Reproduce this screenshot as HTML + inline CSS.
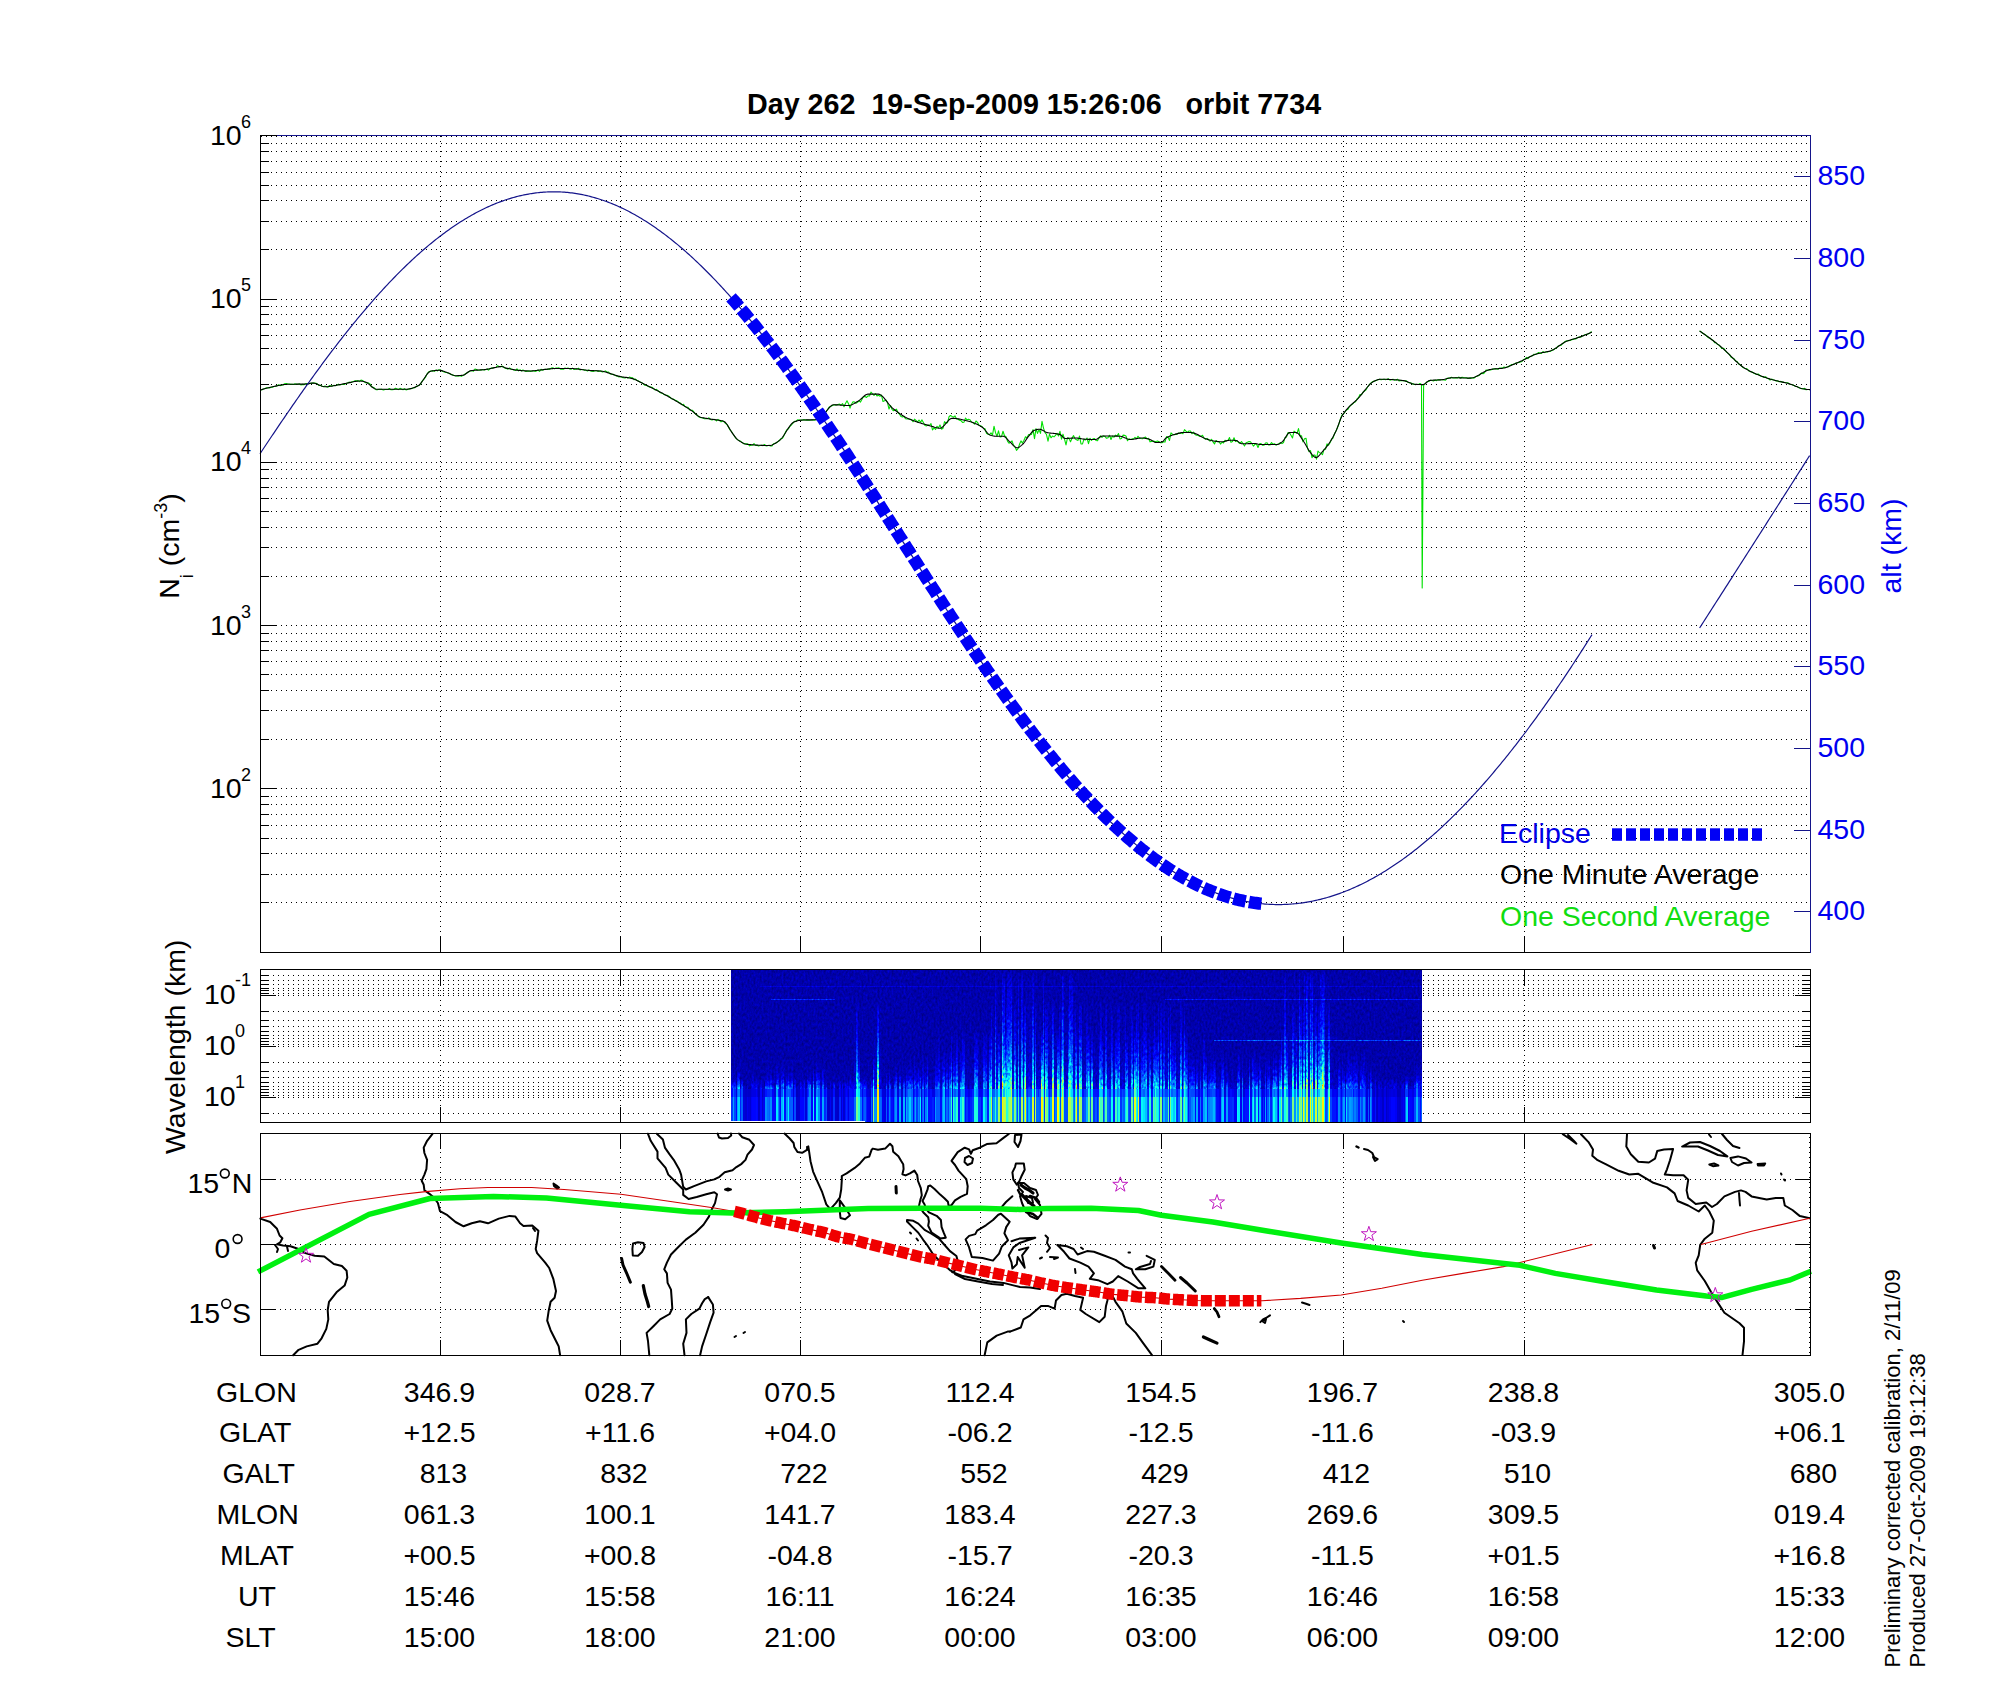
<!DOCTYPE html><html><head><meta charset="utf-8"><title>C/NOFS orbit 7734</title><style>html,body{margin:0;padding:0;background:#fff;}svg{display:block;}text{font-family:"Liberation Sans", sans-serif;white-space:pre;}</style></head><body>
<svg width="2000" height="1700" viewBox="0 0 2000 1700">
<rect width="2000" height="1700" fill="#fff"/>
<text x="747" y="114" font-size="28.7" text-anchor="start" fill="#000" font-weight="bold">Day 262  19-Sep-2009 15:26:06   orbit 7734</text>
<g shape-rendering="crispEdges"><line x1="261" y1="902.5" x2="1809" y2="902.5" stroke="#000" stroke-width="1" stroke-dasharray="1 4"/><line x1="261" y1="874.5" x2="1809" y2="874.5" stroke="#000" stroke-width="1" stroke-dasharray="1 4"/><line x1="261" y1="853.5" x2="1809" y2="853.5" stroke="#000" stroke-width="1" stroke-dasharray="1 4"/><line x1="261" y1="838.5" x2="1809" y2="838.5" stroke="#000" stroke-width="1" stroke-dasharray="1 4"/><line x1="261" y1="825.5" x2="1809" y2="825.5" stroke="#000" stroke-width="1" stroke-dasharray="1 4"/><line x1="261" y1="814.5" x2="1809" y2="814.5" stroke="#000" stroke-width="1" stroke-dasharray="1 4"/><line x1="261" y1="804.5" x2="1809" y2="804.5" stroke="#000" stroke-width="1" stroke-dasharray="1 4"/><line x1="261" y1="796.5" x2="1809" y2="796.5" stroke="#000" stroke-width="1" stroke-dasharray="1 4"/><line x1="261" y1="788.5" x2="1809" y2="788.5" stroke="#000" stroke-width="1" stroke-dasharray="1 4"/><line x1="261" y1="739.5" x2="1809" y2="739.5" stroke="#000" stroke-width="1" stroke-dasharray="1 4"/><line x1="261" y1="710.5" x2="1809" y2="710.5" stroke="#000" stroke-width="1" stroke-dasharray="1 4"/><line x1="261" y1="690.5" x2="1809" y2="690.5" stroke="#000" stroke-width="1" stroke-dasharray="1 4"/><line x1="261" y1="674.5" x2="1809" y2="674.5" stroke="#000" stroke-width="1" stroke-dasharray="1 4"/><line x1="261" y1="661.5" x2="1809" y2="661.5" stroke="#000" stroke-width="1" stroke-dasharray="1 4"/><line x1="261" y1="650.5" x2="1809" y2="650.5" stroke="#000" stroke-width="1" stroke-dasharray="1 4"/><line x1="261" y1="641.5" x2="1809" y2="641.5" stroke="#000" stroke-width="1" stroke-dasharray="1 4"/><line x1="261" y1="633.5" x2="1809" y2="633.5" stroke="#000" stroke-width="1" stroke-dasharray="1 4"/><line x1="261" y1="625.5" x2="1809" y2="625.5" stroke="#000" stroke-width="1" stroke-dasharray="1 4"/><line x1="261" y1="576.5" x2="1809" y2="576.5" stroke="#000" stroke-width="1" stroke-dasharray="1 4"/><line x1="261" y1="547.5" x2="1809" y2="547.5" stroke="#000" stroke-width="1" stroke-dasharray="1 4"/><line x1="261" y1="527.5" x2="1809" y2="527.5" stroke="#000" stroke-width="1" stroke-dasharray="1 4"/><line x1="261" y1="511.5" x2="1809" y2="511.5" stroke="#000" stroke-width="1" stroke-dasharray="1 4"/><line x1="261" y1="498.5" x2="1809" y2="498.5" stroke="#000" stroke-width="1" stroke-dasharray="1 4"/><line x1="261" y1="487.5" x2="1809" y2="487.5" stroke="#000" stroke-width="1" stroke-dasharray="1 4"/><line x1="261" y1="478.5" x2="1809" y2="478.5" stroke="#000" stroke-width="1" stroke-dasharray="1 4"/><line x1="261" y1="469.5" x2="1809" y2="469.5" stroke="#000" stroke-width="1" stroke-dasharray="1 4"/><line x1="261" y1="462.5" x2="1809" y2="462.5" stroke="#000" stroke-width="1" stroke-dasharray="1 4"/><line x1="261" y1="413.5" x2="1809" y2="413.5" stroke="#000" stroke-width="1" stroke-dasharray="1 4"/><line x1="261" y1="384.5" x2="1809" y2="384.5" stroke="#000" stroke-width="1" stroke-dasharray="1 4"/><line x1="261" y1="364.5" x2="1809" y2="364.5" stroke="#000" stroke-width="1" stroke-dasharray="1 4"/><line x1="261" y1="348.5" x2="1809" y2="348.5" stroke="#000" stroke-width="1" stroke-dasharray="1 4"/><line x1="261" y1="335.5" x2="1809" y2="335.5" stroke="#000" stroke-width="1" stroke-dasharray="1 4"/><line x1="261" y1="324.5" x2="1809" y2="324.5" stroke="#000" stroke-width="1" stroke-dasharray="1 4"/><line x1="261" y1="314.5" x2="1809" y2="314.5" stroke="#000" stroke-width="1" stroke-dasharray="1 4"/><line x1="261" y1="306.5" x2="1809" y2="306.5" stroke="#000" stroke-width="1" stroke-dasharray="1 4"/><line x1="261" y1="299.5" x2="1809" y2="299.5" stroke="#000" stroke-width="1" stroke-dasharray="1 4"/><line x1="261" y1="249.5" x2="1809" y2="249.5" stroke="#000" stroke-width="1" stroke-dasharray="1 4"/><line x1="261" y1="221.5" x2="1809" y2="221.5" stroke="#000" stroke-width="1" stroke-dasharray="1 4"/><line x1="261" y1="200.5" x2="1809" y2="200.5" stroke="#000" stroke-width="1" stroke-dasharray="1 4"/><line x1="261" y1="185.5" x2="1809" y2="185.5" stroke="#000" stroke-width="1" stroke-dasharray="1 4"/><line x1="261" y1="172.5" x2="1809" y2="172.5" stroke="#000" stroke-width="1" stroke-dasharray="1 4"/><line x1="261" y1="161.5" x2="1809" y2="161.5" stroke="#000" stroke-width="1" stroke-dasharray="1 4"/><line x1="261" y1="151.5" x2="1809" y2="151.5" stroke="#000" stroke-width="1" stroke-dasharray="1 4"/><line x1="261" y1="143.5" x2="1809" y2="143.5" stroke="#000" stroke-width="1" stroke-dasharray="1 4"/><line x1="261" y1="136.5" x2="1809" y2="136.5" stroke="#000" stroke-width="1" stroke-dasharray="1 4"/><line x1="440.5" y1="136" x2="440.5" y2="951" stroke="#000" stroke-width="1" stroke-dasharray="1 4"/><line x1="620.5" y1="136" x2="620.5" y2="951" stroke="#000" stroke-width="1" stroke-dasharray="1 4"/><line x1="800.5" y1="136" x2="800.5" y2="951" stroke="#000" stroke-width="1" stroke-dasharray="1 4"/><line x1="980.5" y1="136" x2="980.5" y2="951" stroke="#000" stroke-width="1" stroke-dasharray="1 4"/><line x1="1161.5" y1="136" x2="1161.5" y2="951" stroke="#000" stroke-width="1" stroke-dasharray="1 4"/><line x1="1343.5" y1="136" x2="1343.5" y2="951" stroke="#000" stroke-width="1" stroke-dasharray="1 4"/><line x1="1524.5" y1="136" x2="1524.5" y2="951" stroke="#000" stroke-width="1" stroke-dasharray="1 4"/></g>
<path d="M260.5 389.88 L262 389.77 L263.5 388.95 L265 388.47 L266.5 387.75 L268 387.69 L269.5 387.94 L271 387.25 L272.5 387.21 L274 386.52 L275.5 386.29 L277 385.9 L278.5 384.71 L280 385.64 L281.5 385.21 L283 384.97 L284.5 383.72 L286 383.56 L287.5 383.88 L289 384.04 L290.5 384.38 L292 384.19 L293.5 384.44 L295 383.87 L296.5 384.32 L298 384.35 L299.5 383.83 L301 384.96 L302.5 384.38 L304 384.66 L305.5 383.76 L307 383.66 L308.5 383.69 L310 383.4 L311.5 383.38 L313 383.14 L314.5 383.05 L316 383.24 L317.5 384.03 L319 385.51 L320.5 385.17 L322 386.25 L323.5 386.77 L325 386.07 L326.5 386.79 L328 387.25 L329.5 385.45 L331 386.02 L332.5 385.89 L334 385.31 L335.5 385.67 L337 385.12 L338.5 384.14 L340 384.94 L341.5 384.56 L343 384.39 L344.5 384.34 L346 383.54 L347.5 383.12 L349 382.11 L350.5 382.7 L352 381.77 L353.5 381.54 L355 380.87 L356.5 380.79 L358 380.84 L359.5 381.63 L361 380.06 L362.5 380.54 L364 381.68 L365.5 382.64 L367 382.99 L368.5 382.91 L370 383.92 L371.5 386.64 L373 387.34 L374.5 388.1 L376 389.62 L377.5 389.73 L379 389.28 L380.5 389.32 L382 389.41 L383.5 389.97 L385 389.5 L386.5 389.45 L388 389.46 L389.5 388.45 L391 389.82 L392.5 389.66 L394 389.45 L395.5 388.25 L397 388.9 L398.5 389.6 L400 388.33 L401.5 389.11 L403 389.69 L404.5 388.57 L406 389.97 L407.5 389.42 L409 388.9 L410.5 388.82 L412 388.56 L413.5 387.81 L415 387.73 L416.5 386.25 L418 385.71 L419.5 385.29 L421 383.1 L422.5 380.58 L424 379.17 L425.5 377.13 L427 374.12 L428.5 371.95 L430 371.39 L431.5 370.95 L433 370.64 L434.5 371.27 L436 369.95 L437.5 370.95 L439 369.69 L440.5 370.02 L442 371.04 L443.5 371.76 L445 372.2 L446.5 372.52 L448 372.94 L449.5 373.59 L451 374.52 L452.5 374.85 L454 375.59 L455.5 375.97 L457 375.68 L458.5 375.99 L460 375.79 L461.5 376.34 L463 375.37 L464.5 374.51 L466 373.51 L467.5 372.47 L469 371.84 L470.5 370.64 L472 370.76 L473.5 371.29 L475 369.04 L476.5 369.62 L478 370.18 L479.5 370.17 L481 370 L482.5 369.57 L484 369.96 L485.5 369.61 L487 369 L488.5 370.14 L490 368.83 L491.5 368.05 L493 367.93 L494.5 367.53 L496 367.29 L497.5 365.72 L499 366.51 L500.5 367 L502 366.06 L503.5 367.07 L505 368.15 L506.5 368.53 L508 369.18 L509.5 367.98 L511 368.95 L512.5 369.27 L514 370.01 L515.5 370.49 L517 368.89 L518.5 370.89 L520 369.81 L521.5 370.94 L523 370 L524.5 370.9 L526 371.47 L527.5 370.89 L529 371.08 L530.5 371.38 L532 370.99 L533.5 370.75 L535 371.36 L536.5 370.93 L538 370.09 L539.5 371.37 L541 369.35 L542.5 370.17 L544 369.42 L545.5 369.42 L547 369.51 L548.5 369.11 L550 369.14 L551.5 367.97 L553 367.87 L554.5 368.82 L556 368.04 L557.5 368.01 L559 367.79 L560.5 369.11 L562 368.86 L563.5 369.21 L565 368.05 L566.5 368.5 L568 367.95 L569.5 368.87 L571 369.27 L572.5 368.14 L574 369.42 L575.5 369.27 L577 368.88 L578.5 368.2 L580 370.01 L581.5 369.5 L583 369.46 L584.5 370.14 L586 370.32 L587.5 371.01 L589 369.94 L590.5 371.08 L592 371.32 L593.5 371.37 L595 370.65 L596.5 370.44 L598 371.36 L599.5 371.02 L601 371.16 L602.5 372.01 L604 371.52 L605.5 370.92 L607 372.27 L608.5 372.04 L610 373.83 L611.5 374.11 L613 374.18 L614.5 374.97 L616 375.86 L617.5 375.93 L619 376.92 L620.5 376.57 L622 377.36 L623.5 377.81 L625 378.07 L626.5 377.19 L628 378.15 L629.5 377.08 L631 377.75 L632.5 377.69 L634 379.63 L635.5 379.12 L637 380.4 L638.5 381.06 L640 381.93 L641.5 382.45 L643 383.62 L644.5 385.1 L646 384.98 L647.5 385.94 L649 386.89 L650.5 387.06 L652 387.29 L653.5 388.38 L655 389.92 L656.5 389.38 L658 390.66 L659.5 392.22 L661 392.91 L662.5 393.34 L664 394.54 L665.5 395.06 L667 395.25 L668.5 395.91 L670 397.2 L671.5 398.81 L673 398.97 L674.5 399.68 L676 400.63 L677.5 401.15 L679 402.72 L680.5 403.11 L682 404.76 L683.5 404.37 L685 406.58 L686.5 407.06 L688 407.4 L689.5 409.66 L691 410.18 L692.5 410.29 L694 412.17 L695.5 414.06 L697 414.99 L698.5 416.66 L700 417.36 L701.5 417.75 L703 417.94 L704.5 418.72 L706 418.65 L707.5 418.79 L709 417.82 L710.5 419.52 L712 419.96 L713.5 419.4 L715 419.51 L716.5 420.85 L718 419.29 L719.5 420.6 L721 421.84 L722.5 420.6 L724 421.83 L725.5 423.45 L727 424.38 L728.5 427.13 L730 429.9 L731.5 431.49 L733 433.95 L734.5 436.21 L736 438.43 L737.5 439.59 L739 440.59 L740.5 441.17 L742 442.35 L743.5 443.68 L745 443.87 L746.5 443.79 L748 443.98 L749.5 445.82 L751 445.22 L752.5 445.11 L754 443.68 L755.5 445.33 L757 445.36 L758.5 446.02 L760 445.49 L761.5 445.32 L763 445.65 L764.5 444.51 L766 445.97 L767.5 445.65 L769 445.16 L770.5 446.04 L772 445.88 L773.5 443.69 L775 443.2 L776.5 442.69 L778 441.6 L779.5 440.27 L781 438.6 L782.5 438.24 L784 435.56 L785.5 432.12 L787 429.63 L788.5 428.74 L790 426.25 L791.5 424.84 L793 423 L794.5 421.42 L796 421.42 L797.5 419.78 L799 420.09 L800.5 420.16 L802 420.32 L803.5 419.66 L805 419.9 L806.5 420.14 L808 420.08 L809.5 420.18 L811 419.96 L812.5 419.68 L814 420.19 L815.5 419.79 L817 419.31 L818.5 419.32 L820 419.01 L821.5 417.23 L823 415.27 L824.5 413.47 L826 411.77 L827.5 409.72 L829 407.34 L830.5 406.57 L832 405.76 L833.5 405.01 L835 404.73 L836.5 405.08 L838 404.48 L839.5 404.13 L841 405.25 L842.5 403.58 L844 406.68 L845.5 403.47 L847 400.75 L848.5 403.63 L850 408.16 L851.5 404.16 L853 401.68 L854.5 401.92 L856 403.31 L857.5 402.35 L859 400.88 L860.5 402.06 L862 399.3 L863.5 396.6 L865 396.48 L866.5 397.48 L868 395.85 L869.5 395.94 L871 392.15 L872.5 393.83 L874 395.41 L875.5 393.57 L877 396.02 L878.5 395.2 L880 396.22 L881.5 395.17 L883 401.52 L884.5 400.84 L886 400.09 L887.5 402.59 L889 409.03 L890.5 405.54 L892 409.29 L893.5 410.74 L895 410.15 L896.5 409.18 L898 412.73 L899.5 414.11 L901 416.52 L902.5 416.87 L904 416.41 L905.5 418.74 L907 418.94 L908.5 419.03 L910 419.41 L911.5 419.49 L913 421.74 L914.5 419.17 L916 420.47 L917.5 422.12 L919 419.97 L920.5 422.29 L922 419.91 L923.5 422.74 L925 425.43 L926.5 425.85 L928 425.15 L929.5 425.24 L931 423.54 L932.5 429.86 L934 427.98 L935.5 429.47 L937 426.28 L938.5 427.78 L940 424.92 L941.5 429.15 L943 428.31 L944.5 421.67 L946 423.22 L947.5 422.67 L949 416.79 L950.5 415.53 L952 416.39 L953.5 417.2 L955 415.91 L956.5 418.65 L958 419.27 L959.5 420.23 L961 420.65 L962.5 422.43 L964 422.17 L965.5 418.08 L967 419.89 L968.5 419.28 L970 419.68 L971.5 421.96 L973 422.65 L974.5 424.11 L976 421.02 L977.5 422.36 L979 425.31 L980.5 425.81 L982 426.5 L983.5 428.25 L985 428.74 L986.5 433.23 L988 434.28 L989.5 434.63 L991 432.89 L992.5 435.1 L994 426.23 L995.5 432.66 L997 436.33 L998.5 430.79 L1000 436.92 L1001.5 436.73 L1003 431.24 L1004.5 435.77 L1006 436.74 L1007.5 441.11 L1009 443.27 L1010.5 442.31 L1012 440.93 L1013.5 445.11 L1015 446.75 L1016.5 450.39 L1018 448.7 L1019.5 444.31 L1021 440.89 L1022.5 443.1 L1024 440.24 L1025.5 436.71 L1027 437.95 L1028.5 434.6 L1030 434.78 L1031.5 434.41 L1033 429.59 L1034.5 438.68 L1036 428.64 L1037.5 433.38 L1039 429.65 L1040.5 433.35 L1042 421.37 L1043.5 428.07 L1045 432.55 L1046.5 434.52 L1048 441.13 L1049.5 434.13 L1051 437.77 L1052.5 436.08 L1054 436.88 L1055.5 435.47 L1057 433.29 L1058.5 435.96 L1060 431.27 L1061.5 439.12 L1063 434.18 L1064.5 439.15 L1066 444.85 L1067.5 437.75 L1069 438.38 L1070.5 441.7 L1072 438.19 L1073.5 435.61 L1075 438.77 L1076.5 439.81 L1078 440.36 L1079.5 436.14 L1081 443.97 L1082.5 443.95 L1084 439.18 L1085.5 440.03 L1087 438.01 L1088.5 443.6 L1090 438.35 L1091.5 440.46 L1093 438.76 L1094.5 438.46 L1096 440.43 L1097.5 440.69 L1099 437.73 L1100.5 435.8 L1102 437.37 L1103.5 435.93 L1105 436.47 L1106.5 438.29 L1108 437.71 L1109.5 435.25 L1111 439.47 L1112.5 436.06 L1114 437.26 L1115.5 435.13 L1117 436.07 L1118.5 433.54 L1120 438.88 L1121.5 438.48 L1123 435.13 L1124.5 435.38 L1126 435.93 L1127.5 440.76 L1129 438.72 L1130.5 439.4 L1132 438.92 L1133.5 439.01 L1135 437.3 L1136.5 438.69 L1138 436.23 L1139.5 438.06 L1141 438.49 L1142.5 438.71 L1144 437.78 L1145.5 437.01 L1147 438.94 L1148.5 438.36 L1150 441.85 L1151.5 441.36 L1153 441.04 L1154.5 441.4 L1156 441.45 L1157.5 441.06 L1159 441.84 L1160.5 442.66 L1162 442.77 L1163.5 441.7 L1165 442.07 L1166.5 436.65 L1168 436.94 L1169.5 440.41 L1171 432.81 L1172.5 434.29 L1174 434.84 L1175.5 434.39 L1177 434.37 L1178.5 433.01 L1180 433.52 L1181.5 432.72 L1183 433.66 L1184.5 429.66 L1186 431.17 L1187.5 432.5 L1189 430.95 L1190.5 430.95 L1192 433.66 L1193.5 432.11 L1195 434.45 L1196.5 435.15 L1198 435.22 L1199.5 436.37 L1201 436.34 L1202.5 435.24 L1204 438.06 L1205.5 439.36 L1207 438.4 L1208.5 439.53 L1210 441.25 L1211.5 439.21 L1213 441.83 L1214.5 443.93 L1216 440.49 L1217.5 441.73 L1219 441.43 L1220.5 444.07 L1222 442.27 L1223.5 443 L1225 440.26 L1226.5 440.83 L1228 440.44 L1229.5 437.55 L1231 442.37 L1232.5 441.61 L1234 437.72 L1235.5 441.57 L1237 440.61 L1238.5 442.49 L1240 443.53 L1241.5 441.49 L1243 443.48 L1244.5 446.01 L1246 442.87 L1247.5 442.15 L1249 441.59 L1250.5 441.75 L1252 444.04 L1253.5 446.05 L1255 444.14 L1256.5 444.08 L1258 447.5 L1259.5 443.69 L1261 443.49 L1262.5 445.29 L1264 445.32 L1265.5 442.98 L1267 442.75 L1268.5 444.94 L1270 444.87 L1271.5 442.54 L1273 444.2 L1274.5 443.69 L1276 445.19 L1277.5 444.29 L1279 443.82 L1280.5 442.51 L1282 443.58 L1283.5 442.53 L1285 437.64 L1286.5 437.05 L1288 432.59 L1289.5 432.69 L1291 435.2 L1292.5 437.95 L1294 431.12 L1295.5 432.23 L1297 433.46 L1298.5 428.56 L1300 435.91 L1301.5 435.71 L1303 441.86 L1304.5 438.67 L1306 438.19 L1307.5 448.22 L1309 451.57 L1310.5 450.63 L1312 457.68 L1313.5 455.17 L1315 455.08 L1316.5 459.16 L1318 451.01 L1319.5 452.75 L1321 453.31 L1322.5 454.62 L1324 449.31 L1325.5 449.24 L1327 443.88 L1328.5 445.28 L1330 442.8 L1331.5 439.27 L1333 438.08 L1334.5 433.77 L1336 431.01 L1337.5 427.44 L1339 423.71 L1340.5 418.62 L1342 414.99 L1343.5 413.89 L1345 411.92 L1346.5 410.01 L1348 409.26 L1349.5 406.51 L1351 405.09 L1352.5 404.07 L1354 402.49 L1355.5 401.77 L1357 398.94 L1358.5 397.77 L1360 394.53 L1361.5 394.7 L1363 392.23 L1364.5 391.02 L1366 389.86 L1367.5 387.02 L1369 385.15 L1370.5 383.48 L1372 382.1 L1373.5 381.27 L1375 381.1 L1376.5 380.19 L1378 379.7 L1379.5 379.19 L1381 379.64 L1382.5 379.45 L1384 379.17 L1385.5 379.6 L1387 379.26 L1388.5 378.84 L1390 380.16 L1391.5 379.77 L1393 379.18 L1394.5 380.26 L1396 380.02 L1397.5 379.23 L1399 380.88 L1400.5 380.4 L1402 380.81 L1403.5 380.69 L1405 380.91 L1406.5 380.73 L1408 382.51 L1409.5 382.66 L1411 383.08 L1412.5 383.9 L1414 384.16 L1415.5 384.69 L1417 384.27 L1418.5 384.49 L1420 383.53 L1421.5 384.39 L1422.2 588 L1423.6 386 L1423 384.92 L1424.5 384.7 L1426 382.72 L1427.5 381.54 L1429 381.38 L1430.5 380.18 L1432 380.57 L1433.5 380.95 L1435 380.11 L1436.5 380.63 L1438 379.65 L1439.5 380.02 L1441 379.79 L1442.5 379.71 L1444 379.92 L1445.5 380.17 L1447 378.33 L1448.5 378 L1450 378.21 L1451.5 377.26 L1453 377.94 L1454.5 377.99 L1456 377.6 L1457.5 378.03 L1459 377.07 L1460.5 378.23 L1462 377.18 L1463.5 377.64 L1465 377.75 L1466.5 377.86 L1468 378.5 L1469.5 378.14 L1471 377.86 L1472.5 378.05 L1474 378.11 L1475.5 376.76 L1477 376.21 L1478.5 375.82 L1480 374.49 L1481.5 372.86 L1483 373.79 L1484.5 372.81 L1486 370.03 L1487.5 370.3 L1489 369.99 L1490.5 369.9 L1492 369.54 L1493.5 368.92 L1495 368.41 L1496.5 368.85 L1498 369.19 L1499.5 368.05 L1501 367.93 L1502.5 368.22 L1504 367.06 L1505.5 367.49 L1507 366.9 L1508.5 366.74 L1510 365.55 L1511.5 364.81 L1513 364.4 L1514.5 363.95 L1516 363.02 L1517.5 362.69 L1519 362.38 L1520.5 361.91 L1522 361.47 L1523.5 359.6 L1525 359.08 L1526.5 357.36 L1528 358.7 L1529.5 356.68 L1531 356.25 L1532.5 355.8 L1534 354.23 L1535.5 354.52 L1537 353.8 L1538.5 352.53 L1540 353.21 L1541.5 353.34 L1543 351.59 L1544.5 352.61 L1546 352.03 L1547.5 351.84 L1549 351.45 L1550.5 351.43 L1552 350.12 L1553.5 349.9 L1555 348.41 L1556.5 347.99 L1558 346.23 L1559.5 345.51 L1561 345.35 L1562.5 343.74 L1564 342.53 L1565.5 341.25 L1567 340.76 L1568.5 340.67 L1570 340.51 L1571.5 339.8 L1573 339.4 L1574.5 338.7 L1576 338.92 L1577.5 337.62 L1579 337.04 L1580.5 337.19 L1582 336.23 L1583.5 335.49 L1585 334.75 L1586.5 334.29 L1588 334.09 L1589.5 333.32 L1591 331.92 L1591.9 332.3" fill="none" stroke="#00e000" stroke-width="1.1" stroke-linejoin="round"/>
<path d="M1699.6 331.06 L1701.1 331.65 L1702.6 333.32 L1704.1 333.98 L1705.6 335.01 L1707.1 336.49 L1708.6 337.76 L1710.1 338.14 L1711.6 339.66 L1713.1 340.31 L1714.6 342.6 L1716.1 342.75 L1717.6 344.53 L1719.1 345.05 L1720.6 346.78 L1722.1 348.56 L1723.6 348.18 L1725.1 350.33 L1726.6 352.11 L1728.1 353.36 L1729.6 354.65 L1731.1 357.16 L1732.6 357.9 L1734.1 358.75 L1735.6 361.1 L1737.1 361.57 L1738.6 363.96 L1740.1 364.62 L1741.6 366.08 L1743.1 367.6 L1744.6 368.2 L1746.1 368.56 L1747.6 369.27 L1749.1 371.1 L1750.6 371.7 L1752.1 371.87 L1753.6 373.17 L1755.1 373.71 L1756.6 374.41 L1758.1 373.99 L1759.6 375.29 L1761.1 376.3 L1762.6 376.79 L1764.1 377.38 L1765.6 376.69 L1767.1 378.14 L1768.6 378.74 L1770.1 379.95 L1771.6 379.13 L1773.1 379.77 L1774.6 380.29 L1776.1 380.96 L1777.6 380.83 L1779.1 381.74 L1780.6 381.38 L1782.1 382.1 L1783.6 382.15 L1785.1 382.75 L1786.6 382.82 L1788.1 382.89 L1789.6 384.28 L1791.1 384.46 L1792.6 384.71 L1794.1 385.59 L1795.6 386.52 L1797.1 386.46 L1798.6 387.39 L1800.1 388.18 L1801.6 388.66 L1803.1 388.72 L1804.6 388.33 L1806.1 389.73 L1807.6 389.57 L1809.1 389.57 L1810 389.6" fill="none" stroke="#00e000" stroke-width="1.1" stroke-linejoin="round"/>
<path d="M260.5 390 L261.5 389.68 L262.5 389.37 L263.5 389.06 L264.5 388.77 L265.5 388.48 L266.5 388.19 L267.5 387.92 L268.5 387.66 L269.5 387.41 L270.5 387.16 L271.5 386.93 L272.5 386.71 L273.5 386.5 L274.5 386.3 L275.5 386.11 L276.5 385.91 L277.5 385.71 L278.5 385.51 L279.5 385.32 L280.5 385.14 L281.5 384.96 L282.5 384.8 L283.5 384.66 L284.5 384.54 L285.5 384.43 L286.5 384.36 L287.5 384.31 L288.5 384.28 L289.5 384.25 L290.5 384.23 L291.5 384.22 L292.5 384.21 L293.5 384.19 L294.5 384.18 L295.5 384.18 L296.5 384.17 L297.5 384.16 L298.5 384.16 L299.5 384.15 L300.5 384.14 L301.5 384.13 L302.5 384.11 L303.5 384.1 L304.5 384.08 L305.5 384.06 L306.5 384.03 L307.5 384 L308.5 383.85 L309.5 383.59 L310.5 383.31 L311.5 383.08 L312.5 383 L313.5 383.08 L314.5 383.26 L315.5 383.54 L316.5 383.88 L317.5 384.28 L318.5 384.7 L319.5 385.14 L320.5 385.56 L321.5 385.95 L322.5 386.29 L323.5 386.56 L324.5 386.74 L325.5 386.8 L326.5 386.77 L327.5 386.69 L328.5 386.56 L329.5 386.41 L330.5 386.25 L331.5 386.09 L332.5 385.94 L333.5 385.78 L334.5 385.61 L335.5 385.43 L336.5 385.24 L337.5 385.05 L338.5 384.85 L339.5 384.64 L340.5 384.44 L341.5 384.23 L342.5 384.03 L343.5 383.84 L344.5 383.65 L345.5 383.46 L346.5 383.27 L347.5 383.07 L348.5 382.85 L349.5 382.63 L350.5 382.4 L351.5 382.18 L352.5 381.96 L353.5 381.76 L354.5 381.57 L355.5 381.4 L356.5 381.25 L357.5 381.14 L358.5 381.05 L359.5 381.01 L360.5 381.01 L361.5 381.09 L362.5 381.24 L363.5 381.45 L364.5 381.68 L365.5 381.95 L366.5 382.41 L367.5 383.05 L368.5 383.83 L369.5 384.68 L370.5 385.58 L371.5 386.47 L372.5 387.31 L373.5 388.04 L374.5 388.64 L375.5 389.04 L376.5 389.2 L377.5 389.2 L378.5 389.2 L379.5 389.2 L380.5 389.2 L381.5 389.2 L382.5 389.2 L383.5 389.2 L384.5 389.2 L385.5 389.2 L386.5 389.2 L387.5 389.2 L388.5 389.2 L389.5 389.2 L390.5 389.2 L391.5 389.2 L392.5 389.2 L393.5 389.2 L394.5 389.2 L395.5 389.2 L396.5 389.2 L397.5 389.2 L398.5 389.2 L399.5 389.2 L400.5 389.2 L401.5 389.2 L402.5 389.2 L403.5 389.2 L404.5 389.2 L405.5 389.2 L406.5 389.2 L407.5 389.15 L408.5 389.04 L409.5 388.88 L410.5 388.66 L411.5 388.4 L412.5 388.09 L413.5 387.75 L414.5 387.38 L415.5 386.98 L416.5 386.56 L417.5 386.13 L418.5 385.61 L419.5 384.79 L420.5 383.71 L421.5 382.43 L422.5 381 L423.5 379.49 L424.5 377.95 L425.5 376.43 L426.5 375 L427.5 373.71 L428.5 372.61 L429.5 371.77 L430.5 371.23 L431.5 371.02 L432.5 370.86 L433.5 370.72 L434.5 370.59 L435.5 370.49 L436.5 370.4 L437.5 370.34 L438.5 370.31 L439.5 370.31 L440.5 370.4 L441.5 370.6 L442.5 370.88 L443.5 371.22 L444.5 371.59 L445.5 371.98 L446.5 372.35 L447.5 372.7 L448.5 373.07 L449.5 373.52 L450.5 374 L451.5 374.48 L452.5 374.93 L453.5 375.31 L454.5 375.57 L455.5 375.7 L456.5 375.69 L457.5 375.67 L458.5 375.62 L459.5 375.56 L460.5 375.47 L461.5 375.38 L462.5 375.27 L463.5 375.12 L464.5 374.71 L465.5 374.07 L466.5 373.29 L467.5 372.47 L468.5 371.72 L469.5 371.13 L470.5 370.8 L471.5 370.65 L472.5 370.51 L473.5 370.4 L474.5 370.31 L475.5 370.23 L476.5 370.16 L477.5 370.09 L478.5 370.04 L479.5 369.98 L480.5 369.92 L481.5 369.85 L482.5 369.78 L483.5 369.69 L484.5 369.59 L485.5 369.47 L486.5 369.33 L487.5 369.16 L488.5 368.97 L489.5 368.76 L490.5 368.55 L491.5 368.32 L492.5 368.09 L493.5 367.86 L494.5 367.63 L495.5 367.42 L496.5 367.22 L497.5 367.03 L498.5 366.85 L499.5 366.65 L500.5 366.52 L501.5 366.53 L502.5 366.75 L503.5 367.1 L504.5 367.5 L505.5 367.86 L506.5 368.12 L507.5 368.35 L508.5 368.58 L509.5 368.8 L510.5 369.02 L511.5 369.23 L512.5 369.43 L513.5 369.62 L514.5 369.8 L515.5 369.96 L516.5 370.11 L517.5 370.25 L518.5 370.36 L519.5 370.46 L520.5 370.54 L521.5 370.61 L522.5 370.68 L523.5 370.75 L524.5 370.82 L525.5 370.87 L526.5 370.92 L527.5 370.96 L528.5 370.98 L529.5 371 L530.5 371 L531.5 370.96 L532.5 370.89 L533.5 370.8 L534.5 370.68 L535.5 370.56 L536.5 370.43 L537.5 370.29 L538.5 370.17 L539.5 370.05 L540.5 369.95 L541.5 369.84 L542.5 369.73 L543.5 369.61 L544.5 369.49 L545.5 369.36 L546.5 369.24 L547.5 369.11 L548.5 369 L549.5 368.89 L550.5 368.79 L551.5 368.7 L552.5 368.63 L553.5 368.57 L554.5 368.52 L555.5 368.5 L556.5 368.5 L557.5 368.5 L558.5 368.5 L559.5 368.5 L560.5 368.5 L561.5 368.5 L562.5 368.5 L563.5 368.5 L564.5 368.5 L565.5 368.5 L566.5 368.5 L567.5 368.5 L568.5 368.5 L569.5 368.5 L570.5 368.5 L571.5 368.53 L572.5 368.57 L573.5 368.63 L574.5 368.71 L575.5 368.8 L576.5 368.9 L577.5 369.02 L578.5 369.14 L579.5 369.27 L580.5 369.41 L581.5 369.54 L582.5 369.68 L583.5 369.81 L584.5 369.94 L585.5 370.07 L586.5 370.18 L587.5 370.29 L588.5 370.39 L589.5 370.47 L590.5 370.53 L591.5 370.59 L592.5 370.63 L593.5 370.67 L594.5 370.71 L595.5 370.75 L596.5 370.79 L597.5 370.84 L598.5 370.9 L599.5 370.96 L600.5 371.05 L601.5 371.17 L602.5 371.33 L603.5 371.53 L604.5 371.76 L605.5 372.02 L606.5 372.31 L607.5 372.61 L608.5 372.93 L609.5 373.27 L610.5 373.61 L611.5 373.96 L612.5 374.3 L613.5 374.64 L614.5 374.98 L615.5 375.3 L616.5 375.61 L617.5 375.9 L618.5 376.16 L619.5 376.39 L620.5 376.6 L621.5 376.78 L622.5 376.94 L623.5 377.09 L624.5 377.23 L625.5 377.37 L626.5 377.51 L627.5 377.65 L628.5 377.81 L629.5 377.98 L630.5 378.17 L631.5 378.38 L632.5 378.63 L633.5 378.94 L634.5 379.3 L635.5 379.71 L636.5 380.17 L637.5 380.65 L638.5 381.16 L639.5 381.68 L640.5 382.21 L641.5 382.74 L642.5 383.26 L643.5 383.76 L644.5 384.24 L645.5 384.72 L646.5 385.2 L647.5 385.68 L648.5 386.17 L649.5 386.66 L650.5 387.15 L651.5 387.65 L652.5 388.15 L653.5 388.65 L654.5 389.15 L655.5 389.66 L656.5 390.17 L657.5 390.69 L658.5 391.21 L659.5 391.74 L660.5 392.27 L661.5 392.8 L662.5 393.34 L663.5 393.88 L664.5 394.43 L665.5 394.98 L666.5 395.53 L667.5 396.09 L668.5 396.66 L669.5 397.22 L670.5 397.8 L671.5 398.37 L672.5 398.95 L673.5 399.53 L674.5 400.12 L675.5 400.7 L676.5 401.3 L677.5 401.89 L678.5 402.48 L679.5 403.08 L680.5 403.68 L681.5 404.28 L682.5 404.89 L683.5 405.5 L684.5 406.12 L685.5 406.74 L686.5 407.37 L687.5 408.01 L688.5 408.66 L689.5 409.31 L690.5 409.98 L691.5 410.66 L692.5 411.36 L693.5 412.16 L694.5 413.03 L695.5 413.93 L696.5 414.8 L697.5 415.6 L698.5 416.28 L699.5 416.81 L700.5 417.16 L701.5 417.44 L702.5 417.68 L703.5 417.89 L704.5 418.08 L705.5 418.25 L706.5 418.41 L707.5 418.57 L708.5 418.74 L709.5 418.91 L710.5 419.09 L711.5 419.26 L712.5 419.41 L713.5 419.54 L714.5 419.67 L715.5 419.79 L716.5 419.92 L717.5 420.06 L718.5 420.21 L719.5 420.38 L720.5 420.57 L721.5 420.79 L722.5 421.04 L723.5 421.34 L724.5 421.73 L725.5 422.54 L726.5 423.73 L727.5 425.21 L728.5 426.86 L729.5 428.6 L730.5 430.32 L731.5 431.93 L732.5 433.33 L733.5 434.68 L734.5 436.07 L735.5 437.41 L736.5 438.61 L737.5 439.61 L738.5 440.35 L739.5 441.02 L740.5 441.65 L741.5 442.24 L742.5 442.78 L743.5 443.25 L744.5 443.65 L745.5 443.97 L746.5 444.2 L747.5 444.33 L748.5 444.44 L749.5 444.54 L750.5 444.63 L751.5 444.72 L752.5 444.81 L753.5 444.89 L754.5 444.96 L755.5 445.03 L756.5 445.1 L757.5 445.16 L758.5 445.21 L759.5 445.26 L760.5 445.31 L761.5 445.35 L762.5 445.39 L763.5 445.42 L764.5 445.44 L765.5 445.46 L766.5 445.48 L767.5 445.49 L768.5 445.5 L769.5 445.5 L770.5 445.41 L771.5 445.17 L772.5 444.82 L773.5 444.36 L774.5 443.82 L775.5 443.21 L776.5 442.55 L777.5 441.86 L778.5 441.16 L779.5 440.46 L780.5 439.59 L781.5 438.5 L782.5 437.23 L783.5 435.81 L784.5 434.29 L785.5 432.7 L786.5 431.08 L787.5 429.48 L788.5 427.92 L789.5 426.46 L790.5 425.13 L791.5 423.96 L792.5 423 L793.5 422.29 L794.5 421.84 L795.5 421.47 L796.5 421.13 L797.5 420.82 L798.5 420.56 L799.5 420.35 L800.5 420.19 L801.5 420.1 L802.5 420.05 L803.5 420 L804.5 419.97 L805.5 419.94 L806.5 419.92 L807.5 419.9 L808.5 419.89 L809.5 419.88 L810.5 419.87 L811.5 419.85 L812.5 419.84 L813.5 419.82 L814.5 419.8 L815.5 419.76 L816.5 419.73 L817.5 419.68 L818.5 419.62 L819.5 419.37 L820.5 418.53 L821.5 417.28 L822.5 415.88 L823.5 414.56 L824.5 413.47 L825.5 412.31 L826.5 411.06 L827.5 409.78 L828.5 408.54 L829.5 407.38 L830.5 406.37 L831.5 405.56 L832.5 405.02 L833.5 404.8 L834.5 404.81 L835.5 404.83 L836.5 404.87 L837.5 404.92 L838.5 404.98 L839.5 405.04 L840.5 405.11 L841.5 405.18 L842.5 405.25 L843.5 405.32 L844.5 405.38 L845.5 405.43 L846.5 405.47 L847.5 405.49 L848.5 405.5 L849.5 405.42 L850.5 405.19 L851.5 404.85 L852.5 404.4 L853.5 403.87 L854.5 403.29 L855.5 402.68 L856.5 402.06 L857.5 401.46 L858.5 400.89 L859.5 400.21 L860.5 399.39 L861.5 398.49 L862.5 397.56 L863.5 396.64 L864.5 395.79 L865.5 395.06 L866.5 394.51 L867.5 394.17 L868.5 394.1 L869.5 394.1 L870.5 394.1 L871.5 394.1 L872.5 394.1 L873.5 394.1 L874.5 394.1 L875.5 394.1 L876.5 394.1 L877.5 394.1 L878.5 394.12 L879.5 394.37 L880.5 394.86 L881.5 395.56 L882.5 396.44 L883.5 397.47 L884.5 398.61 L885.5 399.84 L886.5 401.13 L887.5 402.43 L888.5 403.73 L889.5 404.98 L890.5 406.16 L891.5 407.23 L892.5 408.17 L893.5 408.97 L894.5 409.75 L895.5 410.52 L896.5 411.28 L897.5 412.02 L898.5 412.75 L899.5 413.46 L900.5 414.15 L901.5 414.82 L902.5 415.46 L903.5 416.07 L904.5 416.65 L905.5 417.21 L906.5 417.73 L907.5 418.21 L908.5 418.66 L909.5 419.1 L910.5 419.52 L911.5 419.92 L912.5 420.32 L913.5 420.7 L914.5 421.07 L915.5 421.43 L916.5 421.77 L917.5 422.11 L918.5 422.44 L919.5 422.76 L920.5 423.07 L921.5 423.38 L922.5 423.68 L923.5 423.97 L924.5 424.26 L925.5 424.55 L926.5 424.83 L927.5 425.11 L928.5 425.39 L929.5 425.66 L930.5 425.94 L931.5 426.25 L932.5 426.57 L933.5 426.89 L934.5 427.21 L935.5 427.5 L936.5 427.76 L937.5 427.97 L938.5 428.12 L939.5 428.19 L940.5 428.13 L941.5 427.74 L942.5 427.06 L943.5 426.15 L944.5 425.08 L945.5 423.91 L946.5 422.71 L947.5 421.53 L948.5 420.45 L949.5 419.52 L950.5 418.82 L951.5 418.39 L952.5 418.3 L953.5 418.33 L954.5 418.39 L955.5 418.48 L956.5 418.6 L957.5 418.74 L958.5 418.9 L959.5 419.09 L960.5 419.29 L961.5 419.5 L962.5 419.72 L963.5 419.96 L964.5 420.2 L965.5 420.44 L966.5 420.68 L967.5 420.92 L968.5 421.18 L969.5 421.47 L970.5 421.77 L971.5 422.1 L972.5 422.46 L973.5 422.83 L974.5 423.23 L975.5 423.66 L976.5 424.11 L977.5 424.58 L978.5 425.09 L979.5 425.62 L980.5 426.17 L981.5 426.76 L982.5 427.43 L983.5 428.36 L984.5 429.49 L985.5 430.73 L986.5 431.97 L987.5 433.12 L988.5 434.1 L989.5 434.79 L990.5 435.16 L991.5 435.46 L992.5 435.73 L993.5 435.94 L994.5 436.1 L995.5 436.19 L996.5 436.2 L997.5 436.2 L998.5 436.2 L999.5 436.2 L1000.5 436.2 L1001.5 436.2 L1002.5 436.2 L1003.5 436.26 L1004.5 436.68 L1005.5 437.42 L1006.5 438.38 L1007.5 439.45 L1008.5 440.55 L1009.5 441.56 L1010.5 442.44 L1011.5 443.45 L1012.5 444.55 L1013.5 445.62 L1014.5 446.58 L1015.5 447.32 L1016.5 447.74 L1017.5 447.76 L1018.5 447.45 L1019.5 446.91 L1020.5 446.18 L1021.5 445.34 L1022.5 444.45 L1023.5 443.5 L1024.5 442.23 L1025.5 440.72 L1026.5 439.14 L1027.5 437.65 L1028.5 436.37 L1029.5 435.06 L1030.5 433.75 L1031.5 432.53 L1032.5 431.5 L1033.5 430.74 L1034.5 430.31 L1035.5 429.96 L1036.5 429.65 L1037.5 429.41 L1038.5 429.26 L1039.5 429.2 L1040.5 429.33 L1041.5 429.69 L1042.5 430.19 L1043.5 430.78 L1044.5 431.38 L1045.5 431.93 L1046.5 432.35 L1047.5 432.61 L1048.5 432.81 L1049.5 432.97 L1050.5 433.1 L1051.5 433.22 L1052.5 433.32 L1053.5 433.42 L1054.5 433.52 L1055.5 433.64 L1056.5 433.77 L1057.5 433.93 L1058.5 434.13 L1059.5 434.36 L1060.5 434.73 L1061.5 435.57 L1062.5 436.68 L1063.5 437.73 L1064.5 438.4 L1065.5 438.5 L1066.5 438.47 L1067.5 438.42 L1068.5 438.36 L1069.5 438.29 L1070.5 438.21 L1071.5 438.14 L1072.5 438.08 L1073.5 438.03 L1074.5 438 L1075.5 438.01 L1076.5 438.06 L1077.5 438.17 L1078.5 438.3 L1079.5 438.46 L1080.5 438.62 L1081.5 438.79 L1082.5 438.94 L1083.5 439.08 L1084.5 439.17 L1085.5 439.22 L1086.5 439.27 L1087.5 439.31 L1088.5 439.36 L1089.5 439.39 L1090.5 439.43 L1091.5 439.45 L1092.5 439.48 L1093.5 439.49 L1094.5 439.5 L1095.5 439.46 L1096.5 439.18 L1097.5 438.69 L1098.5 438.08 L1099.5 437.42 L1100.5 436.81 L1101.5 436.32 L1102.5 436.04 L1103.5 436 L1104.5 436 L1105.5 436 L1106.5 436.01 L1107.5 436.01 L1108.5 436.02 L1109.5 436.03 L1110.5 436.04 L1111.5 436.05 L1112.5 436.06 L1113.5 436.07 L1114.5 436.09 L1115.5 436.11 L1116.5 436.12 L1117.5 436.14 L1118.5 436.16 L1119.5 436.19 L1120.5 436.24 L1121.5 436.43 L1122.5 436.75 L1123.5 437.17 L1124.5 437.64 L1125.5 438.12 L1126.5 438.59 L1127.5 439 L1128.5 439.3 L1129.5 439.48 L1130.5 439.49 L1131.5 439.44 L1132.5 439.33 L1133.5 439.19 L1134.5 439.03 L1135.5 438.84 L1136.5 438.66 L1137.5 438.47 L1138.5 438.31 L1139.5 438.17 L1140.5 438.06 L1141.5 438.01 L1142.5 438.01 L1143.5 438.07 L1144.5 438.2 L1145.5 438.37 L1146.5 438.58 L1147.5 438.82 L1148.5 439.09 L1149.5 439.36 L1150.5 439.68 L1151.5 440.2 L1152.5 440.87 L1153.5 441.54 L1154.5 442.11 L1155.5 442.45 L1156.5 442.5 L1157.5 442.47 L1158.5 442.41 L1159.5 442.33 L1160.5 442.22 L1161.5 442.08 L1162.5 441.8 L1163.5 440.85 L1164.5 439.55 L1165.5 438.39 L1166.5 437.71 L1167.5 437.17 L1168.5 436.67 L1169.5 436.22 L1170.5 435.8 L1171.5 435.42 L1172.5 435.07 L1173.5 434.74 L1174.5 434.44 L1175.5 434.15 L1176.5 433.88 L1177.5 433.63 L1178.5 433.37 L1179.5 433.1 L1180.5 432.84 L1181.5 432.64 L1182.5 432.52 L1183.5 432.5 L1184.5 432.5 L1185.5 432.5 L1186.5 432.5 L1187.5 432.5 L1188.5 432.5 L1189.5 432.5 L1190.5 432.52 L1191.5 432.63 L1192.5 432.83 L1193.5 433.08 L1194.5 433.36 L1195.5 433.65 L1196.5 434.03 L1197.5 434.5 L1198.5 435.03 L1199.5 435.61 L1200.5 436.2 L1201.5 436.79 L1202.5 437.35 L1203.5 437.87 L1204.5 438.31 L1205.5 438.67 L1206.5 439.02 L1207.5 439.36 L1208.5 439.68 L1209.5 439.98 L1210.5 440.27 L1211.5 440.53 L1212.5 440.76 L1213.5 440.97 L1214.5 441.13 L1215.5 441.26 L1216.5 441.39 L1217.5 441.51 L1218.5 441.61 L1219.5 441.7 L1220.5 441.76 L1221.5 441.8 L1222.5 441.78 L1223.5 441.65 L1224.5 441.43 L1225.5 441.15 L1226.5 440.85 L1227.5 440.57 L1228.5 440.35 L1229.5 440.22 L1230.5 440.2 L1231.5 440.22 L1232.5 440.26 L1233.5 440.31 L1234.5 440.38 L1235.5 440.46 L1236.5 440.6 L1237.5 441.09 L1238.5 441.82 L1239.5 442.61 L1240.5 443.31 L1241.5 443.74 L1242.5 443.8 L1243.5 443.79 L1244.5 443.77 L1245.5 443.75 L1246.5 443.72 L1247.5 443.68 L1248.5 443.65 L1249.5 443.62 L1250.5 443.58 L1251.5 443.55 L1252.5 443.53 L1253.5 443.51 L1254.5 443.5 L1255.5 443.53 L1256.5 443.72 L1257.5 444 L1258.5 444.28 L1259.5 444.47 L1260.5 444.5 L1261.5 444.5 L1262.5 444.5 L1263.5 444.5 L1264.5 444.5 L1265.5 444.5 L1266.5 444.5 L1267.5 444.5 L1268.5 444.5 L1269.5 444.5 L1270.5 444.5 L1271.5 444.5 L1272.5 444.5 L1273.5 444.5 L1274.5 444.5 L1275.5 444.5 L1276.5 444.5 L1277.5 444.46 L1278.5 444.17 L1279.5 443.68 L1280.5 443.04 L1281.5 442.35 L1282.5 441.59 L1283.5 440.45 L1284.5 438.99 L1285.5 437.38 L1286.5 435.78 L1287.5 434.34 L1288.5 433.22 L1289.5 432.59 L1290.5 432.5 L1291.5 432.5 L1292.5 432.5 L1293.5 432.5 L1294.5 432.5 L1295.5 432.5 L1296.5 432.57 L1297.5 433.06 L1298.5 433.95 L1299.5 435.16 L1300.5 436.59 L1301.5 438.14 L1302.5 439.74 L1303.5 441.28 L1304.5 442.74 L1305.5 444.41 L1306.5 446.23 L1307.5 448.08 L1308.5 449.83 L1309.5 451.36 L1310.5 452.61 L1311.5 453.86 L1312.5 455.08 L1313.5 456.15 L1314.5 456.97 L1315.5 457.44 L1316.5 457.44 L1317.5 457 L1318.5 456.22 L1319.5 455.19 L1320.5 454.01 L1321.5 452.77 L1322.5 451.56 L1323.5 450.45 L1324.5 449.32 L1325.5 448.13 L1326.5 446.88 L1327.5 445.57 L1328.5 444.2 L1329.5 442.75 L1330.5 441.23 L1331.5 439.6 L1332.5 437.86 L1333.5 436.01 L1334.5 434.08 L1335.5 432.05 L1336.5 429.88 L1337.5 427.36 L1338.5 424.61 L1339.5 421.84 L1340.5 419.22 L1341.5 416.95 L1342.5 415.15 L1343.5 413.6 L1344.5 412.2 L1345.5 410.91 L1346.5 409.71 L1347.5 408.56 L1348.5 407.45 L1349.5 406.41 L1350.5 405.44 L1351.5 404.51 L1352.5 403.62 L1353.5 402.75 L1354.5 401.87 L1355.5 400.97 L1356.5 400.03 L1357.5 399.03 L1358.5 397.95 L1359.5 396.79 L1360.5 395.57 L1361.5 394.31 L1362.5 393.04 L1363.5 391.79 L1364.5 390.58 L1365.5 389.42 L1366.5 388.23 L1367.5 387.02 L1368.5 385.84 L1369.5 384.72 L1370.5 383.72 L1371.5 382.86 L1372.5 382.17 L1373.5 381.57 L1374.5 381.03 L1375.5 380.56 L1376.5 380.17 L1377.5 379.84 L1378.5 379.51 L1379.5 379.27 L1380.5 379.2 L1381.5 379.2 L1382.5 379.21 L1383.5 379.23 L1384.5 379.25 L1385.5 379.28 L1386.5 379.31 L1387.5 379.35 L1388.5 379.39 L1389.5 379.44 L1390.5 379.49 L1391.5 379.55 L1392.5 379.61 L1393.5 379.68 L1394.5 379.74 L1395.5 379.82 L1396.5 379.9 L1397.5 379.98 L1398.5 380.06 L1399.5 380.15 L1400.5 380.24 L1401.5 380.33 L1402.5 380.43 L1403.5 380.6 L1404.5 380.84 L1405.5 381.13 L1406.5 381.48 L1407.5 381.85 L1408.5 382.25 L1409.5 382.64 L1410.5 383.03 L1411.5 383.4 L1412.5 383.73 L1413.5 384.01 L1414.5 384.23 L1415.5 384.36 L1416.5 384.42 L1417.5 384.47 L1418.5 384.51 L1419.5 384.54 L1420.5 384.57 L1421.5 384.59 L1422.5 384.6 L1423.5 384.52 L1424.5 384.06 L1425.5 383.32 L1426.5 382.46 L1427.5 381.59 L1428.5 380.88 L1429.5 380.45 L1430.5 380.33 L1431.5 380.25 L1432.5 380.19 L1433.5 380.14 L1434.5 380.1 L1435.5 380.07 L1436.5 380.04 L1437.5 380 L1438.5 379.97 L1439.5 379.92 L1440.5 379.86 L1441.5 379.78 L1442.5 379.66 L1443.5 379.48 L1444.5 379.27 L1445.5 379.03 L1446.5 378.77 L1447.5 378.52 L1448.5 378.28 L1449.5 378.06 L1450.5 377.89 L1451.5 377.76 L1452.5 377.7 L1453.5 377.7 L1454.5 377.71 L1455.5 377.73 L1456.5 377.75 L1457.5 377.77 L1458.5 377.8 L1459.5 377.83 L1460.5 377.87 L1461.5 377.9 L1462.5 377.94 L1463.5 377.97 L1464.5 378 L1465.5 378.03 L1466.5 378.06 L1467.5 378.08 L1468.5 378.09 L1469.5 378.1 L1470.5 378.09 L1471.5 377.99 L1472.5 377.79 L1473.5 377.52 L1474.5 377.17 L1475.5 376.75 L1476.5 376.29 L1477.5 375.77 L1478.5 375.23 L1479.5 374.66 L1480.5 374.07 L1481.5 373.47 L1482.5 372.88 L1483.5 372.31 L1484.5 371.75 L1485.5 371.23 L1486.5 370.75 L1487.5 370.32 L1488.5 369.95 L1489.5 369.65 L1490.5 369.43 L1491.5 369.28 L1492.5 369.16 L1493.5 369.05 L1494.5 368.96 L1495.5 368.88 L1496.5 368.8 L1497.5 368.73 L1498.5 368.65 L1499.5 368.57 L1500.5 368.47 L1501.5 368.37 L1502.5 368.24 L1503.5 368.08 L1504.5 367.88 L1505.5 367.61 L1506.5 367.29 L1507.5 366.93 L1508.5 366.53 L1509.5 366.11 L1510.5 365.67 L1511.5 365.23 L1512.5 364.8 L1513.5 364.38 L1514.5 363.97 L1515.5 363.56 L1516.5 363.13 L1517.5 362.69 L1518.5 362.24 L1519.5 361.79 L1520.5 361.34 L1521.5 360.88 L1522.5 360.43 L1523.5 359.97 L1524.5 359.52 L1525.5 359.04 L1526.5 358.55 L1527.5 358.05 L1528.5 357.54 L1529.5 357.02 L1530.5 356.52 L1531.5 356.02 L1532.5 355.55 L1533.5 355.1 L1534.5 354.68 L1535.5 354.3 L1536.5 353.96 L1537.5 353.67 L1538.5 353.41 L1539.5 353.17 L1540.5 352.96 L1541.5 352.77 L1542.5 352.58 L1543.5 352.4 L1544.5 352.22 L1545.5 352.03 L1546.5 351.83 L1547.5 351.61 L1548.5 351.37 L1549.5 351.1 L1550.5 350.8 L1551.5 350.44 L1552.5 349.99 L1553.5 349.48 L1554.5 348.91 L1555.5 348.3 L1556.5 347.64 L1557.5 346.96 L1558.5 346.27 L1559.5 345.57 L1560.5 344.87 L1561.5 344.18 L1562.5 343.52 L1563.5 342.9 L1564.5 342.32 L1565.5 341.8 L1566.5 341.34 L1567.5 340.94 L1568.5 340.57 L1569.5 340.23 L1570.5 339.9 L1571.5 339.59 L1572.5 339.3 L1573.5 339.01 L1574.5 338.72 L1575.5 338.42 L1576.5 338.12 L1577.5 337.81 L1578.5 337.48 L1579.5 337.13 L1580.5 336.76 L1581.5 336.39 L1582.5 336.01 L1583.5 335.62 L1584.5 335.23 L1585.5 334.83 L1586.5 334.42 L1587.5 334 L1588.5 333.58 L1589.5 333.15 L1590.5 332.72 L1591.5 332.28 L1591.9 332.1" fill="none" stroke="#000" stroke-width="1.1" stroke-linejoin="round"/>
<path d="M1699.6 331 L1700.6 331.67 L1701.6 332.35 L1702.6 333.04 L1703.6 333.73 L1704.6 334.43 L1705.6 335.13 L1706.6 335.85 L1707.6 336.56 L1708.6 337.29 L1709.6 338.02 L1710.6 338.76 L1711.6 339.5 L1712.6 340.25 L1713.6 341.01 L1714.6 341.77 L1715.6 342.54 L1716.6 343.32 L1717.6 344.1 L1718.6 344.89 L1719.6 345.68 L1720.6 346.49 L1721.6 347.33 L1722.6 348.2 L1723.6 349.1 L1724.6 350.02 L1725.6 350.97 L1726.6 351.93 L1727.6 352.91 L1728.6 353.89 L1729.6 354.89 L1730.6 355.88 L1731.6 356.88 L1732.6 357.87 L1733.6 358.86 L1734.6 359.83 L1735.6 360.79 L1736.6 361.73 L1737.6 362.65 L1738.6 363.54 L1739.6 364.4 L1740.6 365.24 L1741.6 366.03 L1742.6 366.78 L1743.6 367.49 L1744.6 368.16 L1745.6 368.77 L1746.6 369.34 L1747.6 369.88 L1748.6 370.41 L1749.6 370.93 L1750.6 371.43 L1751.6 371.92 L1752.6 372.4 L1753.6 372.86 L1754.6 373.31 L1755.6 373.75 L1756.6 374.18 L1757.6 374.6 L1758.6 375 L1759.6 375.4 L1760.6 375.78 L1761.6 376.16 L1762.6 376.53 L1763.6 376.88 L1764.6 377.23 L1765.6 377.58 L1766.6 377.91 L1767.6 378.24 L1768.6 378.56 L1769.6 378.88 L1770.6 379.18 L1771.6 379.48 L1772.6 379.75 L1773.6 380.02 L1774.6 380.28 L1775.6 380.52 L1776.6 380.76 L1777.6 380.99 L1778.6 381.22 L1779.6 381.44 L1780.6 381.67 L1781.6 381.89 L1782.6 382.12 L1783.6 382.34 L1784.6 382.58 L1785.6 382.82 L1786.6 383.07 L1787.6 383.33 L1788.6 383.6 L1789.6 383.88 L1790.6 384.19 L1791.6 384.53 L1792.6 384.91 L1793.6 385.31 L1794.6 385.73 L1795.6 386.16 L1796.6 386.59 L1797.6 387.02 L1798.6 387.43 L1799.6 387.81 L1800.6 388.16 L1801.6 388.47 L1802.6 388.73 L1803.6 388.94 L1804.6 389.09 L1805.6 389.22 L1806.6 389.35 L1807.6 389.45 L1808.6 389.53 L1809.6 389.59 L1810 389.6" fill="none" stroke="#000" stroke-width="1.1" stroke-linejoin="round"/>
<path d="M260 453.81 L261.5 451.54 L263 449.28 L264.5 447.02 L266 444.77 L267.5 442.52 L269 440.27 L270.5 438.03 L272 435.79 L273.5 433.55 L275 431.32 L276.5 429.1 L278 426.88 L279.5 424.66 L281 422.45 L282.5 420.24 L284 418.04 L285.5 415.85 L287 413.66 L288.5 411.47 L290 409.29 L291.5 407.12 L293 404.95 L294.5 402.79 L296 400.63 L297.5 398.48 L299 396.34 L300.5 394.2 L302 392.07 L303.5 389.95 L305 387.83 L306.5 385.72 L308 383.62 L309.5 381.52 L311 379.43 L312.5 377.35 L314 375.27 L315.5 373.21 L317 371.15 L318.5 369.09 L320 367.05 L321.5 365.01 L323 362.98 L324.5 360.96 L326 358.95 L327.5 356.94 L329 354.95 L330.5 352.96 L332 350.98 L333.5 349.01 L335 347.05 L336.5 345.09 L338 343.15 L339.5 341.21 L341 339.29 L342.5 337.37 L344 335.46 L345.5 333.56 L347 331.68 L348.5 329.8 L350 327.93 L351.5 326.07 L353 324.21 L354.5 322.37 L356 320.54 L357.5 318.72 L359 316.91 L360.5 315.11 L362 313.32 L363.5 311.54 L365 309.77 L366.5 308.01 L368 306.27 L369.5 304.53 L371 302.8 L372.5 301.09 L374 299.38 L375.5 297.69 L377 296.01 L378.5 294.33 L380 292.67 L381.5 291.03 L383 289.39 L384.5 287.76 L386 286.15 L387.5 284.55 L389 282.95 L390.5 281.38 L392 279.81 L393.5 278.25 L395 276.71 L396.5 275.18 L398 273.66 L399.5 272.15 L401 270.66 L402.5 269.17 L404 267.7 L405.5 266.24 L407 264.8 L408.5 263.37 L410 261.95 L411.5 260.54 L413 259.15 L414.5 257.76 L416 256.39 L417.5 255.04 L419 253.7 L420.5 252.37 L422 251.05 L423.5 249.75 L425 248.46 L426.5 247.18 L428 245.91 L429.5 244.66 L431 243.43 L432.5 242.2 L434 240.99 L435.5 239.8 L437 238.62 L438.5 237.45 L440 236.29 L441.5 235.15 L443 234.03 L444.5 232.91 L446 231.81 L447.5 230.73 L449 229.66 L450.5 228.6 L452 227.56 L453.5 226.53 L455 225.51 L456.5 224.51 L458 223.53 L459.5 222.56 L461 221.6 L462.5 220.66 L464 219.73 L465.5 218.82 L467 217.92 L468.5 217.03 L470 216.16 L471.5 215.31 L473 214.47 L474.5 213.64 L476 212.83 L477.5 212.04 L479 211.26 L480.5 210.49 L482 209.74 L483.5 209.01 L485 208.29 L486.5 207.58 L488 206.89 L489.5 206.21 L491 205.55 L492.5 204.91 L494 204.28 L495.5 203.66 L497 203.06 L498.5 202.48 L500 201.91 L501.5 201.36 L503 200.82 L504.5 200.3 L506 199.79 L507.5 199.3 L509 198.82 L510.5 198.36 L512 197.91 L513.5 197.48 L515 197.07 L516.5 196.67 L518 196.29 L519.5 195.92 L521 195.57 L522.5 195.23 L524 194.91 L525.5 194.61 L527 194.32 L528.5 194.04 L530 193.78 L531.5 193.54 L533 193.32 L534.5 193.1 L536 192.91 L537.5 192.73 L539 192.57 L540.5 192.42 L542 192.29 L543.5 192.17 L545 192.07 L546.5 191.98 L548 191.92 L549.5 191.86 L551 191.83 L552.5 191.8 L554 191.8 L555.5 191.81 L557 191.84 L558.5 191.88 L560 191.94 L561.5 192.01 L563 192.1 L564.5 192.2 L566 192.32 L567.5 192.46 L569 192.61 L570.5 192.78 L572 192.97 L573.5 193.17 L575 193.38 L576.5 193.62 L578 193.86 L579.5 194.13 L581 194.41 L582.5 194.7 L584 195.01 L585.5 195.34 L587 195.68 L588.5 196.04 L590 196.41 L591.5 196.8 L593 197.21 L594.5 197.63 L596 198.07 L597.5 198.52 L599 198.99 L600.5 199.47 L602 199.97 L603.5 200.48 L605 201.01 L606.5 201.56 L608 202.12 L609.5 202.7 L611 203.29 L612.5 203.9 L614 204.52 L615.5 205.16 L617 205.81 L618.5 206.48 L620 207.16 L621.5 207.86 L623 208.58 L624.5 209.31 L626 210.05 L627.5 210.81 L629 211.59 L630.5 212.38 L632 213.19 L633.5 214.01 L635 214.84 L636.5 215.69 L638 216.56 L639.5 217.44 L641 218.33 L642.5 219.24 L644 220.17 L645.5 221.11 L647 222.06 L648.5 223.03 L650 224.02 L651.5 225.01 L653 226.03 L654.5 227.05 L656 228.09 L657.5 229.15 L659 230.22 L660.5 231.3 L662 232.4 L663.5 233.52 L665 234.64 L666.5 235.78 L668 236.94 L669.5 238.11 L671 239.29 L672.5 240.49 L674 241.7 L675.5 242.92 L677 244.16 L678.5 245.41 L680 246.68 L681.5 247.96 L683 249.25 L684.5 250.56 L686 251.87 L687.5 253.21 L689 254.55 L690.5 255.91 L692 257.28 L693.5 258.67 L695 260.07 L696.5 261.48 L698 262.9 L699.5 264.34 L701 265.79 L702.5 267.25 L704 268.72 L705.5 270.21 L707 271.71 L708.5 273.22 L710 274.75 L711.5 276.28 L713 277.83 L714.5 279.39 L716 280.96 L717.5 282.55 L719 284.15 L720.5 285.75 L722 287.37 L723.5 289 L725 290.65 L726.5 292.3 L728 293.97 L729.5 295.64 L731 297.33 L732.5 299.03 L734 300.74 L735.5 302.46 L737 304.2 L738.5 305.94 L740 307.69 L741.5 309.46 L743 311.23 L744.5 313.02 L746 314.81 L747.5 316.62 L749 318.44 L750.5 320.26 L752 322.1 L753.5 323.95 L755 325.8 L756.5 327.67 L758 329.54 L759.5 331.43 L761 333.32 L762.5 335.23 L764 337.14 L765.5 339.06 L767 341 L768.5 342.94 L770 344.89 L771.5 346.85 L773 348.81 L774.5 350.79 L776 352.77 L777.5 354.77 L779 356.77 L780.5 358.78 L782 360.8 L783.5 362.82 L785 364.86 L786.5 366.9 L788 368.95 L789.5 371.01 L791 373.07 L792.5 375.15 L794 377.23 L795.5 379.32 L797 381.41 L798.5 383.51 L800 385.62 L801.5 387.74 L803 389.86 L804.5 391.99 L806 394.13 L807.5 396.28 L809 398.43 L810.5 400.58 L812 402.74 L813.5 404.91 L815 407.09 L816.5 409.27 L818 411.46 L819.5 413.65 L821 415.85 L822.5 418.05 L824 420.26 L825.5 422.48 L827 424.7 L828.5 426.93 L830 429.16 L831.5 431.39 L833 433.63 L834.5 435.88 L836 438.13 L837.5 440.38 L839 442.64 L840.5 444.91 L842 447.18 L843.5 449.45 L845 451.73 L846.5 454.01 L848 456.29 L849.5 458.58 L851 460.87 L852.5 463.17 L854 465.46 L855.5 467.77 L857 470.07 L858.5 472.38 L860 474.69 L861.5 477.01 L863 479.33 L864.5 481.65 L866 483.97 L867.5 486.29 L869 488.62 L870.5 490.95 L872 493.28 L873.5 495.62 L875 497.95 L876.5 500.29 L878 502.63 L879.5 504.97 L881 507.32 L882.5 509.66 L884 512.01 L885.5 514.35 L887 516.7 L888.5 519.05 L890 521.4 L891.5 523.75 L893 526.1 L894.5 528.45 L896 530.81 L897.5 533.16 L899 535.51 L900.5 537.86 L902 540.22 L903.5 542.57 L905 544.92 L906.5 547.27 L908 549.62 L909.5 551.97 L911 554.32 L912.5 556.67 L914 559.02 L915.5 561.37 L917 563.71 L918.5 566.06 L920 568.4 L921.5 570.74 L923 573.08 L924.5 575.42 L926 577.76 L927.5 580.09 L929 582.42 L930.5 584.75 L932 587.08 L933.5 589.41 L935 591.73 L936.5 594.05 L938 596.37 L939.5 598.68 L941 601 L942.5 603.31 L944 605.61 L945.5 607.91 L947 610.21 L948.5 612.51 L950 614.8 L951.5 617.09 L953 619.38 L954.5 621.66 L956 623.94 L957.5 626.21 L959 628.48 L960.5 630.74 L962 633.01 L963.5 635.26 L965 637.52 L966.5 639.76 L968 642.01 L969.5 644.24 L971 646.48 L972.5 648.71 L974 650.93 L975.5 653.15 L977 655.36 L978.5 657.57 L980 659.77 L981.5 661.97 L983 664.16 L984.5 666.35 L986 668.53 L987.5 670.7 L989 672.87 L990.5 675.03 L992 677.19 L993.5 679.34 L995 681.48 L996.5 683.62 L998 685.75 L999.5 687.88 L1001 689.99 L1002.5 692.1 L1004 694.21 L1005.5 696.31 L1007 698.4 L1008.5 700.48 L1010 702.56 L1011.5 704.63 L1013 706.69 L1014.5 708.74 L1016 710.79 L1017.5 712.83 L1019 714.87 L1020.5 716.89 L1022 718.91 L1023.5 720.92 L1025 722.92 L1026.5 724.91 L1028 726.9 L1029.5 728.88 L1031 730.84 L1032.5 732.81 L1034 734.76 L1035.5 736.7 L1037 738.64 L1038.5 740.57 L1040 742.49 L1041.5 744.4 L1043 746.3 L1044.5 748.19 L1046 750.08 L1047.5 751.95 L1049 753.82 L1050.5 755.67 L1052 757.52 L1053.5 759.36 L1055 761.19 L1056.5 763.01 L1058 764.82 L1059.5 766.62 L1061 768.41 L1062.5 770.2 L1064 771.97 L1065.5 773.73 L1067 775.49 L1068.5 777.23 L1070 778.96 L1071.5 780.69 L1073 782.4 L1074.5 784.1 L1076 785.8 L1077.5 787.48 L1079 789.15 L1080.5 790.82 L1082 792.47 L1083.5 794.11 L1085 795.74 L1086.5 797.36 L1088 798.98 L1089.5 800.58 L1091 802.16 L1092.5 803.74 L1094 805.31 L1095.5 806.87 L1097 808.41 L1098.5 809.95 L1100 811.47 L1101.5 812.99 L1103 814.49 L1104.5 815.98 L1106 817.46 L1107.5 818.93 L1109 820.39 L1110.5 821.83 L1112 823.27 L1113.5 824.69 L1115 826.1 L1116.5 827.51 L1118 828.89 L1119.5 830.27 L1121 831.64 L1122.5 832.99 L1124 834.34 L1125.5 835.67 L1127 836.98 L1128.5 838.29 L1130 839.59 L1131.5 840.87 L1133 842.14 L1134.5 843.4 L1136 844.65 L1137.5 845.89 L1139 847.11 L1140.5 848.32 L1142 849.52 L1143.5 850.71 L1145 851.88 L1146.5 853.04 L1148 854.19 L1149.5 855.33 L1151 856.46 L1152.5 857.57 L1154 858.67 L1155.5 859.76 L1157 860.83 L1158.5 861.9 L1160 862.95 L1161.5 863.99 L1163 865.01 L1164.5 866.02 L1166 867.02 L1167.5 868.01 L1169 868.99 L1170.5 869.95 L1172 870.9 L1173.5 871.83 L1175 872.76 L1176.5 873.67 L1178 874.56 L1179.5 875.45 L1181 876.32 L1182.5 877.18 L1184 878.03 L1185.5 878.86 L1187 879.68 L1188.5 880.49 L1190 881.28 L1191.5 882.06 L1193 882.83 L1194.5 883.58 L1196 884.32 L1197.5 885.05 L1199 885.77 L1200.5 886.47 L1202 887.16 L1203.5 887.83 L1205 888.5 L1206.5 889.15 L1208 889.78 L1209.5 890.4 L1211 891.01 L1212.5 891.61 L1214 892.19 L1215.5 892.76 L1217 893.32 L1218.5 893.86 L1220 894.39 L1221.5 894.91 L1223 895.41 L1224.5 895.9 L1226 896.37 L1227.5 896.84 L1229 897.29 L1230.5 897.72 L1232 898.14 L1233.5 898.55 L1235 898.95 L1236.5 899.33 L1238 899.7 L1239.5 900.05 L1241 900.39 L1242.5 900.72 L1244 901.04 L1245.5 901.34 L1247 901.63 L1248.5 901.9 L1250 902.16 L1251.5 902.41 L1253 902.64 L1254.5 902.87 L1256 903.07 L1257.5 903.27 L1259 903.45 L1260.5 903.61 L1262 903.77 L1263.5 903.91 L1265 904.03 L1266.5 904.15 L1268 904.25 L1269.5 904.33 L1271 904.41 L1272.5 904.47 L1274 904.51 L1275.5 904.54 L1277 904.56 L1278.5 904.57 L1280 904.56 L1281.5 904.54 L1283 904.51 L1284.5 904.46 L1286 904.4 L1287.5 904.32 L1289 904.23 L1290.5 904.13 L1292 904.02 L1293.5 903.89 L1295 903.75 L1296.5 903.59 L1298 903.43 L1299.5 903.24 L1301 903.05 L1302.5 902.84 L1304 902.62 L1305.5 902.38 L1307 902.14 L1308.5 901.88 L1310 901.6 L1311.5 901.31 L1313 901.01 L1314.5 900.7 L1316 900.37 L1317.5 900.03 L1319 899.67 L1320.5 899.31 L1322 898.93 L1323.5 898.53 L1325 898.13 L1326.5 897.71 L1328 897.27 L1329.5 896.83 L1331 896.37 L1332.5 895.89 L1334 895.41 L1335.5 894.91 L1337 894.4 L1338.5 893.87 L1340 893.33 L1341.5 892.78 L1343 892.22 L1344.5 891.64 L1346 891.05 L1347.5 890.45 L1349 889.83 L1350.5 889.2 L1352 888.56 L1353.5 887.9 L1355 887.24 L1356.5 886.55 L1358 885.86 L1359.5 885.15 L1361 884.43 L1362.5 883.7 L1364 882.95 L1365.5 882.2 L1367 881.43 L1368.5 880.64 L1370 879.84 L1371.5 879.03 L1373 878.21 L1374.5 877.38 L1376 876.53 L1377.5 875.67 L1379 874.8 L1380.5 873.91 L1382 873.01 L1383.5 872.1 L1385 871.18 L1386.5 870.24 L1388 869.29 L1389.5 868.33 L1391 867.36 L1392.5 866.37 L1394 865.37 L1395.5 864.36 L1397 863.34 L1398.5 862.3 L1400 861.25 L1401.5 860.19 L1403 859.12 L1404.5 858.03 L1406 856.94 L1407.5 855.83 L1409 854.7 L1410.5 853.57 L1412 852.42 L1413.5 851.26 L1415 850.09 L1416.5 848.91 L1418 847.71 L1419.5 846.5 L1421 845.28 L1422.5 844.05 L1424 842.81 L1425.5 841.55 L1427 840.28 L1428.5 839 L1430 837.71 L1431.5 836.41 L1433 835.09 L1434.5 833.77 L1436 832.43 L1437.5 831.07 L1439 829.71 L1440.5 828.34 L1442 826.95 L1443.5 825.55 L1445 824.14 L1446.5 822.72 L1448 821.29 L1449.5 819.84 L1451 818.39 L1452.5 816.92 L1454 815.44 L1455.5 813.95 L1457 812.45 L1458.5 810.93 L1460 809.41 L1461.5 807.87 L1463 806.32 L1464.5 804.77 L1466 803.2 L1467.5 801.61 L1469 800.02 L1470.5 798.42 L1472 796.8 L1473.5 795.18 L1475 793.54 L1476.5 791.89 L1478 790.23 L1479.5 788.56 L1481 786.88 L1482.5 785.19 L1484 783.48 L1485.5 781.77 L1487 780.05 L1488.5 778.31 L1490 776.56 L1491.5 774.81 L1493 773.04 L1494.5 771.26 L1496 769.47 L1497.5 767.67 L1499 765.86 L1500.5 764.04 L1502 762.21 L1503.5 760.37 L1505 758.52 L1506.5 756.65 L1508 754.78 L1509.5 752.9 L1511 751 L1512.5 749.1 L1514 747.19 L1515.5 745.26 L1517 743.33 L1518.5 741.39 L1520 739.43 L1521.5 737.47 L1523 735.49 L1524.5 733.51 L1526 731.52 L1527.5 729.51 L1529 727.5 L1530.5 725.47 L1532 723.44 L1533.5 721.4 L1535 719.35 L1536.5 717.28 L1538 715.21 L1539.5 713.13 L1541 711.04 L1542.5 708.94 L1544 706.83 L1545.5 704.71 L1547 702.58 L1548.5 700.45 L1550 698.3 L1551.5 696.14 L1553 693.98 L1554.5 691.8 L1556 689.62 L1557.5 687.43 L1559 685.23 L1560.5 683.02 L1562 680.8 L1563.5 678.57 L1565 676.33 L1566.5 674.09 L1568 671.83 L1569.5 669.57 L1571 667.3 L1572.5 665.02 L1574 662.73 L1575.5 660.43 L1577 658.13 L1578.5 655.81 L1580 653.49 L1581.5 651.16 L1583 648.82 L1584.5 646.47 L1586 644.12 L1587.5 641.76 L1589 639.38 L1590.5 637 L1592 634.62" fill="none" stroke="#14148a" stroke-width="1.2" stroke-linejoin="round"/>
<path d="M1699.6 628 L1701.6 624.88 L1703.6 621.77 L1705.6 618.65 L1707.6 615.53 L1709.6 612.41 L1711.6 609.29 L1713.6 606.17 L1715.6 603.05 L1717.6 599.93 L1719.6 596.81 L1721.6 593.68 L1723.6 590.56 L1725.6 587.43 L1727.6 584.31 L1729.6 581.18 L1731.6 578.06 L1733.6 574.93 L1735.6 571.8 L1737.6 568.68 L1739.6 565.55 L1741.6 562.42 L1743.6 559.29 L1745.6 556.16 L1747.6 553.02 L1749.6 549.89 L1751.6 546.76 L1753.6 543.63 L1755.6 540.49 L1757.6 537.36 L1759.6 534.22 L1761.6 531.09 L1763.6 527.95 L1765.6 524.81 L1767.6 521.68 L1769.6 518.54 L1771.6 515.4 L1773.6 512.26 L1775.6 509.12 L1777.6 505.98 L1779.6 502.83 L1781.6 499.69 L1783.6 496.55 L1785.6 493.41 L1787.6 490.26 L1789.6 487.12 L1791.6 483.97 L1793.6 480.82 L1795.6 477.68 L1797.6 474.53 L1799.6 471.38 L1801.6 468.23 L1803.6 465.08 L1805.6 461.93 L1807.6 458.78 L1809.6 455.63" fill="none" stroke="#14148a" stroke-width="1.2" stroke-linejoin="round"/>
<path d="M731 297.33 L732.5 299.03 L734 300.74 L735.5 302.46 L737 304.2 L738.5 305.94 L740 307.69 L741.5 309.46 L743 311.23 L744.5 313.02 L746 314.81 L747.5 316.62 L749 318.44 L750.5 320.26 L752 322.1 L753.5 323.95 L755 325.8 L756.5 327.67 L758 329.54 L759.5 331.43 L761 333.32 L762.5 335.23 L764 337.14 L765.5 339.06 L767 341 L768.5 342.94 L770 344.89 L771.5 346.85 L773 348.81 L774.5 350.79 L776 352.77 L777.5 354.77 L779 356.77 L780.5 358.78 L782 360.8 L783.5 362.82 L785 364.86 L786.5 366.9 L788 368.95 L789.5 371.01 L791 373.07 L792.5 375.15 L794 377.23 L795.5 379.32 L797 381.41 L798.5 383.51 L800 385.62 L801.5 387.74 L803 389.86 L804.5 391.99 L806 394.13 L807.5 396.28 L809 398.43 L810.5 400.58 L812 402.74 L813.5 404.91 L815 407.09 L816.5 409.27 L818 411.46 L819.5 413.65 L821 415.85 L822.5 418.05 L824 420.26 L825.5 422.48 L827 424.7 L828.5 426.93 L830 429.16 L831.5 431.39 L833 433.63 L834.5 435.88 L836 438.13 L837.5 440.38 L839 442.64 L840.5 444.91 L842 447.18 L843.5 449.45 L845 451.73 L846.5 454.01 L848 456.29 L849.5 458.58 L851 460.87 L852.5 463.17 L854 465.46 L855.5 467.77 L857 470.07 L858.5 472.38 L860 474.69 L861.5 477.01 L863 479.33 L864.5 481.65 L866 483.97 L867.5 486.29 L869 488.62 L870.5 490.95 L872 493.28 L873.5 495.62 L875 497.95 L876.5 500.29 L878 502.63 L879.5 504.97 L881 507.32 L882.5 509.66 L884 512.01 L885.5 514.35 L887 516.7 L888.5 519.05 L890 521.4 L891.5 523.75 L893 526.1 L894.5 528.45 L896 530.81 L897.5 533.16 L899 535.51 L900.5 537.86 L902 540.22 L903.5 542.57 L905 544.92 L906.5 547.27 L908 549.62 L909.5 551.97 L911 554.32 L912.5 556.67 L914 559.02 L915.5 561.37 L917 563.71 L918.5 566.06 L920 568.4 L921.5 570.74 L923 573.08 L924.5 575.42 L926 577.76 L927.5 580.09 L929 582.42 L930.5 584.75 L932 587.08 L933.5 589.41 L935 591.73 L936.5 594.05 L938 596.37 L939.5 598.68 L941 601 L942.5 603.31 L944 605.61 L945.5 607.91 L947 610.21 L948.5 612.51 L950 614.8 L951.5 617.09 L953 619.38 L954.5 621.66 L956 623.94 L957.5 626.21 L959 628.48 L960.5 630.74 L962 633.01 L963.5 635.26 L965 637.52 L966.5 639.76 L968 642.01 L969.5 644.24 L971 646.48 L972.5 648.71 L974 650.93 L975.5 653.15 L977 655.36 L978.5 657.57 L980 659.77 L981.5 661.97 L983 664.16 L984.5 666.35 L986 668.53 L987.5 670.7 L989 672.87 L990.5 675.03 L992 677.19 L993.5 679.34 L995 681.48 L996.5 683.62 L998 685.75 L999.5 687.88 L1001 689.99 L1002.5 692.1 L1004 694.21 L1005.5 696.31 L1007 698.4 L1008.5 700.48 L1010 702.56 L1011.5 704.63 L1013 706.69 L1014.5 708.74 L1016 710.79 L1017.5 712.83 L1019 714.87 L1020.5 716.89 L1022 718.91 L1023.5 720.92 L1025 722.92 L1026.5 724.91 L1028 726.9 L1029.5 728.88 L1031 730.84 L1032.5 732.81 L1034 734.76 L1035.5 736.7 L1037 738.64 L1038.5 740.57 L1040 742.49 L1041.5 744.4 L1043 746.3 L1044.5 748.19 L1046 750.08 L1047.5 751.95 L1049 753.82 L1050.5 755.67 L1052 757.52 L1053.5 759.36 L1055 761.19 L1056.5 763.01 L1058 764.82 L1059.5 766.62 L1061 768.41 L1062.5 770.2 L1064 771.97 L1065.5 773.73 L1067 775.49 L1068.5 777.23 L1070 778.96 L1071.5 780.69 L1073 782.4 L1074.5 784.1 L1076 785.8 L1077.5 787.48 L1079 789.15 L1080.5 790.82 L1082 792.47 L1083.5 794.11 L1085 795.74 L1086.5 797.36 L1088 798.98 L1089.5 800.58 L1091 802.16 L1092.5 803.74 L1094 805.31 L1095.5 806.87 L1097 808.41 L1098.5 809.95 L1100 811.47 L1101.5 812.99 L1103 814.49 L1104.5 815.98 L1106 817.46 L1107.5 818.93 L1109 820.39 L1110.5 821.83 L1112 823.27 L1113.5 824.69 L1115 826.1 L1116.5 827.51 L1118 828.89 L1119.5 830.27 L1121 831.64 L1122.5 832.99 L1124 834.34 L1125.5 835.67 L1127 836.98 L1128.5 838.29 L1130 839.59 L1131.5 840.87 L1133 842.14 L1134.5 843.4 L1136 844.65 L1137.5 845.89 L1139 847.11 L1140.5 848.32 L1142 849.52 L1143.5 850.71 L1145 851.88 L1146.5 853.04 L1148 854.19 L1149.5 855.33 L1151 856.46 L1152.5 857.57 L1154 858.67 L1155.5 859.76 L1157 860.83 L1158.5 861.9 L1160 862.95 L1161.5 863.99 L1163 865.01 L1164.5 866.02 L1166 867.02 L1167.5 868.01 L1169 868.99 L1170.5 869.95 L1172 870.9 L1173.5 871.83 L1175 872.76 L1176.5 873.67 L1178 874.56 L1179.5 875.45 L1181 876.32 L1182.5 877.18 L1184 878.03 L1185.5 878.86 L1187 879.68 L1188.5 880.49 L1190 881.28 L1191.5 882.06 L1193 882.83 L1194.5 883.58 L1196 884.32 L1197.5 885.05 L1199 885.77 L1200.5 886.47 L1202 887.16 L1203.5 887.83 L1205 888.5 L1206.5 889.15 L1208 889.78 L1209.5 890.4 L1211 891.01 L1212.5 891.61 L1214 892.19 L1215.5 892.76 L1217 893.32 L1218.5 893.86 L1220 894.39 L1221.5 894.91 L1223 895.41 L1224.5 895.9 L1226 896.37 L1227.5 896.84 L1229 897.29 L1230.5 897.72 L1232 898.14 L1233.5 898.55 L1235 898.95 L1236.5 899.33 L1238 899.7 L1239.5 900.05 L1241 900.39 L1242.5 900.72 L1244 901.04 L1245.5 901.34 L1247 901.63 L1248.5 901.9 L1250 902.16 L1251.5 902.41 L1253 902.64 L1254.5 902.87 L1256 903.07 L1257.5 903.27 L1259 903.45 L1260.5 903.61 L1262 903.77" fill="none" stroke="#0000f5" stroke-width="12.5"  stroke-dasharray="12.5 3.4" stroke-linejoin="miter"/>
<g shape-rendering="crispEdges"><rect x="260" y="135" width="1" height="818" fill="#000"/><rect x="260" y="952" width="1551" height="1" fill="#000"/><rect x="260" y="902" width="9" height="1" fill="#000"/><rect x="260" y="874" width="9" height="1" fill="#000"/><rect x="260" y="853" width="9" height="1" fill="#000"/><rect x="260" y="838" width="9" height="1" fill="#000"/><rect x="260" y="825" width="9" height="1" fill="#000"/><rect x="260" y="814" width="9" height="1" fill="#000"/><rect x="260" y="804" width="9" height="1" fill="#000"/><rect x="260" y="796" width="9" height="1" fill="#000"/><rect x="260" y="788" width="17" height="1" fill="#000"/><rect x="260" y="739" width="9" height="1" fill="#000"/><rect x="260" y="710" width="9" height="1" fill="#000"/><rect x="260" y="690" width="9" height="1" fill="#000"/><rect x="260" y="674" width="9" height="1" fill="#000"/><rect x="260" y="661" width="9" height="1" fill="#000"/><rect x="260" y="650" width="9" height="1" fill="#000"/><rect x="260" y="641" width="9" height="1" fill="#000"/><rect x="260" y="633" width="9" height="1" fill="#000"/><rect x="260" y="625" width="17" height="1" fill="#000"/><rect x="260" y="576" width="9" height="1" fill="#000"/><rect x="260" y="547" width="9" height="1" fill="#000"/><rect x="260" y="527" width="9" height="1" fill="#000"/><rect x="260" y="511" width="9" height="1" fill="#000"/><rect x="260" y="498" width="9" height="1" fill="#000"/><rect x="260" y="487" width="9" height="1" fill="#000"/><rect x="260" y="478" width="9" height="1" fill="#000"/><rect x="260" y="469" width="9" height="1" fill="#000"/><rect x="260" y="462" width="17" height="1" fill="#000"/><rect x="260" y="413" width="9" height="1" fill="#000"/><rect x="260" y="384" width="9" height="1" fill="#000"/><rect x="260" y="364" width="9" height="1" fill="#000"/><rect x="260" y="348" width="9" height="1" fill="#000"/><rect x="260" y="335" width="9" height="1" fill="#000"/><rect x="260" y="324" width="9" height="1" fill="#000"/><rect x="260" y="314" width="9" height="1" fill="#000"/><rect x="260" y="306" width="9" height="1" fill="#000"/><rect x="260" y="299" width="17" height="1" fill="#000"/><rect x="260" y="249" width="9" height="1" fill="#000"/><rect x="260" y="221" width="9" height="1" fill="#000"/><rect x="260" y="200" width="9" height="1" fill="#000"/><rect x="260" y="185" width="9" height="1" fill="#000"/><rect x="260" y="172" width="9" height="1" fill="#000"/><rect x="260" y="161" width="9" height="1" fill="#000"/><rect x="260" y="151" width="9" height="1" fill="#000"/><rect x="260" y="143" width="9" height="1" fill="#000"/><rect x="260" y="952" width="17" height="1" fill="#000"/><rect x="440" y="936" width="1" height="17" fill="#000"/><rect x="620" y="936" width="1" height="17" fill="#000"/><rect x="800" y="936" width="1" height="17" fill="#000"/><rect x="980" y="936" width="1" height="17" fill="#000"/><rect x="1161" y="936" width="1" height="17" fill="#000"/><rect x="1343" y="936" width="1" height="17" fill="#000"/><rect x="1524" y="936" width="1" height="17" fill="#000"/><rect x="260" y="135" width="1551" height="1" fill="#14148a"/><rect x="1810" y="135" width="1" height="818" fill="#14148a"/><rect x="260" y="135" width="17" height="1" fill="#000"/><rect x="1794" y="911" width="17" height="1" fill="#14148a"/><rect x="1794" y="830" width="17" height="1" fill="#14148a"/><rect x="1794" y="748" width="17" height="1" fill="#14148a"/><rect x="1794" y="666" width="17" height="1" fill="#14148a"/><rect x="1794" y="585" width="17" height="1" fill="#14148a"/><rect x="1794" y="503" width="17" height="1" fill="#14148a"/><rect x="1794" y="421" width="17" height="1" fill="#14148a"/><rect x="1794" y="340" width="17" height="1" fill="#14148a"/><rect x="1794" y="258" width="17" height="1" fill="#14148a"/><rect x="1794" y="176" width="17" height="1" fill="#14148a"/></g>
<text x="210" y="797.9" font-size="28.5" text-anchor="start" fill="#000" font-weight="normal">10</text>
<text x="241" y="780.9" font-size="18" text-anchor="start" fill="#000" font-weight="normal">2</text>
<text x="210" y="634.65" font-size="28.5" text-anchor="start" fill="#000" font-weight="normal">10</text>
<text x="241" y="617.65" font-size="18" text-anchor="start" fill="#000" font-weight="normal">3</text>
<text x="210" y="471.4" font-size="28.5" text-anchor="start" fill="#000" font-weight="normal">10</text>
<text x="241" y="454.4" font-size="18" text-anchor="start" fill="#000" font-weight="normal">4</text>
<text x="210" y="308.15" font-size="28.5" text-anchor="start" fill="#000" font-weight="normal">10</text>
<text x="241" y="291.15" font-size="18" text-anchor="start" fill="#000" font-weight="normal">5</text>
<text x="210" y="144.9" font-size="28.5" text-anchor="start" fill="#000" font-weight="normal">10</text>
<text x="241" y="127.9" font-size="18" text-anchor="start" fill="#000" font-weight="normal">6</text>
<text x="1817.5" y="920.4" font-size="28.5" text-anchor="start" fill="#0000f0" font-weight="normal">400</text>
<text x="1817.5" y="838.73" font-size="28.5" text-anchor="start" fill="#0000f0" font-weight="normal">450</text>
<text x="1817.5" y="757.07" font-size="28.5" text-anchor="start" fill="#0000f0" font-weight="normal">500</text>
<text x="1817.5" y="675.4" font-size="28.5" text-anchor="start" fill="#0000f0" font-weight="normal">550</text>
<text x="1817.5" y="593.73" font-size="28.5" text-anchor="start" fill="#0000f0" font-weight="normal">600</text>
<text x="1817.5" y="512.07" font-size="28.5" text-anchor="start" fill="#0000f0" font-weight="normal">650</text>
<text x="1817.5" y="430.4" font-size="28.5" text-anchor="start" fill="#0000f0" font-weight="normal">700</text>
<text x="1817.5" y="348.73" font-size="28.5" text-anchor="start" fill="#0000f0" font-weight="normal">750</text>
<text x="1817.5" y="267.07" font-size="28.5" text-anchor="start" fill="#0000f0" font-weight="normal">800</text>
<text x="1817.5" y="185.4" font-size="28.5" text-anchor="start" fill="#0000f0" font-weight="normal">850</text>
<text transform="translate(178.8 546) rotate(-90)" font-size="28.5" text-anchor="middle" fill="#000">N<tspan font-size="18" dy="14">i</tspan><tspan dy="-14"> (cm</tspan><tspan font-size="18" dy="-12.3">-3</tspan><tspan dy="12.3">)</tspan></text>
<text transform="translate(1900.6 546) rotate(-90)" font-size="28.5" text-anchor="middle" fill="#0000f0">alt (km)</text>
<text x="1499" y="843" font-size="28.5" text-anchor="start" fill="#0000e6" font-weight="normal">Eclipse</text>
<rect x="1612" y="828.3" width="10" height="12.5" fill="#0000f5"/>
<rect x="1626" y="828.3" width="10" height="12.5" fill="#0000f5"/>
<rect x="1640" y="828.3" width="10" height="12.5" fill="#0000f5"/>
<rect x="1654" y="828.3" width="10" height="12.5" fill="#0000f5"/>
<rect x="1668" y="828.3" width="10" height="12.5" fill="#0000f5"/>
<rect x="1682" y="828.3" width="10" height="12.5" fill="#0000f5"/>
<rect x="1696" y="828.3" width="10" height="12.5" fill="#0000f5"/>
<rect x="1710" y="828.3" width="10" height="12.5" fill="#0000f5"/>
<rect x="1724" y="828.3" width="10" height="12.5" fill="#0000f5"/>
<rect x="1738" y="828.3" width="10" height="12.5" fill="#0000f5"/>
<rect x="1752" y="828.3" width="10" height="12.5" fill="#0000f5"/>
<text x="1500" y="884.4" font-size="28.5" text-anchor="start" fill="#000" font-weight="normal">One Minute Average</text>
<text x="1500" y="926" font-size="28.5" text-anchor="start" fill="#10dd10" font-weight="normal">One Second Average</text>
<g shape-rendering="crispEdges"><line x1="263" y1="975.5" x2="1809" y2="975.5" stroke="#000" stroke-width="1" stroke-dasharray="1 4"/><line x1="263" y1="980.5" x2="1809" y2="980.5" stroke="#000" stroke-width="1" stroke-dasharray="1 4"/><line x1="263" y1="984.5" x2="1809" y2="984.5" stroke="#000" stroke-width="1" stroke-dasharray="1 4"/><line x1="263" y1="988.5" x2="1809" y2="988.5" stroke="#000" stroke-width="1" stroke-dasharray="1 4"/><line x1="263" y1="990.5" x2="1809" y2="990.5" stroke="#000" stroke-width="1" stroke-dasharray="1 4"/><line x1="263" y1="993.5" x2="1809" y2="993.5" stroke="#000" stroke-width="1" stroke-dasharray="1 4"/><line x1="263" y1="995.5" x2="1809" y2="995.5" stroke="#000" stroke-width="1" stroke-dasharray="1 4"/><line x1="263" y1="1011.5" x2="1809" y2="1011.5" stroke="#000" stroke-width="1" stroke-dasharray="1 4"/><line x1="263" y1="1020.5" x2="1809" y2="1020.5" stroke="#000" stroke-width="1" stroke-dasharray="1 4"/><line x1="263" y1="1026.5" x2="1809" y2="1026.5" stroke="#000" stroke-width="1" stroke-dasharray="1 4"/><line x1="263" y1="1031.5" x2="1809" y2="1031.5" stroke="#000" stroke-width="1" stroke-dasharray="1 4"/><line x1="263" y1="1035.5" x2="1809" y2="1035.5" stroke="#000" stroke-width="1" stroke-dasharray="1 4"/><line x1="263" y1="1038.5" x2="1809" y2="1038.5" stroke="#000" stroke-width="1" stroke-dasharray="1 4"/><line x1="263" y1="1041.5" x2="1809" y2="1041.5" stroke="#000" stroke-width="1" stroke-dasharray="1 4"/><line x1="263" y1="1044.5" x2="1809" y2="1044.5" stroke="#000" stroke-width="1" stroke-dasharray="1 4"/><line x1="263" y1="1046.5" x2="1809" y2="1046.5" stroke="#000" stroke-width="1" stroke-dasharray="1 4"/><line x1="263" y1="1062.5" x2="1809" y2="1062.5" stroke="#000" stroke-width="1" stroke-dasharray="1 4"/><line x1="263" y1="1071.5" x2="1809" y2="1071.5" stroke="#000" stroke-width="1" stroke-dasharray="1 4"/><line x1="263" y1="1077.5" x2="1809" y2="1077.5" stroke="#000" stroke-width="1" stroke-dasharray="1 4"/><line x1="263" y1="1082.5" x2="1809" y2="1082.5" stroke="#000" stroke-width="1" stroke-dasharray="1 4"/><line x1="263" y1="1086.5" x2="1809" y2="1086.5" stroke="#000" stroke-width="1" stroke-dasharray="1 4"/><line x1="263" y1="1089.5" x2="1809" y2="1089.5" stroke="#000" stroke-width="1" stroke-dasharray="1 4"/><line x1="263" y1="1092.5" x2="1809" y2="1092.5" stroke="#000" stroke-width="1" stroke-dasharray="1 4"/><line x1="263" y1="1095.5" x2="1809" y2="1095.5" stroke="#000" stroke-width="1" stroke-dasharray="1 4"/><line x1="263" y1="1097.5" x2="1809" y2="1097.5" stroke="#000" stroke-width="1" stroke-dasharray="1 4"/><line x1="263" y1="1113.5" x2="1809" y2="1113.5" stroke="#000" stroke-width="1" stroke-dasharray="1 4"/><line x1="440.5" y1="970" x2="440.5" y2="1121" stroke="#000" stroke-width="1" stroke-dasharray="1 4"/><line x1="620.5" y1="970" x2="620.5" y2="1121" stroke="#000" stroke-width="1" stroke-dasharray="1 4"/><line x1="800.5" y1="970" x2="800.5" y2="1121" stroke="#000" stroke-width="1" stroke-dasharray="1 4"/><line x1="980.5" y1="970" x2="980.5" y2="1121" stroke="#000" stroke-width="1" stroke-dasharray="1 4"/><line x1="1161.5" y1="970" x2="1161.5" y2="1121" stroke="#000" stroke-width="1" stroke-dasharray="1 4"/><line x1="1343.5" y1="970" x2="1343.5" y2="1121" stroke="#000" stroke-width="1" stroke-dasharray="1 4"/><line x1="1524.5" y1="970" x2="1524.5" y2="1121" stroke="#000" stroke-width="1" stroke-dasharray="1 4"/></g>
<g shape-rendering="crispEdges"><rect x="260" y="975" width="9" height="1" fill="#000"/><rect x="1802" y="975" width="9" height="1" fill="#000"/><rect x="260" y="980" width="9" height="1" fill="#000"/><rect x="1802" y="980" width="9" height="1" fill="#000"/><rect x="260" y="984" width="9" height="1" fill="#000"/><rect x="1802" y="984" width="9" height="1" fill="#000"/><rect x="260" y="988" width="9" height="1" fill="#000"/><rect x="1802" y="988" width="9" height="1" fill="#000"/><rect x="260" y="990" width="9" height="1" fill="#000"/><rect x="1802" y="990" width="9" height="1" fill="#000"/><rect x="260" y="993" width="9" height="1" fill="#000"/><rect x="1802" y="993" width="9" height="1" fill="#000"/><rect x="260" y="995" width="16" height="1" fill="#000"/><rect x="1795" y="995" width="16" height="1" fill="#000"/><rect x="260" y="1011" width="9" height="1" fill="#000"/><rect x="1802" y="1011" width="9" height="1" fill="#000"/><rect x="260" y="1020" width="9" height="1" fill="#000"/><rect x="1802" y="1020" width="9" height="1" fill="#000"/><rect x="260" y="1026" width="9" height="1" fill="#000"/><rect x="1802" y="1026" width="9" height="1" fill="#000"/><rect x="260" y="1031" width="9" height="1" fill="#000"/><rect x="1802" y="1031" width="9" height="1" fill="#000"/><rect x="260" y="1035" width="9" height="1" fill="#000"/><rect x="1802" y="1035" width="9" height="1" fill="#000"/><rect x="260" y="1038" width="9" height="1" fill="#000"/><rect x="1802" y="1038" width="9" height="1" fill="#000"/><rect x="260" y="1041" width="9" height="1" fill="#000"/><rect x="1802" y="1041" width="9" height="1" fill="#000"/><rect x="260" y="1044" width="9" height="1" fill="#000"/><rect x="1802" y="1044" width="9" height="1" fill="#000"/><rect x="260" y="1046" width="16" height="1" fill="#000"/><rect x="1795" y="1046" width="16" height="1" fill="#000"/><rect x="260" y="1062" width="9" height="1" fill="#000"/><rect x="1802" y="1062" width="9" height="1" fill="#000"/><rect x="260" y="1071" width="9" height="1" fill="#000"/><rect x="1802" y="1071" width="9" height="1" fill="#000"/><rect x="260" y="1077" width="9" height="1" fill="#000"/><rect x="1802" y="1077" width="9" height="1" fill="#000"/><rect x="260" y="1082" width="9" height="1" fill="#000"/><rect x="1802" y="1082" width="9" height="1" fill="#000"/><rect x="260" y="1086" width="9" height="1" fill="#000"/><rect x="1802" y="1086" width="9" height="1" fill="#000"/><rect x="260" y="1089" width="9" height="1" fill="#000"/><rect x="1802" y="1089" width="9" height="1" fill="#000"/><rect x="260" y="1092" width="9" height="1" fill="#000"/><rect x="1802" y="1092" width="9" height="1" fill="#000"/><rect x="260" y="1095" width="9" height="1" fill="#000"/><rect x="1802" y="1095" width="9" height="1" fill="#000"/><rect x="260" y="1097" width="16" height="1" fill="#000"/><rect x="1795" y="1097" width="16" height="1" fill="#000"/><rect x="260" y="1113" width="9" height="1" fill="#000"/><rect x="1802" y="1113" width="9" height="1" fill="#000"/><rect x="440" y="969" width="1" height="16" fill="#000"/><rect x="440" y="1107" width="1" height="16" fill="#000"/><rect x="620" y="969" width="1" height="16" fill="#000"/><rect x="620" y="1107" width="1" height="16" fill="#000"/><rect x="800" y="969" width="1" height="16" fill="#000"/><rect x="800" y="1107" width="1" height="16" fill="#000"/><rect x="980" y="969" width="1" height="16" fill="#000"/><rect x="980" y="1107" width="1" height="16" fill="#000"/><rect x="1161" y="969" width="1" height="16" fill="#000"/><rect x="1161" y="1107" width="1" height="16" fill="#000"/><rect x="1343" y="969" width="1" height="16" fill="#000"/><rect x="1343" y="1107" width="1" height="16" fill="#000"/><rect x="1524" y="969" width="1" height="16" fill="#000"/><rect x="1524" y="1107" width="1" height="16" fill="#000"/></g>
<defs>
<filter id="jetn" x="731" y="970" width="691" height="119" filterUnits="userSpaceOnUse" color-interpolation-filters="sRGB">
<feTurbulence type="fractalNoise" baseFrequency="0.5 0.3" numOctaves="2" seed="4" result="n"/>
<feColorMatrix in="n" type="matrix" values="1 0 0 0 0 1 0 0 0 0 1 0 0 0 0 0 0 0 0 1" result="ng"/>
<feComposite in="SourceGraphic" in2="ng" operator="arithmetic" k1="1.1" k2="0.45" k3="0.07" k4="-0.035" result="I"/>
<feComponentTransfer in="I"><feFuncR type="table" tableValues="0.000 0.000 0.000 0.000 0.000 0.000 0.000 0.000 0.000 0.000 0.000 0.000 0.000 0.000 0.000 0.000 0.000 0.000 0.032 0.117 0.202 0.287 0.372 0.457 0.543 0.628 0.713 0.798 0.883 0.968 1.000 1.000 1.000 1.000 1.000 1.000 1.000 1.000 1.000 1.000 1.000 1.000 0.926 0.840 0.755 0.670 0.585 0.500"/><feFuncG type="table" tableValues="0.000 0.000 0.000 0.000 0.000 0.000 0.011 0.096 0.181 0.266 0.351 0.436 0.521 0.606 0.691 0.777 0.862 0.947 1.000 1.000 1.000 1.000 1.000 1.000 1.000 1.000 1.000 1.000 1.000 1.000 0.947 0.862 0.777 0.691 0.606 0.521 0.436 0.351 0.266 0.181 0.096 0.011 0.000 0.000 0.000 0.000 0.000 0.000"/><feFuncB type="table" tableValues="0.500 0.585 0.670 0.755 0.840 0.926 1.000 1.000 1.000 1.000 1.000 1.000 1.000 1.000 1.000 1.000 1.000 1.000 0.968 0.883 0.798 0.713 0.628 0.543 0.457 0.372 0.287 0.202 0.117 0.032 0.000 0.000 0.000 0.000 0.000 0.000 0.000 0.000 0.000 0.000 0.000 0.000 0.000 0.000 0.000 0.000 0.000 0.000"/><feFuncA type="identity"/></feComponentTransfer></filter>
<filter id="jet0" x="731" y="1089" width="691" height="33" filterUnits="userSpaceOnUse" color-interpolation-filters="sRGB">
<feComponentTransfer in="SourceGraphic" result="I"><feFuncR type="identity"/></feComponentTransfer>
<feComponentTransfer in="I"><feFuncR type="table" tableValues="0.000 0.000 0.000 0.000 0.000 0.000 0.000 0.000 0.000 0.000 0.000 0.000 0.000 0.000 0.000 0.000 0.000 0.000 0.032 0.117 0.202 0.287 0.372 0.457 0.543 0.628 0.713 0.798 0.883 0.968 1.000 1.000 1.000 1.000 1.000 1.000 1.000 1.000 1.000 1.000 1.000 1.000 0.926 0.840 0.755 0.670 0.585 0.500"/><feFuncG type="table" tableValues="0.000 0.000 0.000 0.000 0.000 0.000 0.011 0.096 0.181 0.266 0.351 0.436 0.521 0.606 0.691 0.777 0.862 0.947 1.000 1.000 1.000 1.000 1.000 1.000 1.000 1.000 1.000 1.000 1.000 1.000 0.947 0.862 0.777 0.691 0.606 0.521 0.436 0.351 0.266 0.181 0.096 0.011 0.000 0.000 0.000 0.000 0.000 0.000"/><feFuncB type="table" tableValues="0.500 0.585 0.670 0.755 0.840 0.926 1.000 1.000 1.000 1.000 1.000 1.000 1.000 1.000 1.000 1.000 1.000 1.000 0.968 0.883 0.798 0.713 0.628 0.543 0.457 0.372 0.287 0.202 0.117 0.032 0.000 0.000 0.000 0.000 0.000 0.000 0.000 0.000 0.000 0.000 0.000 0.000 0.000 0.000 0.000 0.000 0.000 0.000"/><feFuncA type="identity"/></feComponentTransfer></filter>
<linearGradient id="vg0" gradientUnits="userSpaceOnUse" x1="0" y1="970" x2="0" y2="1089"><stop offset="0.000" stop-color="#fff" stop-opacity="0.000"/><stop offset="0.083" stop-color="#fff" stop-opacity="0.000"/><stop offset="0.167" stop-color="#fff" stop-opacity="0.000"/><stop offset="0.250" stop-color="#fff" stop-opacity="0.000"/><stop offset="0.333" stop-color="#fff" stop-opacity="0.000"/><stop offset="0.417" stop-color="#fff" stop-opacity="0.000"/><stop offset="0.500" stop-color="#fff" stop-opacity="0.000"/><stop offset="0.583" stop-color="#fff" stop-opacity="0.000"/><stop offset="0.667" stop-color="#fff" stop-opacity="0.000"/><stop offset="0.750" stop-color="#fff" stop-opacity="0.000"/><stop offset="0.833" stop-color="#fff" stop-opacity="0.000"/><stop offset="0.917" stop-color="#fff" stop-opacity="0.084"/><stop offset="1.000" stop-color="#fff" stop-opacity="1.000"/></linearGradient>
<linearGradient id="vg1" gradientUnits="userSpaceOnUse" x1="0" y1="970" x2="0" y2="1089"><stop offset="0.000" stop-color="#fff" stop-opacity="0.000"/><stop offset="0.083" stop-color="#fff" stop-opacity="0.000"/><stop offset="0.167" stop-color="#fff" stop-opacity="0.000"/><stop offset="0.250" stop-color="#fff" stop-opacity="0.000"/><stop offset="0.333" stop-color="#fff" stop-opacity="0.000"/><stop offset="0.417" stop-color="#fff" stop-opacity="0.000"/><stop offset="0.500" stop-color="#fff" stop-opacity="0.000"/><stop offset="0.583" stop-color="#fff" stop-opacity="0.000"/><stop offset="0.667" stop-color="#fff" stop-opacity="0.000"/><stop offset="0.750" stop-color="#fff" stop-opacity="0.000"/><stop offset="0.833" stop-color="#fff" stop-opacity="0.084"/><stop offset="0.917" stop-color="#fff" stop-opacity="0.290"/><stop offset="1.000" stop-color="#fff" stop-opacity="1.000"/></linearGradient>
<linearGradient id="vg2" gradientUnits="userSpaceOnUse" x1="0" y1="970" x2="0" y2="1089"><stop offset="0.000" stop-color="#fff" stop-opacity="0.000"/><stop offset="0.083" stop-color="#fff" stop-opacity="0.000"/><stop offset="0.167" stop-color="#fff" stop-opacity="0.000"/><stop offset="0.250" stop-color="#fff" stop-opacity="0.000"/><stop offset="0.333" stop-color="#fff" stop-opacity="0.000"/><stop offset="0.417" stop-color="#fff" stop-opacity="0.000"/><stop offset="0.500" stop-color="#fff" stop-opacity="0.000"/><stop offset="0.583" stop-color="#fff" stop-opacity="0.000"/><stop offset="0.667" stop-color="#fff" stop-opacity="0.000"/><stop offset="0.750" stop-color="#fff" stop-opacity="0.119"/><stop offset="0.833" stop-color="#fff" stop-opacity="0.243"/><stop offset="0.917" stop-color="#fff" stop-opacity="0.492"/><stop offset="1.000" stop-color="#fff" stop-opacity="1.000"/></linearGradient>
<linearGradient id="vg3" gradientUnits="userSpaceOnUse" x1="0" y1="970" x2="0" y2="1089"><stop offset="0.000" stop-color="#fff" stop-opacity="0.000"/><stop offset="0.083" stop-color="#fff" stop-opacity="0.000"/><stop offset="0.167" stop-color="#fff" stop-opacity="0.000"/><stop offset="0.250" stop-color="#fff" stop-opacity="0.000"/><stop offset="0.333" stop-color="#fff" stop-opacity="0.000"/><stop offset="0.417" stop-color="#fff" stop-opacity="0.000"/><stop offset="0.500" stop-color="#fff" stop-opacity="0.000"/><stop offset="0.583" stop-color="#fff" stop-opacity="0.105"/><stop offset="0.667" stop-color="#fff" stop-opacity="0.165"/><stop offset="0.750" stop-color="#fff" stop-opacity="0.259"/><stop offset="0.833" stop-color="#fff" stop-opacity="0.406"/><stop offset="0.917" stop-color="#fff" stop-opacity="0.637"/><stop offset="1.000" stop-color="#fff" stop-opacity="1.000"/></linearGradient>
<linearGradient id="vg4" gradientUnits="userSpaceOnUse" x1="0" y1="970" x2="0" y2="1089"><stop offset="0.000" stop-color="#fff" stop-opacity="0.000"/><stop offset="0.083" stop-color="#fff" stop-opacity="0.000"/><stop offset="0.167" stop-color="#fff" stop-opacity="0.000"/><stop offset="0.250" stop-color="#fff" stop-opacity="0.000"/><stop offset="0.333" stop-color="#fff" stop-opacity="0.084"/><stop offset="0.417" stop-color="#fff" stop-opacity="0.114"/><stop offset="0.500" stop-color="#fff" stop-opacity="0.156"/><stop offset="0.583" stop-color="#fff" stop-opacity="0.212"/><stop offset="0.667" stop-color="#fff" stop-opacity="0.290"/><stop offset="0.750" stop-color="#fff" stop-opacity="0.395"/><stop offset="0.833" stop-color="#fff" stop-opacity="0.538"/><stop offset="0.917" stop-color="#fff" stop-opacity="0.734"/><stop offset="1.000" stop-color="#fff" stop-opacity="1.000"/></linearGradient>
<linearGradient id="vg5" gradientUnits="userSpaceOnUse" x1="0" y1="970" x2="0" y2="1089"><stop offset="0.000" stop-color="#fff" stop-opacity="0.000"/><stop offset="0.083" stop-color="#fff" stop-opacity="0.089"/><stop offset="0.167" stop-color="#fff" stop-opacity="0.110"/><stop offset="0.250" stop-color="#fff" stop-opacity="0.138"/><stop offset="0.333" stop-color="#fff" stop-opacity="0.172"/><stop offset="0.417" stop-color="#fff" stop-opacity="0.214"/><stop offset="0.500" stop-color="#fff" stop-opacity="0.267"/><stop offset="0.583" stop-color="#fff" stop-opacity="0.332"/><stop offset="0.667" stop-color="#fff" stop-opacity="0.414"/><stop offset="0.750" stop-color="#fff" stop-opacity="0.516"/><stop offset="0.833" stop-color="#fff" stop-opacity="0.644"/><stop offset="0.917" stop-color="#fff" stop-opacity="0.802"/><stop offset="1.000" stop-color="#fff" stop-opacity="1.000"/></linearGradient>
<linearGradient id="vg6" gradientUnits="userSpaceOnUse" x1="0" y1="970" x2="0" y2="1089"><stop offset="0.000" stop-color="#fff" stop-opacity="0.138"/><stop offset="0.083" stop-color="#fff" stop-opacity="0.162"/><stop offset="0.167" stop-color="#fff" stop-opacity="0.192"/><stop offset="0.250" stop-color="#fff" stop-opacity="0.226"/><stop offset="0.333" stop-color="#fff" stop-opacity="0.267"/><stop offset="0.417" stop-color="#fff" stop-opacity="0.314"/><stop offset="0.500" stop-color="#fff" stop-opacity="0.371"/><stop offset="0.583" stop-color="#fff" stop-opacity="0.438"/><stop offset="0.667" stop-color="#fff" stop-opacity="0.516"/><stop offset="0.750" stop-color="#fff" stop-opacity="0.609"/><stop offset="0.833" stop-color="#fff" stop-opacity="0.719"/><stop offset="0.917" stop-color="#fff" stop-opacity="0.848"/><stop offset="1.000" stop-color="#fff" stop-opacity="1.000"/></linearGradient>
</defs>
<g filter="url(#jetn)" shape-rendering="crispEdges">
<rect x="731" y="970" width="691" height="119" fill="#000"/>
<rect x="731" y="970" width="691" height="119" fill="#fff" opacity="0.045"/>
<rect x="731" y="970" width="1" height="119" fill="url(#vg0)" opacity="0.11"/>
<rect x="732" y="970" width="1" height="119" fill="url(#vg1)" opacity="0.14"/>
<rect x="733" y="970" width="1" height="119" fill="url(#vg0)" opacity="0.18"/>
<rect x="734" y="970" width="2" height="119" fill="url(#vg0)" opacity="0.16"/>
<rect x="736" y="970" width="1" height="119" fill="url(#vg0)" opacity="0.02"/>
<rect x="737" y="970" width="1" height="119" fill="url(#vg1)" opacity="0.24"/>
<rect x="738" y="970" width="2" height="119" fill="url(#vg1)" opacity="0.29"/>
<rect x="740" y="970" width="1" height="119" fill="url(#vg0)" opacity="0.04"/>
<rect x="741" y="970" width="2" height="119" fill="url(#vg0)" opacity="0.17"/>
<rect x="743" y="970" width="2" height="119" fill="url(#vg0)" opacity="0.02"/>
<rect x="745" y="970" width="1" height="119" fill="url(#vg0)" opacity="0.01"/>
<rect x="746" y="970" width="1" height="119" fill="url(#vg0)" opacity="0.01"/>
<rect x="747" y="970" width="1" height="119" fill="url(#vg0)" opacity="0.06"/>
<rect x="748" y="970" width="1" height="119" fill="url(#vg0)" opacity="0.01"/>
<rect x="749" y="970" width="1" height="119" fill="url(#vg0)" opacity="0.01"/>
<rect x="750" y="970" width="1" height="119" fill="url(#vg0)" opacity="0.01"/>
<rect x="751" y="970" width="1" height="119" fill="url(#vg0)" opacity="0.07"/>
<rect x="752" y="970" width="2" height="119" fill="url(#vg1)" opacity="0.09"/>
<rect x="754" y="970" width="2" height="119" fill="url(#vg0)" opacity="0.07"/>
<rect x="756" y="970" width="1" height="119" fill="url(#vg0)" opacity="0.10"/>
<rect x="757" y="970" width="1" height="119" fill="url(#vg0)" opacity="0.07"/>
<rect x="758" y="970" width="2" height="119" fill="url(#vg0)" opacity="0.01"/>
<rect x="760" y="970" width="2" height="119" fill="url(#vg0)" opacity="0.09"/>
<rect x="762" y="970" width="1" height="119" fill="url(#vg0)" opacity="0.01"/>
<rect x="763" y="970" width="2" height="119" fill="url(#vg1)" opacity="0.02"/>
<rect x="765" y="970" width="2" height="119" fill="url(#vg0)" opacity="0.17"/>
<rect x="767" y="970" width="2" height="119" fill="url(#vg1)" opacity="0.16"/>
<rect x="769" y="970" width="1" height="119" fill="url(#vg0)" opacity="0.14"/>
<rect x="770" y="970" width="2" height="119" fill="url(#vg1)" opacity="0.18"/>
<rect x="772" y="970" width="2" height="119" fill="url(#vg0)" opacity="0.09"/>
<rect x="774" y="970" width="2" height="119" fill="url(#vg1)" opacity="0.03"/>
<rect x="776" y="970" width="2" height="119" fill="url(#vg1)" opacity="0.27"/>
<rect x="778" y="970" width="1" height="119" fill="url(#vg1)" opacity="0.18"/>
<rect x="779" y="970" width="1" height="119" fill="url(#vg1)" opacity="0.04"/>
<rect x="780" y="970" width="1" height="119" fill="url(#vg1)" opacity="0.03"/>
<rect x="781" y="970" width="2" height="119" fill="url(#vg1)" opacity="0.23"/>
<rect x="783" y="970" width="1" height="119" fill="url(#vg1)" opacity="0.28"/>
<rect x="784" y="970" width="2" height="119" fill="url(#vg1)" opacity="0.03"/>
<rect x="786" y="970" width="2" height="119" fill="url(#vg0)" opacity="0.21"/>
<rect x="788" y="970" width="1" height="119" fill="url(#vg1)" opacity="0.26"/>
<rect x="789" y="970" width="2" height="119" fill="url(#vg0)" opacity="0.18"/>
<rect x="791" y="970" width="2" height="119" fill="url(#vg1)" opacity="0.18"/>
<rect x="793" y="970" width="1" height="119" fill="url(#vg0)" opacity="0.02"/>
<rect x="794" y="970" width="2" height="119" fill="url(#vg0)" opacity="0.13"/>
<rect x="796" y="970" width="2" height="119" fill="url(#vg0)" opacity="0.01"/>
<rect x="798" y="970" width="2" height="119" fill="url(#vg0)" opacity="0.01"/>
<rect x="800" y="970" width="2" height="119" fill="url(#vg0)" opacity="0.09"/>
<rect x="802" y="970" width="2" height="119" fill="url(#vg0)" opacity="0.07"/>
<rect x="804" y="970" width="1" height="119" fill="url(#vg0)" opacity="0.11"/>
<rect x="805" y="970" width="2" height="119" fill="url(#vg0)" opacity="0.01"/>
<rect x="807" y="970" width="1" height="119" fill="url(#vg1)" opacity="0.12"/>
<rect x="808" y="970" width="1" height="119" fill="url(#vg0)" opacity="0.20"/>
<rect x="809" y="970" width="2" height="119" fill="url(#vg0)" opacity="0.24"/>
<rect x="811" y="970" width="2" height="119" fill="url(#vg1)" opacity="0.03"/>
<rect x="813" y="970" width="1" height="119" fill="url(#vg1)" opacity="0.29"/>
<rect x="814" y="970" width="2" height="119" fill="url(#vg1)" opacity="0.03"/>
<rect x="816" y="970" width="2" height="119" fill="url(#vg1)" opacity="0.29"/>
<rect x="818" y="970" width="2" height="119" fill="url(#vg1)" opacity="0.20"/>
<rect x="820" y="970" width="2" height="119" fill="url(#vg1)" opacity="0.03"/>
<rect x="822" y="970" width="2" height="119" fill="url(#vg1)" opacity="0.22"/>
<rect x="824" y="970" width="2" height="119" fill="url(#vg1)" opacity="0.03"/>
<rect x="826" y="970" width="1" height="119" fill="url(#vg0)" opacity="0.13"/>
<rect x="827" y="970" width="1" height="119" fill="url(#vg0)" opacity="0.01"/>
<rect x="828" y="970" width="2" height="119" fill="url(#vg0)" opacity="0.01"/>
<rect x="830" y="970" width="1" height="119" fill="url(#vg0)" opacity="0.07"/>
<rect x="831" y="970" width="1" height="119" fill="url(#vg0)" opacity="0.01"/>
<rect x="832" y="970" width="1" height="119" fill="url(#vg0)" opacity="0.01"/>
<rect x="833" y="970" width="2" height="119" fill="url(#vg0)" opacity="0.11"/>
<rect x="835" y="970" width="2" height="119" fill="url(#vg1)" opacity="0.01"/>
<rect x="837" y="970" width="2" height="119" fill="url(#vg0)" opacity="0.01"/>
<rect x="839" y="970" width="2" height="119" fill="url(#vg0)" opacity="0.11"/>
<rect x="841" y="970" width="1" height="119" fill="url(#vg1)" opacity="0.01"/>
<rect x="842" y="970" width="1" height="119" fill="url(#vg0)" opacity="0.09"/>
<rect x="843" y="970" width="1" height="119" fill="url(#vg0)" opacity="0.01"/>
<rect x="844" y="970" width="1" height="119" fill="url(#vg1)" opacity="0.02"/>
<rect x="845" y="970" width="1" height="119" fill="url(#vg0)" opacity="0.09"/>
<rect x="846" y="970" width="1" height="119" fill="url(#vg0)" opacity="0.10"/>
<rect x="847" y="970" width="1" height="119" fill="url(#vg0)" opacity="0.10"/>
<rect x="848" y="970" width="1" height="119" fill="url(#vg0)" opacity="0.02"/>
<rect x="849" y="970" width="2" height="119" fill="url(#vg0)" opacity="0.10"/>
<rect x="851" y="970" width="1" height="119" fill="url(#vg0)" opacity="0.10"/>
<rect x="852" y="970" width="2" height="119" fill="url(#vg0)" opacity="0.10"/>
<rect x="854" y="970" width="2" height="119" fill="url(#vg3)" opacity="0.06"/>
<rect x="856" y="970" width="2" height="119" fill="url(#vg4)" opacity="0.42"/>
<rect x="858" y="970" width="2" height="119" fill="url(#vg2)" opacity="0.32"/>
<rect x="860" y="970" width="2" height="119" fill="url(#vg0)" opacity="0.17"/>
<rect x="862" y="970" width="1" height="119" fill="url(#vg0)" opacity="0.09"/>
<rect x="863" y="970" width="1" height="119" fill="url(#vg0)" opacity="0.13"/>
<rect x="864" y="970" width="2" height="119" fill="url(#vg0)" opacity="0.15"/>
<rect x="866" y="970" width="1" height="119" fill="url(#vg0)" opacity="0.10"/>
<rect x="867" y="970" width="2" height="119" fill="url(#vg0)" opacity="0.02"/>
<rect x="869" y="970" width="1" height="119" fill="url(#vg0)" opacity="0.02"/>
<rect x="870" y="970" width="1" height="119" fill="url(#vg0)" opacity="0.02"/>
<rect x="871" y="970" width="1" height="119" fill="url(#vg0)" opacity="0.15"/>
<rect x="872" y="970" width="1" height="119" fill="url(#vg0)" opacity="0.12"/>
<rect x="873" y="970" width="1" height="119" fill="url(#vg2)" opacity="0.38"/>
<rect x="874" y="970" width="2" height="119" fill="url(#vg3)" opacity="0.08"/>
<rect x="876" y="970" width="1" height="119" fill="url(#vg4)" opacity="0.07"/>
<rect x="877" y="970" width="2" height="119" fill="url(#vg4)" opacity="0.64"/>
<rect x="879" y="970" width="2" height="119" fill="url(#vg4)" opacity="0.06"/>
<rect x="881" y="970" width="1" height="119" fill="url(#vg2)" opacity="0.06"/>
<rect x="882" y="970" width="2" height="119" fill="url(#vg1)" opacity="0.02"/>
<rect x="884" y="970" width="1" height="119" fill="url(#vg1)" opacity="0.02"/>
<rect x="885" y="970" width="1" height="119" fill="url(#vg1)" opacity="0.02"/>
<rect x="886" y="970" width="1" height="119" fill="url(#vg1)" opacity="0.14"/>
<rect x="887" y="970" width="1" height="119" fill="url(#vg1)" opacity="0.03"/>
<rect x="888" y="970" width="1" height="119" fill="url(#vg1)" opacity="0.03"/>
<rect x="889" y="970" width="1" height="119" fill="url(#vg1)" opacity="0.20"/>
<rect x="890" y="970" width="1" height="119" fill="url(#vg0)" opacity="0.13"/>
<rect x="891" y="970" width="2" height="119" fill="url(#vg0)" opacity="0.03"/>
<rect x="893" y="970" width="1" height="119" fill="url(#vg1)" opacity="0.03"/>
<rect x="894" y="970" width="1" height="119" fill="url(#vg0)" opacity="0.16"/>
<rect x="895" y="970" width="2" height="119" fill="url(#vg1)" opacity="0.22"/>
<rect x="897" y="970" width="1" height="119" fill="url(#vg1)" opacity="0.03"/>
<rect x="898" y="970" width="1" height="119" fill="url(#vg1)" opacity="0.02"/>
<rect x="899" y="970" width="2" height="119" fill="url(#vg1)" opacity="0.22"/>
<rect x="901" y="970" width="2" height="119" fill="url(#vg1)" opacity="0.02"/>
<rect x="903" y="970" width="2" height="119" fill="url(#vg0)" opacity="0.22"/>
<rect x="905" y="970" width="1" height="119" fill="url(#vg2)" opacity="0.03"/>
<rect x="906" y="970" width="1" height="119" fill="url(#vg1)" opacity="0.20"/>
<rect x="907" y="970" width="1" height="119" fill="url(#vg1)" opacity="0.17"/>
<rect x="908" y="970" width="1" height="119" fill="url(#vg1)" opacity="0.21"/>
<rect x="909" y="970" width="2" height="119" fill="url(#vg1)" opacity="0.23"/>
<rect x="911" y="970" width="2" height="119" fill="url(#vg1)" opacity="0.19"/>
<rect x="913" y="970" width="1" height="119" fill="url(#vg2)" opacity="0.03"/>
<rect x="914" y="970" width="1" height="119" fill="url(#vg2)" opacity="0.17"/>
<rect x="915" y="970" width="1" height="119" fill="url(#vg1)" opacity="0.22"/>
<rect x="916" y="970" width="2" height="119" fill="url(#vg1)" opacity="0.14"/>
<rect x="918" y="970" width="1" height="119" fill="url(#vg1)" opacity="0.21"/>
<rect x="919" y="970" width="1" height="119" fill="url(#vg1)" opacity="0.17"/>
<rect x="920" y="970" width="1" height="119" fill="url(#vg1)" opacity="0.25"/>
<rect x="921" y="970" width="1" height="119" fill="url(#vg2)" opacity="0.02"/>
<rect x="922" y="970" width="1" height="119" fill="url(#vg2)" opacity="0.17"/>
<rect x="923" y="970" width="1" height="119" fill="url(#vg2)" opacity="0.18"/>
<rect x="924" y="970" width="1" height="119" fill="url(#vg1)" opacity="0.03"/>
<rect x="925" y="970" width="2" height="119" fill="url(#vg1)" opacity="0.17"/>
<rect x="927" y="970" width="1" height="119" fill="url(#vg2)" opacity="0.25"/>
<rect x="928" y="970" width="2" height="119" fill="url(#vg1)" opacity="0.03"/>
<rect x="930" y="970" width="2" height="119" fill="url(#vg1)" opacity="0.04"/>
<rect x="932" y="970" width="2" height="119" fill="url(#vg2)" opacity="0.03"/>
<rect x="934" y="970" width="1" height="119" fill="url(#vg2)" opacity="0.02"/>
<rect x="935" y="970" width="1" height="119" fill="url(#vg2)" opacity="0.18"/>
<rect x="936" y="970" width="2" height="119" fill="url(#vg2)" opacity="0.17"/>
<rect x="938" y="970" width="2" height="119" fill="url(#vg3)" opacity="0.17"/>
<rect x="940" y="970" width="2" height="119" fill="url(#vg2)" opacity="0.03"/>
<rect x="942" y="970" width="1" height="119" fill="url(#vg2)" opacity="0.21"/>
<rect x="943" y="970" width="2" height="119" fill="url(#vg2)" opacity="0.28"/>
<rect x="945" y="970" width="1" height="119" fill="url(#vg3)" opacity="0.04"/>
<rect x="946" y="970" width="2" height="119" fill="url(#vg2)" opacity="0.19"/>
<rect x="948" y="970" width="1" height="119" fill="url(#vg2)" opacity="0.04"/>
<rect x="949" y="970" width="2" height="119" fill="url(#vg2)" opacity="0.24"/>
<rect x="951" y="970" width="1" height="119" fill="url(#vg3)" opacity="0.33"/>
<rect x="952" y="970" width="1" height="119" fill="url(#vg3)" opacity="0.03"/>
<rect x="953" y="970" width="1" height="119" fill="url(#vg2)" opacity="0.31"/>
<rect x="954" y="970" width="2" height="119" fill="url(#vg2)" opacity="0.24"/>
<rect x="956" y="970" width="2" height="119" fill="url(#vg3)" opacity="0.30"/>
<rect x="958" y="970" width="2" height="119" fill="url(#vg2)" opacity="0.03"/>
<rect x="960" y="970" width="1" height="119" fill="url(#vg2)" opacity="0.24"/>
<rect x="961" y="970" width="1" height="119" fill="url(#vg2)" opacity="0.28"/>
<rect x="962" y="970" width="2" height="119" fill="url(#vg3)" opacity="0.32"/>
<rect x="964" y="970" width="1" height="119" fill="url(#vg3)" opacity="0.23"/>
<rect x="965" y="970" width="1" height="119" fill="url(#vg2)" opacity="0.03"/>
<rect x="966" y="970" width="2" height="119" fill="url(#vg3)" opacity="0.04"/>
<rect x="968" y="970" width="2" height="119" fill="url(#vg2)" opacity="0.03"/>
<rect x="970" y="970" width="2" height="119" fill="url(#vg2)" opacity="0.04"/>
<rect x="972" y="970" width="2" height="119" fill="url(#vg2)" opacity="0.04"/>
<rect x="974" y="970" width="1" height="119" fill="url(#vg3)" opacity="0.30"/>
<rect x="975" y="970" width="1" height="119" fill="url(#vg3)" opacity="0.34"/>
<rect x="976" y="970" width="2" height="119" fill="url(#vg3)" opacity="0.29"/>
<rect x="978" y="970" width="1" height="119" fill="url(#vg3)" opacity="0.05"/>
<rect x="979" y="970" width="2" height="119" fill="url(#vg2)" opacity="0.04"/>
<rect x="981" y="970" width="1" height="119" fill="url(#vg3)" opacity="0.03"/>
<rect x="982" y="970" width="1" height="119" fill="url(#vg2)" opacity="0.03"/>
<rect x="983" y="970" width="2" height="119" fill="url(#vg3)" opacity="0.28"/>
<rect x="985" y="970" width="2" height="119" fill="url(#vg3)" opacity="0.22"/>
<rect x="987" y="970" width="2" height="119" fill="url(#vg3)" opacity="0.04"/>
<rect x="989" y="970" width="2" height="119" fill="url(#vg3)" opacity="0.37"/>
<rect x="991" y="970" width="1" height="119" fill="url(#vg4)" opacity="0.40"/>
<rect x="992" y="970" width="1" height="119" fill="url(#vg5)" opacity="0.06"/>
<rect x="993" y="970" width="2" height="119" fill="url(#vg4)" opacity="0.07"/>
<rect x="995" y="970" width="1" height="119" fill="url(#vg5)" opacity="0.39"/>
<rect x="996" y="970" width="2" height="119" fill="url(#vg5)" opacity="0.08"/>
<rect x="998" y="970" width="2" height="119" fill="url(#vg3)" opacity="0.46"/>
<rect x="1000" y="970" width="2" height="119" fill="url(#vg4)" opacity="0.05"/>
<rect x="1002" y="970" width="1" height="119" fill="url(#vg5)" opacity="0.59"/>
<rect x="1003" y="970" width="2" height="119" fill="url(#vg5)" opacity="0.41"/>
<rect x="1005" y="970" width="1" height="119" fill="url(#vg3)" opacity="0.48"/>
<rect x="1006" y="970" width="1" height="119" fill="url(#vg4)" opacity="0.36"/>
<rect x="1007" y="970" width="1" height="119" fill="url(#vg5)" opacity="0.39"/>
<rect x="1008" y="970" width="1" height="119" fill="url(#vg5)" opacity="0.44"/>
<rect x="1009" y="970" width="2" height="119" fill="url(#vg5)" opacity="0.43"/>
<rect x="1011" y="970" width="1" height="119" fill="url(#vg5)" opacity="0.53"/>
<rect x="1012" y="970" width="2" height="119" fill="url(#vg4)" opacity="0.07"/>
<rect x="1014" y="970" width="2" height="119" fill="url(#vg4)" opacity="0.40"/>
<rect x="1016" y="970" width="1" height="119" fill="url(#vg5)" opacity="0.07"/>
<rect x="1017" y="970" width="1" height="119" fill="url(#vg4)" opacity="0.05"/>
<rect x="1018" y="970" width="1" height="119" fill="url(#vg5)" opacity="0.35"/>
<rect x="1019" y="970" width="2" height="119" fill="url(#vg4)" opacity="0.05"/>
<rect x="1021" y="970" width="2" height="119" fill="url(#vg5)" opacity="0.41"/>
<rect x="1023" y="970" width="1" height="119" fill="url(#vg5)" opacity="0.05"/>
<rect x="1024" y="970" width="1" height="119" fill="url(#vg4)" opacity="0.44"/>
<rect x="1025" y="970" width="1" height="119" fill="url(#vg4)" opacity="0.61"/>
<rect x="1026" y="970" width="1" height="119" fill="url(#vg4)" opacity="0.08"/>
<rect x="1027" y="970" width="1" height="119" fill="url(#vg5)" opacity="0.05"/>
<rect x="1028" y="970" width="1" height="119" fill="url(#vg4)" opacity="0.07"/>
<rect x="1029" y="970" width="1" height="119" fill="url(#vg5)" opacity="0.09"/>
<rect x="1030" y="970" width="2" height="119" fill="url(#vg5)" opacity="0.06"/>
<rect x="1032" y="970" width="2" height="119" fill="url(#vg5)" opacity="0.44"/>
<rect x="1034" y="970" width="1" height="119" fill="url(#vg5)" opacity="0.05"/>
<rect x="1035" y="970" width="1" height="119" fill="url(#vg4)" opacity="0.42"/>
<rect x="1036" y="970" width="2" height="119" fill="url(#vg3)" opacity="0.06"/>
<rect x="1038" y="970" width="1" height="119" fill="url(#vg4)" opacity="0.05"/>
<rect x="1039" y="970" width="2" height="119" fill="url(#vg4)" opacity="0.06"/>
<rect x="1041" y="970" width="2" height="119" fill="url(#vg3)" opacity="0.59"/>
<rect x="1043" y="970" width="1" height="119" fill="url(#vg5)" opacity="0.42"/>
<rect x="1044" y="970" width="1" height="119" fill="url(#vg4)" opacity="0.05"/>
<rect x="1045" y="970" width="1" height="119" fill="url(#vg4)" opacity="0.49"/>
<rect x="1046" y="970" width="2" height="119" fill="url(#vg4)" opacity="0.37"/>
<rect x="1048" y="970" width="1" height="119" fill="url(#vg4)" opacity="0.08"/>
<rect x="1049" y="970" width="1" height="119" fill="url(#vg5)" opacity="0.05"/>
<rect x="1050" y="970" width="2" height="119" fill="url(#vg5)" opacity="0.07"/>
<rect x="1052" y="970" width="2" height="119" fill="url(#vg4)" opacity="0.58"/>
<rect x="1054" y="970" width="1" height="119" fill="url(#vg4)" opacity="0.05"/>
<rect x="1055" y="970" width="1" height="119" fill="url(#vg4)" opacity="0.06"/>
<rect x="1056" y="970" width="1" height="119" fill="url(#vg4)" opacity="0.06"/>
<rect x="1057" y="970" width="2" height="119" fill="url(#vg3)" opacity="0.53"/>
<rect x="1059" y="970" width="1" height="119" fill="url(#vg4)" opacity="0.35"/>
<rect x="1060" y="970" width="1" height="119" fill="url(#vg4)" opacity="0.05"/>
<rect x="1061" y="970" width="1" height="119" fill="url(#vg4)" opacity="0.38"/>
<rect x="1062" y="970" width="1" height="119" fill="url(#vg5)" opacity="0.60"/>
<rect x="1063" y="970" width="1" height="119" fill="url(#vg5)" opacity="0.41"/>
<rect x="1064" y="970" width="2" height="119" fill="url(#vg4)" opacity="0.05"/>
<rect x="1066" y="970" width="2" height="119" fill="url(#vg4)" opacity="0.05"/>
<rect x="1068" y="970" width="1" height="119" fill="url(#vg4)" opacity="0.44"/>
<rect x="1069" y="970" width="1" height="119" fill="url(#vg5)" opacity="0.49"/>
<rect x="1070" y="970" width="1" height="119" fill="url(#vg5)" opacity="0.42"/>
<rect x="1071" y="970" width="2" height="119" fill="url(#vg5)" opacity="0.38"/>
<rect x="1073" y="970" width="1" height="119" fill="url(#vg5)" opacity="0.08"/>
<rect x="1074" y="970" width="1" height="119" fill="url(#vg4)" opacity="0.07"/>
<rect x="1075" y="970" width="1" height="119" fill="url(#vg4)" opacity="0.36"/>
<rect x="1076" y="970" width="1" height="119" fill="url(#vg3)" opacity="0.55"/>
<rect x="1077" y="970" width="2" height="119" fill="url(#vg4)" opacity="0.07"/>
<rect x="1079" y="970" width="1" height="119" fill="url(#vg4)" opacity="0.47"/>
<rect x="1080" y="970" width="2" height="119" fill="url(#vg4)" opacity="0.44"/>
<rect x="1082" y="970" width="2" height="119" fill="url(#vg3)" opacity="0.04"/>
<rect x="1084" y="970" width="2" height="119" fill="url(#vg3)" opacity="0.06"/>
<rect x="1086" y="970" width="2" height="119" fill="url(#vg4)" opacity="0.27"/>
<rect x="1088" y="970" width="1" height="119" fill="url(#vg3)" opacity="0.47"/>
<rect x="1089" y="970" width="1" height="119" fill="url(#vg3)" opacity="0.34"/>
<rect x="1090" y="970" width="1" height="119" fill="url(#vg4)" opacity="0.05"/>
<rect x="1091" y="970" width="2" height="119" fill="url(#vg3)" opacity="0.43"/>
<rect x="1093" y="970" width="2" height="119" fill="url(#vg3)" opacity="0.05"/>
<rect x="1095" y="970" width="2" height="119" fill="url(#vg3)" opacity="0.05"/>
<rect x="1097" y="970" width="1" height="119" fill="url(#vg3)" opacity="0.04"/>
<rect x="1098" y="970" width="1" height="119" fill="url(#vg4)" opacity="0.05"/>
<rect x="1099" y="970" width="1" height="119" fill="url(#vg3)" opacity="0.43"/>
<rect x="1100" y="970" width="2" height="119" fill="url(#vg4)" opacity="0.31"/>
<rect x="1102" y="970" width="1" height="119" fill="url(#vg3)" opacity="0.41"/>
<rect x="1103" y="970" width="1" height="119" fill="url(#vg4)" opacity="0.05"/>
<rect x="1104" y="970" width="1" height="119" fill="url(#vg2)" opacity="0.06"/>
<rect x="1105" y="970" width="2" height="119" fill="url(#vg4)" opacity="0.34"/>
<rect x="1107" y="970" width="2" height="119" fill="url(#vg3)" opacity="0.06"/>
<rect x="1109" y="970" width="2" height="119" fill="url(#vg3)" opacity="0.05"/>
<rect x="1111" y="970" width="2" height="119" fill="url(#vg4)" opacity="0.33"/>
<rect x="1113" y="970" width="2" height="119" fill="url(#vg3)" opacity="0.04"/>
<rect x="1115" y="970" width="2" height="119" fill="url(#vg3)" opacity="0.40"/>
<rect x="1117" y="970" width="1" height="119" fill="url(#vg4)" opacity="0.25"/>
<rect x="1118" y="970" width="1" height="119" fill="url(#vg4)" opacity="0.29"/>
<rect x="1119" y="970" width="1" height="119" fill="url(#vg4)" opacity="0.34"/>
<rect x="1120" y="970" width="2" height="119" fill="url(#vg4)" opacity="0.04"/>
<rect x="1122" y="970" width="1" height="119" fill="url(#vg3)" opacity="0.06"/>
<rect x="1123" y="970" width="2" height="119" fill="url(#vg4)" opacity="0.05"/>
<rect x="1125" y="970" width="1" height="119" fill="url(#vg4)" opacity="0.27"/>
<rect x="1126" y="970" width="2" height="119" fill="url(#vg3)" opacity="0.33"/>
<rect x="1128" y="970" width="1" height="119" fill="url(#vg3)" opacity="0.05"/>
<rect x="1129" y="970" width="2" height="119" fill="url(#vg4)" opacity="0.05"/>
<rect x="1131" y="970" width="2" height="119" fill="url(#vg4)" opacity="0.34"/>
<rect x="1133" y="970" width="1" height="119" fill="url(#vg4)" opacity="0.06"/>
<rect x="1134" y="970" width="2" height="119" fill="url(#vg3)" opacity="0.46"/>
<rect x="1136" y="970" width="1" height="119" fill="url(#vg4)" opacity="0.35"/>
<rect x="1137" y="970" width="1" height="119" fill="url(#vg4)" opacity="0.26"/>
<rect x="1138" y="970" width="1" height="119" fill="url(#vg4)" opacity="0.43"/>
<rect x="1139" y="970" width="2" height="119" fill="url(#vg3)" opacity="0.05"/>
<rect x="1141" y="970" width="2" height="119" fill="url(#vg3)" opacity="0.27"/>
<rect x="1143" y="970" width="2" height="119" fill="url(#vg4)" opacity="0.26"/>
<rect x="1145" y="970" width="2" height="119" fill="url(#vg4)" opacity="0.29"/>
<rect x="1147" y="970" width="1" height="119" fill="url(#vg3)" opacity="0.05"/>
<rect x="1148" y="970" width="1" height="119" fill="url(#vg3)" opacity="0.05"/>
<rect x="1149" y="970" width="2" height="119" fill="url(#vg3)" opacity="0.32"/>
<rect x="1151" y="970" width="2" height="119" fill="url(#vg3)" opacity="0.04"/>
<rect x="1153" y="970" width="1" height="119" fill="url(#vg3)" opacity="0.33"/>
<rect x="1154" y="970" width="1" height="119" fill="url(#vg4)" opacity="0.30"/>
<rect x="1155" y="970" width="1" height="119" fill="url(#vg3)" opacity="0.39"/>
<rect x="1156" y="970" width="2" height="119" fill="url(#vg3)" opacity="0.34"/>
<rect x="1158" y="970" width="1" height="119" fill="url(#vg4)" opacity="0.31"/>
<rect x="1159" y="970" width="1" height="119" fill="url(#vg3)" opacity="0.06"/>
<rect x="1160" y="970" width="2" height="119" fill="url(#vg4)" opacity="0.37"/>
<rect x="1162" y="970" width="1" height="119" fill="url(#vg4)" opacity="0.05"/>
<rect x="1163" y="970" width="2" height="119" fill="url(#vg4)" opacity="0.25"/>
<rect x="1165" y="970" width="1" height="119" fill="url(#vg4)" opacity="0.05"/>
<rect x="1166" y="970" width="2" height="119" fill="url(#vg4)" opacity="0.06"/>
<rect x="1168" y="970" width="1" height="119" fill="url(#vg4)" opacity="0.33"/>
<rect x="1169" y="970" width="1" height="119" fill="url(#vg3)" opacity="0.04"/>
<rect x="1170" y="970" width="1" height="119" fill="url(#vg4)" opacity="0.38"/>
<rect x="1171" y="970" width="2" height="119" fill="url(#vg3)" opacity="0.27"/>
<rect x="1173" y="970" width="2" height="119" fill="url(#vg3)" opacity="0.25"/>
<rect x="1175" y="970" width="1" height="119" fill="url(#vg3)" opacity="0.31"/>
<rect x="1176" y="970" width="1" height="119" fill="url(#vg3)" opacity="0.05"/>
<rect x="1177" y="970" width="1" height="119" fill="url(#vg3)" opacity="0.04"/>
<rect x="1178" y="970" width="2" height="119" fill="url(#vg3)" opacity="0.06"/>
<rect x="1180" y="970" width="1" height="119" fill="url(#vg4)" opacity="0.42"/>
<rect x="1181" y="970" width="1" height="119" fill="url(#vg4)" opacity="0.40"/>
<rect x="1182" y="970" width="1" height="119" fill="url(#vg4)" opacity="0.04"/>
<rect x="1183" y="970" width="1" height="119" fill="url(#vg3)" opacity="0.26"/>
<rect x="1184" y="970" width="1" height="119" fill="url(#vg4)" opacity="0.38"/>
<rect x="1185" y="970" width="1" height="119" fill="url(#vg3)" opacity="0.33"/>
<rect x="1186" y="970" width="1" height="119" fill="url(#vg3)" opacity="0.32"/>
<rect x="1187" y="970" width="1" height="119" fill="url(#vg3)" opacity="0.22"/>
<rect x="1188" y="970" width="1" height="119" fill="url(#vg2)" opacity="0.03"/>
<rect x="1189" y="970" width="2" height="119" fill="url(#vg2)" opacity="0.17"/>
<rect x="1191" y="970" width="2" height="119" fill="url(#vg2)" opacity="0.20"/>
<rect x="1193" y="970" width="2" height="119" fill="url(#vg2)" opacity="0.19"/>
<rect x="1195" y="970" width="1" height="119" fill="url(#vg2)" opacity="0.03"/>
<rect x="1196" y="970" width="2" height="119" fill="url(#vg2)" opacity="0.19"/>
<rect x="1198" y="970" width="2" height="119" fill="url(#vg2)" opacity="0.03"/>
<rect x="1200" y="970" width="1" height="119" fill="url(#vg2)" opacity="0.16"/>
<rect x="1201" y="970" width="2" height="119" fill="url(#vg2)" opacity="0.04"/>
<rect x="1203" y="970" width="2" height="119" fill="url(#vg3)" opacity="0.24"/>
<rect x="1205" y="970" width="2" height="119" fill="url(#vg2)" opacity="0.25"/>
<rect x="1207" y="970" width="1" height="119" fill="url(#vg1)" opacity="0.03"/>
<rect x="1208" y="970" width="2" height="119" fill="url(#vg1)" opacity="0.17"/>
<rect x="1210" y="970" width="2" height="119" fill="url(#vg2)" opacity="0.18"/>
<rect x="1212" y="970" width="1" height="119" fill="url(#vg1)" opacity="0.22"/>
<rect x="1213" y="970" width="2" height="119" fill="url(#vg2)" opacity="0.22"/>
<rect x="1215" y="970" width="1" height="119" fill="url(#vg2)" opacity="0.18"/>
<rect x="1216" y="970" width="1" height="119" fill="url(#vg2)" opacity="0.03"/>
<rect x="1217" y="970" width="2" height="119" fill="url(#vg2)" opacity="0.03"/>
<rect x="1219" y="970" width="2" height="119" fill="url(#vg2)" opacity="0.03"/>
<rect x="1221" y="970" width="1" height="119" fill="url(#vg2)" opacity="0.20"/>
<rect x="1222" y="970" width="2" height="119" fill="url(#vg2)" opacity="0.27"/>
<rect x="1224" y="970" width="2" height="119" fill="url(#vg2)" opacity="0.03"/>
<rect x="1226" y="970" width="2" height="119" fill="url(#vg1)" opacity="0.20"/>
<rect x="1228" y="970" width="2" height="119" fill="url(#vg1)" opacity="0.04"/>
<rect x="1230" y="970" width="2" height="119" fill="url(#vg2)" opacity="0.04"/>
<rect x="1232" y="970" width="2" height="119" fill="url(#vg2)" opacity="0.04"/>
<rect x="1234" y="970" width="2" height="119" fill="url(#vg1)" opacity="0.03"/>
<rect x="1236" y="970" width="1" height="119" fill="url(#vg2)" opacity="0.02"/>
<rect x="1237" y="970" width="1" height="119" fill="url(#vg1)" opacity="0.27"/>
<rect x="1238" y="970" width="2" height="119" fill="url(#vg2)" opacity="0.25"/>
<rect x="1240" y="970" width="2" height="119" fill="url(#vg2)" opacity="0.02"/>
<rect x="1242" y="970" width="1" height="119" fill="url(#vg2)" opacity="0.20"/>
<rect x="1243" y="970" width="2" height="119" fill="url(#vg2)" opacity="0.03"/>
<rect x="1245" y="970" width="2" height="119" fill="url(#vg1)" opacity="0.04"/>
<rect x="1247" y="970" width="2" height="119" fill="url(#vg1)" opacity="0.04"/>
<rect x="1249" y="970" width="1" height="119" fill="url(#vg2)" opacity="0.28"/>
<rect x="1250" y="970" width="1" height="119" fill="url(#vg1)" opacity="0.03"/>
<rect x="1251" y="970" width="1" height="119" fill="url(#vg2)" opacity="0.03"/>
<rect x="1252" y="970" width="1" height="119" fill="url(#vg2)" opacity="0.28"/>
<rect x="1253" y="970" width="1" height="119" fill="url(#vg2)" opacity="0.28"/>
<rect x="1254" y="970" width="2" height="119" fill="url(#vg2)" opacity="0.16"/>
<rect x="1256" y="970" width="2" height="119" fill="url(#vg1)" opacity="0.28"/>
<rect x="1258" y="970" width="1" height="119" fill="url(#vg2)" opacity="0.04"/>
<rect x="1259" y="970" width="2" height="119" fill="url(#vg2)" opacity="0.22"/>
<rect x="1261" y="970" width="1" height="119" fill="url(#vg2)" opacity="0.04"/>
<rect x="1262" y="970" width="1" height="119" fill="url(#vg2)" opacity="0.02"/>
<rect x="1263" y="970" width="1" height="119" fill="url(#vg2)" opacity="0.03"/>
<rect x="1264" y="970" width="1" height="119" fill="url(#vg2)" opacity="0.03"/>
<rect x="1265" y="970" width="1" height="119" fill="url(#vg2)" opacity="0.19"/>
<rect x="1266" y="970" width="1" height="119" fill="url(#vg2)" opacity="0.03"/>
<rect x="1267" y="970" width="2" height="119" fill="url(#vg2)" opacity="0.16"/>
<rect x="1269" y="970" width="1" height="119" fill="url(#vg2)" opacity="0.20"/>
<rect x="1270" y="970" width="1" height="119" fill="url(#vg2)" opacity="0.04"/>
<rect x="1271" y="970" width="1" height="119" fill="url(#vg2)" opacity="0.03"/>
<rect x="1272" y="970" width="1" height="119" fill="url(#vg1)" opacity="0.20"/>
<rect x="1273" y="970" width="1" height="119" fill="url(#vg2)" opacity="0.28"/>
<rect x="1274" y="970" width="1" height="119" fill="url(#vg1)" opacity="0.28"/>
<rect x="1275" y="970" width="2" height="119" fill="url(#vg2)" opacity="0.28"/>
<rect x="1277" y="970" width="1" height="119" fill="url(#vg1)" opacity="0.16"/>
<rect x="1278" y="970" width="1" height="119" fill="url(#vg2)" opacity="0.02"/>
<rect x="1279" y="970" width="2" height="119" fill="url(#vg2)" opacity="0.33"/>
<rect x="1281" y="970" width="1" height="119" fill="url(#vg3)" opacity="0.42"/>
<rect x="1282" y="970" width="2" height="119" fill="url(#vg4)" opacity="0.06"/>
<rect x="1284" y="970" width="2" height="119" fill="url(#vg5)" opacity="0.37"/>
<rect x="1286" y="970" width="2" height="119" fill="url(#vg3)" opacity="0.33"/>
<rect x="1288" y="970" width="1" height="119" fill="url(#vg5)" opacity="0.05"/>
<rect x="1289" y="970" width="1" height="119" fill="url(#vg4)" opacity="0.05"/>
<rect x="1290" y="970" width="2" height="119" fill="url(#vg4)" opacity="0.06"/>
<rect x="1292" y="970" width="2" height="119" fill="url(#vg4)" opacity="0.43"/>
<rect x="1294" y="970" width="2" height="119" fill="url(#vg5)" opacity="0.08"/>
<rect x="1296" y="970" width="1" height="119" fill="url(#vg3)" opacity="0.40"/>
<rect x="1297" y="970" width="2" height="119" fill="url(#vg4)" opacity="0.08"/>
<rect x="1299" y="970" width="1" height="119" fill="url(#vg5)" opacity="0.46"/>
<rect x="1300" y="970" width="1" height="119" fill="url(#vg4)" opacity="0.39"/>
<rect x="1301" y="970" width="1" height="119" fill="url(#vg4)" opacity="0.45"/>
<rect x="1302" y="970" width="1" height="119" fill="url(#vg4)" opacity="0.07"/>
<rect x="1303" y="970" width="1" height="119" fill="url(#vg4)" opacity="0.46"/>
<rect x="1304" y="970" width="1" height="119" fill="url(#vg5)" opacity="0.40"/>
<rect x="1305" y="970" width="1" height="119" fill="url(#vg5)" opacity="0.08"/>
<rect x="1306" y="970" width="2" height="119" fill="url(#vg5)" opacity="0.52"/>
<rect x="1308" y="970" width="2" height="119" fill="url(#vg5)" opacity="0.05"/>
<rect x="1310" y="970" width="1" height="119" fill="url(#vg5)" opacity="0.49"/>
<rect x="1311" y="970" width="1" height="119" fill="url(#vg5)" opacity="0.35"/>
<rect x="1312" y="970" width="1" height="119" fill="url(#vg5)" opacity="0.53"/>
<rect x="1313" y="970" width="2" height="119" fill="url(#vg5)" opacity="0.08"/>
<rect x="1315" y="970" width="2" height="119" fill="url(#vg4)" opacity="0.50"/>
<rect x="1317" y="970" width="1" height="119" fill="url(#vg4)" opacity="0.07"/>
<rect x="1318" y="970" width="2" height="119" fill="url(#vg4)" opacity="0.41"/>
<rect x="1320" y="970" width="2" height="119" fill="url(#vg5)" opacity="0.41"/>
<rect x="1322" y="970" width="2" height="119" fill="url(#vg5)" opacity="0.58"/>
<rect x="1324" y="970" width="1" height="119" fill="url(#vg5)" opacity="0.33"/>
<rect x="1325" y="970" width="2" height="119" fill="url(#vg4)" opacity="0.05"/>
<rect x="1327" y="970" width="1" height="119" fill="url(#vg4)" opacity="0.06"/>
<rect x="1328" y="970" width="1" height="119" fill="url(#vg4)" opacity="0.38"/>
<rect x="1329" y="970" width="1" height="119" fill="url(#vg4)" opacity="0.48"/>
<rect x="1330" y="970" width="2" height="119" fill="url(#vg4)" opacity="0.05"/>
<rect x="1332" y="970" width="2" height="119" fill="url(#vg3)" opacity="0.03"/>
<rect x="1334" y="970" width="2" height="119" fill="url(#vg2)" opacity="0.03"/>
<rect x="1336" y="970" width="1" height="119" fill="url(#vg2)" opacity="0.03"/>
<rect x="1337" y="970" width="1" height="119" fill="url(#vg1)" opacity="0.03"/>
<rect x="1338" y="970" width="2" height="119" fill="url(#vg2)" opacity="0.19"/>
<rect x="1340" y="970" width="1" height="119" fill="url(#vg1)" opacity="0.15"/>
<rect x="1341" y="970" width="1" height="119" fill="url(#vg1)" opacity="0.03"/>
<rect x="1342" y="970" width="1" height="119" fill="url(#vg2)" opacity="0.17"/>
<rect x="1343" y="970" width="1" height="119" fill="url(#vg1)" opacity="0.19"/>
<rect x="1344" y="970" width="1" height="119" fill="url(#vg1)" opacity="0.22"/>
<rect x="1345" y="970" width="1" height="119" fill="url(#vg1)" opacity="0.03"/>
<rect x="1346" y="970" width="1" height="119" fill="url(#vg1)" opacity="0.23"/>
<rect x="1347" y="970" width="2" height="119" fill="url(#vg2)" opacity="0.18"/>
<rect x="1349" y="970" width="2" height="119" fill="url(#vg2)" opacity="0.20"/>
<rect x="1351" y="970" width="1" height="119" fill="url(#vg2)" opacity="0.19"/>
<rect x="1352" y="970" width="1" height="119" fill="url(#vg1)" opacity="0.21"/>
<rect x="1353" y="970" width="1" height="119" fill="url(#vg2)" opacity="0.15"/>
<rect x="1354" y="970" width="2" height="119" fill="url(#vg2)" opacity="0.17"/>
<rect x="1356" y="970" width="2" height="119" fill="url(#vg2)" opacity="0.15"/>
<rect x="1358" y="970" width="2" height="119" fill="url(#vg1)" opacity="0.03"/>
<rect x="1360" y="970" width="1" height="119" fill="url(#vg1)" opacity="0.18"/>
<rect x="1361" y="970" width="2" height="119" fill="url(#vg2)" opacity="0.15"/>
<rect x="1363" y="970" width="2" height="119" fill="url(#vg2)" opacity="0.18"/>
<rect x="1365" y="970" width="1" height="119" fill="url(#vg1)" opacity="0.13"/>
<rect x="1366" y="970" width="2" height="119" fill="url(#vg1)" opacity="0.02"/>
<rect x="1368" y="970" width="1" height="119" fill="url(#vg1)" opacity="0.13"/>
<rect x="1369" y="970" width="1" height="119" fill="url(#vg1)" opacity="0.02"/>
<rect x="1370" y="970" width="1" height="119" fill="url(#vg1)" opacity="0.19"/>
<rect x="1371" y="970" width="1" height="119" fill="url(#vg1)" opacity="0.19"/>
<rect x="1372" y="970" width="1" height="119" fill="url(#vg2)" opacity="0.02"/>
<rect x="1373" y="970" width="2" height="119" fill="url(#vg1)" opacity="0.02"/>
<rect x="1375" y="970" width="1" height="119" fill="url(#vg1)" opacity="0.09"/>
<rect x="1376" y="970" width="1" height="119" fill="url(#vg0)" opacity="0.01"/>
<rect x="1378" y="970" width="1" height="119" fill="url(#vg0)" opacity="0.07"/>
<rect x="1379" y="970" width="1" height="119" fill="url(#vg0)" opacity="0.07"/>
<rect x="1380" y="970" width="1" height="119" fill="url(#vg0)" opacity="0.05"/>
<rect x="1381" y="970" width="1" height="119" fill="url(#vg0)" opacity="0.06"/>
<rect x="1383" y="970" width="1" height="119" fill="url(#vg0)" opacity="0.01"/>
<rect x="1384" y="970" width="2" height="119" fill="url(#vg0)" opacity="0.07"/>
<rect x="1387" y="970" width="2" height="119" fill="url(#vg0)" opacity="0.05"/>
<rect x="1389" y="970" width="2" height="119" fill="url(#vg0)" opacity="0.06"/>
<rect x="1391" y="970" width="2" height="119" fill="url(#vg0)" opacity="0.07"/>
<rect x="1393" y="970" width="2" height="119" fill="url(#vg0)" opacity="0.08"/>
<rect x="1395" y="970" width="2" height="119" fill="url(#vg0)" opacity="0.06"/>
<rect x="1397" y="970" width="2" height="119" fill="url(#vg0)" opacity="0.01"/>
<rect x="1399" y="970" width="2" height="119" fill="url(#vg0)" opacity="0.01"/>
<rect x="1401" y="970" width="2" height="119" fill="url(#vg0)" opacity="0.05"/>
<rect x="1403" y="970" width="1" height="119" fill="url(#vg0)" opacity="0.07"/>
<rect x="1404" y="970" width="1" height="119" fill="url(#vg0)" opacity="0.02"/>
<rect x="1405" y="970" width="1" height="119" fill="url(#vg0)" opacity="0.16"/>
<rect x="1406" y="970" width="2" height="119" fill="url(#vg0)" opacity="0.23"/>
<rect x="1408" y="970" width="1" height="119" fill="url(#vg0)" opacity="0.02"/>
<rect x="1409" y="970" width="1" height="119" fill="url(#vg0)" opacity="0.03"/>
<rect x="1410" y="970" width="2" height="119" fill="url(#vg1)" opacity="0.03"/>
<rect x="1412" y="970" width="2" height="119" fill="url(#vg1)" opacity="0.03"/>
<rect x="1414" y="970" width="2" height="119" fill="url(#vg0)" opacity="0.14"/>
<rect x="1416" y="970" width="2" height="119" fill="url(#vg1)" opacity="0.24"/>
<rect x="1418" y="970" width="2" height="119" fill="url(#vg1)" opacity="0.14"/>
<rect x="1420" y="970" width="1" height="119" fill="url(#vg1)" opacity="0.03"/>
<rect x="1421" y="970" width="2" height="119" fill="url(#vg1)" opacity="0.15"/>
<rect x="771" y="999" width="64" height="1" fill="#fff" opacity="0.12"/>
<rect x="1165" y="999" width="256" height="1" fill="#fff" opacity="0.1"/>
<rect x="1214" y="1040" width="207" height="1" fill="#fff" opacity="0.16"/>
<rect x="760" y="986" width="661" height="1" fill="#fff" opacity="0.05"/>
</g>
<g filter="url(#jet0)" shape-rendering="crispEdges">
<rect x="731" y="1089" width="691" height="33" fill="#000"/>
<rect x="731" y="1089" width="691" height="33" fill="#fff" opacity="0.045"/>
<rect x="731" y="1089" width="1" height="8" fill="#fff" opacity="0.09"/>
<rect x="731" y="1097" width="1" height="25" fill="#fff" opacity="0.14"/>
<rect x="732" y="1089" width="1" height="8" fill="#fff" opacity="0.09"/>
<rect x="732" y="1097" width="1" height="25" fill="#fff" opacity="0.15"/>
<rect x="733" y="1089" width="1" height="8" fill="#fff" opacity="0.18"/>
<rect x="733" y="1097" width="1" height="25" fill="#fff" opacity="0.25"/>
<rect x="734" y="1089" width="2" height="8" fill="#fff" opacity="0.13"/>
<rect x="734" y="1097" width="2" height="25" fill="#fff" opacity="0.16"/>
<rect x="736" y="1089" width="1" height="8" fill="#fff" opacity="0.05"/>
<rect x="736" y="1097" width="1" height="25" fill="#fff" opacity="0.09"/>
<rect x="737" y="1089" width="1" height="8" fill="#fff" opacity="0.19"/>
<rect x="737" y="1097" width="1" height="25" fill="#fff" opacity="0.26"/>
<rect x="738" y="1089" width="2" height="8" fill="#fff" opacity="0.22"/>
<rect x="738" y="1097" width="2" height="25" fill="#fff" opacity="0.31"/>
<rect x="740" y="1089" width="1" height="8" fill="#fff" opacity="0.10"/>
<rect x="740" y="1097" width="1" height="25" fill="#fff" opacity="0.12"/>
<rect x="741" y="1089" width="2" height="8" fill="#fff" opacity="0.16"/>
<rect x="741" y="1097" width="2" height="25" fill="#fff" opacity="0.19"/>
<rect x="743" y="1089" width="2" height="8" fill="#fff" opacity="0.04"/>
<rect x="743" y="1097" width="2" height="25" fill="#fff" opacity="0.05"/>
<rect x="745" y="1089" width="1" height="8" fill="#fff" opacity="0.03"/>
<rect x="745" y="1097" width="1" height="25" fill="#fff" opacity="0.04"/>
<rect x="746" y="1089" width="1" height="8" fill="#fff" opacity="0.03"/>
<rect x="746" y="1097" width="1" height="25" fill="#fff" opacity="0.04"/>
<rect x="747" y="1089" width="1" height="8" fill="#fff" opacity="0.04"/>
<rect x="747" y="1097" width="1" height="25" fill="#fff" opacity="0.07"/>
<rect x="748" y="1089" width="1" height="8" fill="#fff" opacity="0.03"/>
<rect x="748" y="1097" width="1" height="25" fill="#fff" opacity="0.05"/>
<rect x="749" y="1089" width="1" height="8" fill="#fff" opacity="0.03"/>
<rect x="749" y="1097" width="1" height="25" fill="#fff" opacity="0.05"/>
<rect x="750" y="1089" width="1" height="8" fill="#fff" opacity="0.03"/>
<rect x="750" y="1097" width="1" height="25" fill="#fff" opacity="0.04"/>
<rect x="751" y="1089" width="1" height="8" fill="#fff" opacity="0.05"/>
<rect x="751" y="1097" width="1" height="25" fill="#fff" opacity="0.08"/>
<rect x="752" y="1089" width="2" height="8" fill="#fff" opacity="0.06"/>
<rect x="752" y="1097" width="2" height="25" fill="#fff" opacity="0.09"/>
<rect x="754" y="1089" width="2" height="8" fill="#fff" opacity="0.06"/>
<rect x="754" y="1097" width="2" height="25" fill="#fff" opacity="0.09"/>
<rect x="756" y="1089" width="1" height="8" fill="#fff" opacity="0.08"/>
<rect x="756" y="1097" width="1" height="25" fill="#fff" opacity="0.10"/>
<rect x="757" y="1089" width="1" height="8" fill="#fff" opacity="0.05"/>
<rect x="757" y="1097" width="1" height="25" fill="#fff" opacity="0.09"/>
<rect x="758" y="1089" width="2" height="8" fill="#fff" opacity="0.02"/>
<rect x="758" y="1097" width="2" height="25" fill="#fff" opacity="0.03"/>
<rect x="760" y="1089" width="2" height="8" fill="#fff" opacity="0.09"/>
<rect x="760" y="1097" width="2" height="25" fill="#fff" opacity="0.09"/>
<rect x="762" y="1089" width="1" height="8" fill="#fff" opacity="0.02"/>
<rect x="762" y="1097" width="1" height="25" fill="#fff" opacity="0.04"/>
<rect x="763" y="1089" width="2" height="8" fill="#fff" opacity="0.05"/>
<rect x="763" y="1097" width="2" height="25" fill="#fff" opacity="0.07"/>
<rect x="765" y="1089" width="2" height="8" fill="#fff" opacity="0.11"/>
<rect x="765" y="1097" width="2" height="25" fill="#fff" opacity="0.23"/>
<rect x="767" y="1089" width="2" height="8" fill="#fff" opacity="0.13"/>
<rect x="767" y="1097" width="2" height="25" fill="#fff" opacity="0.20"/>
<rect x="769" y="1089" width="1" height="8" fill="#fff" opacity="0.13"/>
<rect x="769" y="1097" width="1" height="25" fill="#fff" opacity="0.18"/>
<rect x="770" y="1089" width="2" height="8" fill="#fff" opacity="0.14"/>
<rect x="770" y="1097" width="2" height="25" fill="#fff" opacity="0.23"/>
<rect x="772" y="1089" width="2" height="8" fill="#fff" opacity="0.08"/>
<rect x="772" y="1097" width="2" height="25" fill="#fff" opacity="0.10"/>
<rect x="774" y="1089" width="2" height="8" fill="#fff" opacity="0.05"/>
<rect x="774" y="1097" width="2" height="25" fill="#fff" opacity="0.10"/>
<rect x="776" y="1089" width="2" height="8" fill="#fff" opacity="0.25"/>
<rect x="776" y="1097" width="2" height="25" fill="#fff" opacity="0.33"/>
<rect x="778" y="1089" width="1" height="8" fill="#fff" opacity="0.12"/>
<rect x="778" y="1097" width="1" height="25" fill="#fff" opacity="0.22"/>
<rect x="779" y="1089" width="1" height="8" fill="#fff" opacity="0.09"/>
<rect x="779" y="1097" width="1" height="25" fill="#fff" opacity="0.14"/>
<rect x="780" y="1089" width="1" height="8" fill="#fff" opacity="0.06"/>
<rect x="780" y="1097" width="1" height="25" fill="#fff" opacity="0.09"/>
<rect x="781" y="1089" width="2" height="8" fill="#fff" opacity="0.17"/>
<rect x="781" y="1097" width="2" height="25" fill="#fff" opacity="0.28"/>
<rect x="783" y="1089" width="1" height="8" fill="#fff" opacity="0.27"/>
<rect x="783" y="1097" width="1" height="25" fill="#fff" opacity="0.32"/>
<rect x="784" y="1089" width="2" height="8" fill="#fff" opacity="0.07"/>
<rect x="784" y="1097" width="2" height="25" fill="#fff" opacity="0.10"/>
<rect x="786" y="1089" width="2" height="8" fill="#fff" opacity="0.17"/>
<rect x="786" y="1097" width="2" height="25" fill="#fff" opacity="0.23"/>
<rect x="788" y="1089" width="1" height="8" fill="#fff" opacity="0.19"/>
<rect x="788" y="1097" width="1" height="25" fill="#fff" opacity="0.33"/>
<rect x="789" y="1089" width="2" height="8" fill="#fff" opacity="0.17"/>
<rect x="789" y="1097" width="2" height="25" fill="#fff" opacity="0.18"/>
<rect x="791" y="1089" width="2" height="8" fill="#fff" opacity="0.12"/>
<rect x="791" y="1097" width="2" height="25" fill="#fff" opacity="0.19"/>
<rect x="793" y="1089" width="1" height="8" fill="#fff" opacity="0.05"/>
<rect x="793" y="1097" width="1" height="25" fill="#fff" opacity="0.07"/>
<rect x="794" y="1089" width="2" height="8" fill="#fff" opacity="0.12"/>
<rect x="794" y="1097" width="2" height="25" fill="#fff" opacity="0.17"/>
<rect x="796" y="1089" width="2" height="8" fill="#fff" opacity="0.02"/>
<rect x="796" y="1097" width="2" height="25" fill="#fff" opacity="0.04"/>
<rect x="798" y="1089" width="2" height="8" fill="#fff" opacity="0.03"/>
<rect x="798" y="1097" width="2" height="25" fill="#fff" opacity="0.04"/>
<rect x="800" y="1089" width="2" height="8" fill="#fff" opacity="0.08"/>
<rect x="800" y="1097" width="2" height="25" fill="#fff" opacity="0.09"/>
<rect x="802" y="1089" width="2" height="8" fill="#fff" opacity="0.06"/>
<rect x="802" y="1097" width="2" height="25" fill="#fff" opacity="0.09"/>
<rect x="804" y="1089" width="1" height="8" fill="#fff" opacity="0.11"/>
<rect x="804" y="1097" width="1" height="25" fill="#fff" opacity="0.13"/>
<rect x="805" y="1089" width="2" height="8" fill="#fff" opacity="0.04"/>
<rect x="805" y="1097" width="2" height="25" fill="#fff" opacity="0.05"/>
<rect x="807" y="1089" width="1" height="8" fill="#fff" opacity="0.10"/>
<rect x="807" y="1097" width="1" height="25" fill="#fff" opacity="0.15"/>
<rect x="808" y="1089" width="1" height="8" fill="#fff" opacity="0.14"/>
<rect x="808" y="1097" width="1" height="25" fill="#fff" opacity="0.23"/>
<rect x="809" y="1089" width="2" height="8" fill="#fff" opacity="0.22"/>
<rect x="809" y="1097" width="2" height="25" fill="#fff" opacity="0.24"/>
<rect x="811" y="1089" width="2" height="8" fill="#fff" opacity="0.06"/>
<rect x="811" y="1097" width="2" height="25" fill="#fff" opacity="0.09"/>
<rect x="813" y="1089" width="1" height="8" fill="#fff" opacity="0.28"/>
<rect x="813" y="1097" width="1" height="25" fill="#fff" opacity="0.34"/>
<rect x="814" y="1089" width="2" height="8" fill="#fff" opacity="0.06"/>
<rect x="814" y="1097" width="2" height="25" fill="#fff" opacity="0.10"/>
<rect x="816" y="1089" width="2" height="8" fill="#fff" opacity="0.22"/>
<rect x="816" y="1097" width="2" height="25" fill="#fff" opacity="0.33"/>
<rect x="818" y="1089" width="2" height="8" fill="#fff" opacity="0.19"/>
<rect x="818" y="1097" width="2" height="25" fill="#fff" opacity="0.23"/>
<rect x="820" y="1089" width="2" height="8" fill="#fff" opacity="0.08"/>
<rect x="820" y="1097" width="2" height="25" fill="#fff" opacity="0.10"/>
<rect x="822" y="1089" width="2" height="8" fill="#fff" opacity="0.19"/>
<rect x="822" y="1097" width="2" height="25" fill="#fff" opacity="0.26"/>
<rect x="824" y="1089" width="2" height="8" fill="#fff" opacity="0.09"/>
<rect x="824" y="1097" width="2" height="25" fill="#fff" opacity="0.13"/>
<rect x="826" y="1089" width="1" height="8" fill="#fff" opacity="0.12"/>
<rect x="826" y="1097" width="1" height="25" fill="#fff" opacity="0.17"/>
<rect x="827" y="1089" width="1" height="8" fill="#fff" opacity="0.04"/>
<rect x="827" y="1097" width="1" height="25" fill="#fff" opacity="0.04"/>
<rect x="828" y="1089" width="2" height="8" fill="#fff" opacity="0.03"/>
<rect x="828" y="1097" width="2" height="25" fill="#fff" opacity="0.03"/>
<rect x="830" y="1089" width="1" height="8" fill="#fff" opacity="0.05"/>
<rect x="830" y="1097" width="1" height="25" fill="#fff" opacity="0.08"/>
<rect x="831" y="1089" width="1" height="8" fill="#fff" opacity="0.03"/>
<rect x="831" y="1097" width="1" height="25" fill="#fff" opacity="0.04"/>
<rect x="832" y="1089" width="1" height="8" fill="#fff" opacity="0.03"/>
<rect x="832" y="1097" width="1" height="25" fill="#fff" opacity="0.04"/>
<rect x="833" y="1089" width="2" height="8" fill="#fff" opacity="0.10"/>
<rect x="833" y="1097" width="2" height="25" fill="#fff" opacity="0.14"/>
<rect x="835" y="1089" width="2" height="8" fill="#fff" opacity="0.02"/>
<rect x="835" y="1097" width="2" height="25" fill="#fff" opacity="0.04"/>
<rect x="837" y="1089" width="2" height="8" fill="#fff" opacity="0.02"/>
<rect x="837" y="1097" width="2" height="25" fill="#fff" opacity="0.03"/>
<rect x="839" y="1089" width="2" height="8" fill="#fff" opacity="0.08"/>
<rect x="839" y="1097" width="2" height="25" fill="#fff" opacity="0.13"/>
<rect x="841" y="1089" width="1" height="8" fill="#fff" opacity="0.04"/>
<rect x="841" y="1097" width="1" height="25" fill="#fff" opacity="0.04"/>
<rect x="842" y="1089" width="1" height="8" fill="#fff" opacity="0.07"/>
<rect x="842" y="1097" width="1" height="25" fill="#fff" opacity="0.09"/>
<rect x="843" y="1089" width="1" height="8" fill="#fff" opacity="0.03"/>
<rect x="843" y="1097" width="1" height="25" fill="#fff" opacity="0.04"/>
<rect x="844" y="1089" width="1" height="8" fill="#fff" opacity="0.04"/>
<rect x="844" y="1097" width="1" height="25" fill="#fff" opacity="0.04"/>
<rect x="845" y="1089" width="1" height="8" fill="#fff" opacity="0.07"/>
<rect x="845" y="1097" width="1" height="25" fill="#fff" opacity="0.10"/>
<rect x="846" y="1089" width="1" height="8" fill="#fff" opacity="0.09"/>
<rect x="846" y="1097" width="1" height="25" fill="#fff" opacity="0.13"/>
<rect x="847" y="1089" width="1" height="8" fill="#fff" opacity="0.07"/>
<rect x="847" y="1097" width="1" height="25" fill="#fff" opacity="0.11"/>
<rect x="848" y="1089" width="1" height="8" fill="#fff" opacity="0.04"/>
<rect x="848" y="1097" width="1" height="25" fill="#fff" opacity="0.06"/>
<rect x="849" y="1089" width="2" height="8" fill="#fff" opacity="0.10"/>
<rect x="849" y="1097" width="2" height="25" fill="#fff" opacity="0.12"/>
<rect x="851" y="1089" width="1" height="8" fill="#fff" opacity="0.10"/>
<rect x="851" y="1097" width="1" height="25" fill="#fff" opacity="0.12"/>
<rect x="852" y="1089" width="2" height="8" fill="#fff" opacity="0.09"/>
<rect x="852" y="1097" width="2" height="25" fill="#fff" opacity="0.12"/>
<rect x="854" y="1089" width="2" height="8" fill="#fff" opacity="0.12"/>
<rect x="854" y="1097" width="2" height="25" fill="#fff" opacity="0.20"/>
<rect x="856" y="1089" width="2" height="8" fill="#fff" opacity="0.37"/>
<rect x="856" y="1097" width="2" height="25" fill="#fff" opacity="0.47"/>
<rect x="858" y="1089" width="2" height="8" fill="#fff" opacity="0.32"/>
<rect x="858" y="1097" width="2" height="25" fill="#fff" opacity="0.39"/>
<rect x="860" y="1089" width="2" height="8" fill="#fff" opacity="0.14"/>
<rect x="860" y="1097" width="2" height="25" fill="#fff" opacity="0.21"/>
<rect x="862" y="1089" width="1" height="8" fill="#fff" opacity="0.07"/>
<rect x="862" y="1097" width="1" height="25" fill="#fff" opacity="0.10"/>
<rect x="863" y="1089" width="1" height="8" fill="#fff" opacity="0.13"/>
<rect x="863" y="1097" width="1" height="25" fill="#fff" opacity="0.16"/>
<rect x="864" y="1089" width="2" height="8" fill="#fff" opacity="0.13"/>
<rect x="864" y="1097" width="2" height="25" fill="#fff" opacity="0.19"/>
<rect x="866" y="1089" width="1" height="8" fill="#fff" opacity="0.07"/>
<rect x="866" y="1097" width="1" height="25" fill="#fff" opacity="0.12"/>
<rect x="867" y="1089" width="2" height="8" fill="#fff" opacity="0.05"/>
<rect x="867" y="1097" width="2" height="25" fill="#fff" opacity="0.08"/>
<rect x="869" y="1089" width="1" height="8" fill="#fff" opacity="0.04"/>
<rect x="869" y="1097" width="1" height="25" fill="#fff" opacity="0.07"/>
<rect x="870" y="1089" width="1" height="8" fill="#fff" opacity="0.03"/>
<rect x="870" y="1097" width="1" height="25" fill="#fff" opacity="0.05"/>
<rect x="871" y="1089" width="1" height="8" fill="#fff" opacity="0.15"/>
<rect x="871" y="1097" width="1" height="25" fill="#fff" opacity="0.20"/>
<rect x="872" y="1089" width="1" height="8" fill="#fff" opacity="0.12"/>
<rect x="872" y="1097" width="1" height="25" fill="#fff" opacity="0.13"/>
<rect x="873" y="1089" width="1" height="8" fill="#fff" opacity="0.38"/>
<rect x="873" y="1097" width="1" height="25" fill="#fff" opacity="0.49"/>
<rect x="874" y="1089" width="2" height="8" fill="#fff" opacity="0.17"/>
<rect x="874" y="1097" width="2" height="25" fill="#fff" opacity="0.24"/>
<rect x="876" y="1089" width="1" height="8" fill="#fff" opacity="0.17"/>
<rect x="876" y="1097" width="1" height="25" fill="#fff" opacity="0.23"/>
<rect x="877" y="1089" width="2" height="8" fill="#fff" opacity="0.64"/>
<rect x="877" y="1097" width="2" height="25" fill="#fff" opacity="0.62"/>
<rect x="879" y="1089" width="2" height="8" fill="#fff" opacity="0.15"/>
<rect x="879" y="1097" width="2" height="25" fill="#fff" opacity="0.20"/>
<rect x="881" y="1089" width="1" height="8" fill="#fff" opacity="0.13"/>
<rect x="881" y="1097" width="1" height="25" fill="#fff" opacity="0.19"/>
<rect x="882" y="1089" width="2" height="8" fill="#fff" opacity="0.05"/>
<rect x="882" y="1097" width="2" height="25" fill="#fff" opacity="0.07"/>
<rect x="884" y="1089" width="1" height="8" fill="#fff" opacity="0.05"/>
<rect x="884" y="1097" width="1" height="25" fill="#fff" opacity="0.06"/>
<rect x="885" y="1089" width="1" height="8" fill="#fff" opacity="0.04"/>
<rect x="885" y="1097" width="1" height="25" fill="#fff" opacity="0.06"/>
<rect x="886" y="1089" width="1" height="8" fill="#fff" opacity="0.13"/>
<rect x="886" y="1097" width="1" height="25" fill="#fff" opacity="0.18"/>
<rect x="887" y="1089" width="1" height="8" fill="#fff" opacity="0.07"/>
<rect x="887" y="1097" width="1" height="25" fill="#fff" opacity="0.08"/>
<rect x="888" y="1089" width="1" height="8" fill="#fff" opacity="0.07"/>
<rect x="888" y="1097" width="1" height="25" fill="#fff" opacity="0.11"/>
<rect x="889" y="1089" width="1" height="8" fill="#fff" opacity="0.16"/>
<rect x="889" y="1097" width="1" height="25" fill="#fff" opacity="0.22"/>
<rect x="890" y="1089" width="1" height="8" fill="#fff" opacity="0.11"/>
<rect x="890" y="1097" width="1" height="25" fill="#fff" opacity="0.15"/>
<rect x="891" y="1089" width="2" height="8" fill="#fff" opacity="0.06"/>
<rect x="891" y="1097" width="2" height="25" fill="#fff" opacity="0.10"/>
<rect x="893" y="1089" width="1" height="8" fill="#fff" opacity="0.06"/>
<rect x="893" y="1097" width="1" height="25" fill="#fff" opacity="0.08"/>
<rect x="894" y="1089" width="1" height="8" fill="#fff" opacity="0.14"/>
<rect x="894" y="1097" width="1" height="25" fill="#fff" opacity="0.19"/>
<rect x="895" y="1089" width="2" height="8" fill="#fff" opacity="0.20"/>
<rect x="895" y="1097" width="2" height="25" fill="#fff" opacity="0.24"/>
<rect x="897" y="1089" width="1" height="8" fill="#fff" opacity="0.06"/>
<rect x="897" y="1097" width="1" height="25" fill="#fff" opacity="0.10"/>
<rect x="898" y="1089" width="1" height="8" fill="#fff" opacity="0.05"/>
<rect x="898" y="1097" width="1" height="25" fill="#fff" opacity="0.08"/>
<rect x="899" y="1089" width="2" height="8" fill="#fff" opacity="0.15"/>
<rect x="899" y="1097" width="2" height="25" fill="#fff" opacity="0.27"/>
<rect x="901" y="1089" width="2" height="8" fill="#fff" opacity="0.04"/>
<rect x="901" y="1097" width="2" height="25" fill="#fff" opacity="0.06"/>
<rect x="903" y="1089" width="2" height="8" fill="#fff" opacity="0.18"/>
<rect x="903" y="1097" width="2" height="25" fill="#fff" opacity="0.28"/>
<rect x="905" y="1089" width="1" height="8" fill="#fff" opacity="0.06"/>
<rect x="905" y="1097" width="1" height="25" fill="#fff" opacity="0.10"/>
<rect x="906" y="1089" width="1" height="8" fill="#fff" opacity="0.15"/>
<rect x="906" y="1097" width="1" height="25" fill="#fff" opacity="0.26"/>
<rect x="907" y="1089" width="1" height="8" fill="#fff" opacity="0.17"/>
<rect x="907" y="1097" width="1" height="25" fill="#fff" opacity="0.22"/>
<rect x="908" y="1089" width="1" height="8" fill="#fff" opacity="0.21"/>
<rect x="908" y="1097" width="1" height="25" fill="#fff" opacity="0.24"/>
<rect x="909" y="1089" width="2" height="8" fill="#fff" opacity="0.21"/>
<rect x="909" y="1097" width="2" height="25" fill="#fff" opacity="0.30"/>
<rect x="911" y="1089" width="2" height="8" fill="#fff" opacity="0.18"/>
<rect x="911" y="1097" width="2" height="25" fill="#fff" opacity="0.22"/>
<rect x="913" y="1089" width="1" height="8" fill="#fff" opacity="0.07"/>
<rect x="913" y="1097" width="1" height="25" fill="#fff" opacity="0.09"/>
<rect x="914" y="1089" width="1" height="8" fill="#fff" opacity="0.11"/>
<rect x="914" y="1097" width="1" height="25" fill="#fff" opacity="0.19"/>
<rect x="915" y="1089" width="1" height="8" fill="#fff" opacity="0.15"/>
<rect x="915" y="1097" width="1" height="25" fill="#fff" opacity="0.26"/>
<rect x="916" y="1089" width="2" height="8" fill="#fff" opacity="0.10"/>
<rect x="916" y="1097" width="2" height="25" fill="#fff" opacity="0.15"/>
<rect x="918" y="1089" width="1" height="8" fill="#fff" opacity="0.15"/>
<rect x="918" y="1097" width="1" height="25" fill="#fff" opacity="0.23"/>
<rect x="919" y="1089" width="1" height="8" fill="#fff" opacity="0.16"/>
<rect x="919" y="1097" width="1" height="25" fill="#fff" opacity="0.20"/>
<rect x="920" y="1089" width="1" height="8" fill="#fff" opacity="0.21"/>
<rect x="920" y="1097" width="1" height="25" fill="#fff" opacity="0.33"/>
<rect x="921" y="1089" width="1" height="8" fill="#fff" opacity="0.05"/>
<rect x="921" y="1097" width="1" height="25" fill="#fff" opacity="0.07"/>
<rect x="922" y="1089" width="1" height="8" fill="#fff" opacity="0.15"/>
<rect x="922" y="1097" width="1" height="25" fill="#fff" opacity="0.19"/>
<rect x="923" y="1089" width="1" height="8" fill="#fff" opacity="0.17"/>
<rect x="923" y="1097" width="1" height="25" fill="#fff" opacity="0.22"/>
<rect x="924" y="1089" width="1" height="8" fill="#fff" opacity="0.07"/>
<rect x="924" y="1097" width="1" height="25" fill="#fff" opacity="0.08"/>
<rect x="925" y="1089" width="2" height="8" fill="#fff" opacity="0.12"/>
<rect x="925" y="1097" width="2" height="25" fill="#fff" opacity="0.22"/>
<rect x="927" y="1089" width="1" height="8" fill="#fff" opacity="0.17"/>
<rect x="927" y="1097" width="1" height="25" fill="#fff" opacity="0.27"/>
<rect x="928" y="1089" width="2" height="8" fill="#fff" opacity="0.08"/>
<rect x="928" y="1097" width="2" height="25" fill="#fff" opacity="0.10"/>
<rect x="930" y="1089" width="2" height="8" fill="#fff" opacity="0.10"/>
<rect x="930" y="1097" width="2" height="25" fill="#fff" opacity="0.10"/>
<rect x="932" y="1089" width="2" height="8" fill="#fff" opacity="0.06"/>
<rect x="932" y="1097" width="2" height="25" fill="#fff" opacity="0.12"/>
<rect x="934" y="1089" width="1" height="8" fill="#fff" opacity="0.06"/>
<rect x="934" y="1097" width="1" height="25" fill="#fff" opacity="0.08"/>
<rect x="935" y="1089" width="1" height="8" fill="#fff" opacity="0.14"/>
<rect x="935" y="1097" width="1" height="25" fill="#fff" opacity="0.24"/>
<rect x="936" y="1089" width="2" height="8" fill="#fff" opacity="0.15"/>
<rect x="936" y="1097" width="2" height="25" fill="#fff" opacity="0.18"/>
<rect x="938" y="1089" width="2" height="8" fill="#fff" opacity="0.16"/>
<rect x="938" y="1097" width="2" height="25" fill="#fff" opacity="0.18"/>
<rect x="940" y="1089" width="2" height="8" fill="#fff" opacity="0.07"/>
<rect x="940" y="1097" width="2" height="25" fill="#fff" opacity="0.10"/>
<rect x="942" y="1089" width="1" height="8" fill="#fff" opacity="0.19"/>
<rect x="942" y="1097" width="1" height="25" fill="#fff" opacity="0.24"/>
<rect x="943" y="1089" width="2" height="8" fill="#fff" opacity="0.27"/>
<rect x="943" y="1097" width="2" height="25" fill="#fff" opacity="0.29"/>
<rect x="945" y="1089" width="1" height="8" fill="#fff" opacity="0.08"/>
<rect x="945" y="1097" width="1" height="25" fill="#fff" opacity="0.13"/>
<rect x="946" y="1089" width="2" height="8" fill="#fff" opacity="0.13"/>
<rect x="946" y="1097" width="2" height="25" fill="#fff" opacity="0.20"/>
<rect x="948" y="1089" width="1" height="8" fill="#fff" opacity="0.10"/>
<rect x="948" y="1097" width="1" height="25" fill="#fff" opacity="0.15"/>
<rect x="949" y="1089" width="2" height="8" fill="#fff" opacity="0.19"/>
<rect x="949" y="1097" width="2" height="25" fill="#fff" opacity="0.24"/>
<rect x="951" y="1089" width="1" height="8" fill="#fff" opacity="0.29"/>
<rect x="951" y="1097" width="1" height="25" fill="#fff" opacity="0.40"/>
<rect x="952" y="1089" width="1" height="8" fill="#fff" opacity="0.06"/>
<rect x="952" y="1097" width="1" height="25" fill="#fff" opacity="0.11"/>
<rect x="953" y="1089" width="1" height="8" fill="#fff" opacity="0.22"/>
<rect x="953" y="1097" width="1" height="25" fill="#fff" opacity="0.40"/>
<rect x="954" y="1089" width="2" height="8" fill="#fff" opacity="0.17"/>
<rect x="954" y="1097" width="2" height="25" fill="#fff" opacity="0.30"/>
<rect x="956" y="1089" width="2" height="8" fill="#fff" opacity="0.21"/>
<rect x="956" y="1097" width="2" height="25" fill="#fff" opacity="0.40"/>
<rect x="958" y="1089" width="2" height="8" fill="#fff" opacity="0.07"/>
<rect x="958" y="1097" width="2" height="25" fill="#fff" opacity="0.10"/>
<rect x="960" y="1089" width="1" height="8" fill="#fff" opacity="0.17"/>
<rect x="960" y="1097" width="1" height="25" fill="#fff" opacity="0.33"/>
<rect x="961" y="1089" width="1" height="8" fill="#fff" opacity="0.23"/>
<rect x="961" y="1097" width="1" height="25" fill="#fff" opacity="0.30"/>
<rect x="962" y="1089" width="2" height="8" fill="#fff" opacity="0.22"/>
<rect x="962" y="1097" width="2" height="25" fill="#fff" opacity="0.41"/>
<rect x="964" y="1089" width="1" height="8" fill="#fff" opacity="0.21"/>
<rect x="964" y="1097" width="1" height="25" fill="#fff" opacity="0.24"/>
<rect x="965" y="1089" width="1" height="8" fill="#fff" opacity="0.08"/>
<rect x="965" y="1097" width="1" height="25" fill="#fff" opacity="0.10"/>
<rect x="966" y="1089" width="2" height="8" fill="#fff" opacity="0.09"/>
<rect x="966" y="1097" width="2" height="25" fill="#fff" opacity="0.14"/>
<rect x="968" y="1089" width="2" height="8" fill="#fff" opacity="0.06"/>
<rect x="968" y="1097" width="2" height="25" fill="#fff" opacity="0.10"/>
<rect x="970" y="1089" width="2" height="8" fill="#fff" opacity="0.09"/>
<rect x="970" y="1097" width="2" height="25" fill="#fff" opacity="0.12"/>
<rect x="972" y="1089" width="2" height="8" fill="#fff" opacity="0.12"/>
<rect x="972" y="1097" width="2" height="25" fill="#fff" opacity="0.15"/>
<rect x="974" y="1089" width="1" height="8" fill="#fff" opacity="0.28"/>
<rect x="974" y="1097" width="1" height="25" fill="#fff" opacity="0.38"/>
<rect x="975" y="1089" width="1" height="8" fill="#fff" opacity="0.27"/>
<rect x="975" y="1097" width="1" height="25" fill="#fff" opacity="0.39"/>
<rect x="976" y="1089" width="2" height="8" fill="#fff" opacity="0.23"/>
<rect x="976" y="1097" width="2" height="25" fill="#fff" opacity="0.38"/>
<rect x="978" y="1089" width="1" height="8" fill="#fff" opacity="0.12"/>
<rect x="978" y="1097" width="1" height="25" fill="#fff" opacity="0.15"/>
<rect x="979" y="1089" width="2" height="8" fill="#fff" opacity="0.08"/>
<rect x="979" y="1097" width="2" height="25" fill="#fff" opacity="0.14"/>
<rect x="981" y="1089" width="1" height="8" fill="#fff" opacity="0.07"/>
<rect x="981" y="1097" width="1" height="25" fill="#fff" opacity="0.09"/>
<rect x="982" y="1089" width="1" height="8" fill="#fff" opacity="0.09"/>
<rect x="982" y="1097" width="1" height="25" fill="#fff" opacity="0.13"/>
<rect x="983" y="1089" width="2" height="8" fill="#fff" opacity="0.20"/>
<rect x="983" y="1097" width="2" height="25" fill="#fff" opacity="0.35"/>
<rect x="985" y="1089" width="2" height="8" fill="#fff" opacity="0.15"/>
<rect x="985" y="1097" width="2" height="25" fill="#fff" opacity="0.26"/>
<rect x="987" y="1089" width="2" height="8" fill="#fff" opacity="0.09"/>
<rect x="987" y="1097" width="2" height="25" fill="#fff" opacity="0.12"/>
<rect x="989" y="1089" width="2" height="8" fill="#fff" opacity="0.32"/>
<rect x="989" y="1097" width="2" height="25" fill="#fff" opacity="0.38"/>
<rect x="991" y="1089" width="1" height="8" fill="#fff" opacity="0.39"/>
<rect x="991" y="1097" width="1" height="25" fill="#fff" opacity="0.53"/>
<rect x="992" y="1089" width="1" height="8" fill="#fff" opacity="0.16"/>
<rect x="992" y="1097" width="1" height="25" fill="#fff" opacity="0.18"/>
<rect x="993" y="1089" width="2" height="8" fill="#fff" opacity="0.18"/>
<rect x="993" y="1097" width="2" height="25" fill="#fff" opacity="0.25"/>
<rect x="995" y="1089" width="1" height="8" fill="#fff" opacity="0.26"/>
<rect x="995" y="1097" width="1" height="25" fill="#fff" opacity="0.40"/>
<rect x="996" y="1089" width="2" height="8" fill="#fff" opacity="0.21"/>
<rect x="996" y="1097" width="2" height="25" fill="#fff" opacity="0.24"/>
<rect x="998" y="1089" width="2" height="8" fill="#fff" opacity="0.33"/>
<rect x="998" y="1097" width="2" height="25" fill="#fff" opacity="0.51"/>
<rect x="1000" y="1089" width="2" height="8" fill="#fff" opacity="0.13"/>
<rect x="1000" y="1097" width="2" height="25" fill="#fff" opacity="0.20"/>
<rect x="1002" y="1089" width="1" height="8" fill="#fff" opacity="0.43"/>
<rect x="1002" y="1097" width="1" height="25" fill="#fff" opacity="0.62"/>
<rect x="1003" y="1089" width="2" height="8" fill="#fff" opacity="0.28"/>
<rect x="1003" y="1097" width="2" height="25" fill="#fff" opacity="0.55"/>
<rect x="1005" y="1089" width="1" height="8" fill="#fff" opacity="0.42"/>
<rect x="1005" y="1097" width="1" height="25" fill="#fff" opacity="0.53"/>
<rect x="1006" y="1089" width="1" height="8" fill="#fff" opacity="0.33"/>
<rect x="1006" y="1097" width="1" height="25" fill="#fff" opacity="0.39"/>
<rect x="1007" y="1089" width="1" height="8" fill="#fff" opacity="0.38"/>
<rect x="1007" y="1097" width="1" height="25" fill="#fff" opacity="0.39"/>
<rect x="1008" y="1089" width="1" height="8" fill="#fff" opacity="0.36"/>
<rect x="1008" y="1097" width="1" height="25" fill="#fff" opacity="0.47"/>
<rect x="1009" y="1089" width="2" height="8" fill="#fff" opacity="0.40"/>
<rect x="1009" y="1097" width="2" height="25" fill="#fff" opacity="0.51"/>
<rect x="1011" y="1089" width="1" height="8" fill="#fff" opacity="0.52"/>
<rect x="1011" y="1097" width="1" height="25" fill="#fff" opacity="0.56"/>
<rect x="1012" y="1089" width="2" height="8" fill="#fff" opacity="0.16"/>
<rect x="1012" y="1097" width="2" height="25" fill="#fff" opacity="0.25"/>
<rect x="1014" y="1089" width="2" height="8" fill="#fff" opacity="0.29"/>
<rect x="1014" y="1097" width="2" height="25" fill="#fff" opacity="0.48"/>
<rect x="1016" y="1089" width="1" height="8" fill="#fff" opacity="0.17"/>
<rect x="1016" y="1097" width="1" height="25" fill="#fff" opacity="0.26"/>
<rect x="1017" y="1089" width="1" height="8" fill="#fff" opacity="0.11"/>
<rect x="1017" y="1097" width="1" height="25" fill="#fff" opacity="0.16"/>
<rect x="1018" y="1089" width="1" height="8" fill="#fff" opacity="0.30"/>
<rect x="1018" y="1097" width="1" height="25" fill="#fff" opacity="0.42"/>
<rect x="1019" y="1089" width="2" height="8" fill="#fff" opacity="0.10"/>
<rect x="1019" y="1097" width="2" height="25" fill="#fff" opacity="0.17"/>
<rect x="1021" y="1089" width="2" height="8" fill="#fff" opacity="0.28"/>
<rect x="1021" y="1097" width="2" height="25" fill="#fff" opacity="0.53"/>
<rect x="1023" y="1089" width="1" height="8" fill="#fff" opacity="0.14"/>
<rect x="1023" y="1097" width="1" height="25" fill="#fff" opacity="0.19"/>
<rect x="1024" y="1089" width="1" height="8" fill="#fff" opacity="0.43"/>
<rect x="1024" y="1097" width="1" height="25" fill="#fff" opacity="0.44"/>
<rect x="1025" y="1089" width="1" height="8" fill="#fff" opacity="0.50"/>
<rect x="1025" y="1097" width="1" height="25" fill="#fff" opacity="0.62"/>
<rect x="1026" y="1089" width="1" height="8" fill="#fff" opacity="0.18"/>
<rect x="1026" y="1097" width="1" height="25" fill="#fff" opacity="0.26"/>
<rect x="1027" y="1089" width="1" height="8" fill="#fff" opacity="0.12"/>
<rect x="1027" y="1097" width="1" height="25" fill="#fff" opacity="0.17"/>
<rect x="1028" y="1089" width="1" height="8" fill="#fff" opacity="0.16"/>
<rect x="1028" y="1097" width="1" height="25" fill="#fff" opacity="0.26"/>
<rect x="1029" y="1089" width="1" height="8" fill="#fff" opacity="0.16"/>
<rect x="1029" y="1097" width="1" height="25" fill="#fff" opacity="0.28"/>
<rect x="1030" y="1089" width="2" height="8" fill="#fff" opacity="0.16"/>
<rect x="1030" y="1097" width="2" height="25" fill="#fff" opacity="0.21"/>
<rect x="1032" y="1089" width="2" height="8" fill="#fff" opacity="0.35"/>
<rect x="1032" y="1097" width="2" height="25" fill="#fff" opacity="0.57"/>
<rect x="1034" y="1089" width="1" height="8" fill="#fff" opacity="0.11"/>
<rect x="1034" y="1097" width="1" height="25" fill="#fff" opacity="0.16"/>
<rect x="1035" y="1089" width="1" height="8" fill="#fff" opacity="0.42"/>
<rect x="1035" y="1097" width="1" height="25" fill="#fff" opacity="0.52"/>
<rect x="1036" y="1089" width="2" height="8" fill="#fff" opacity="0.16"/>
<rect x="1036" y="1097" width="2" height="25" fill="#fff" opacity="0.20"/>
<rect x="1038" y="1089" width="1" height="8" fill="#fff" opacity="0.12"/>
<rect x="1038" y="1097" width="1" height="25" fill="#fff" opacity="0.20"/>
<rect x="1039" y="1089" width="2" height="8" fill="#fff" opacity="0.17"/>
<rect x="1039" y="1097" width="2" height="25" fill="#fff" opacity="0.19"/>
<rect x="1041" y="1089" width="2" height="8" fill="#fff" opacity="0.45"/>
<rect x="1041" y="1097" width="2" height="25" fill="#fff" opacity="0.62"/>
<rect x="1043" y="1089" width="1" height="8" fill="#fff" opacity="0.35"/>
<rect x="1043" y="1097" width="1" height="25" fill="#fff" opacity="0.43"/>
<rect x="1044" y="1089" width="1" height="8" fill="#fff" opacity="0.12"/>
<rect x="1044" y="1097" width="1" height="25" fill="#fff" opacity="0.14"/>
<rect x="1045" y="1089" width="1" height="8" fill="#fff" opacity="0.44"/>
<rect x="1045" y="1097" width="1" height="25" fill="#fff" opacity="0.53"/>
<rect x="1046" y="1089" width="2" height="8" fill="#fff" opacity="0.28"/>
<rect x="1046" y="1097" width="2" height="25" fill="#fff" opacity="0.47"/>
<rect x="1048" y="1089" width="1" height="8" fill="#fff" opacity="0.17"/>
<rect x="1048" y="1097" width="1" height="25" fill="#fff" opacity="0.26"/>
<rect x="1049" y="1089" width="1" height="8" fill="#fff" opacity="0.11"/>
<rect x="1049" y="1097" width="1" height="25" fill="#fff" opacity="0.17"/>
<rect x="1050" y="1089" width="2" height="8" fill="#fff" opacity="0.15"/>
<rect x="1050" y="1097" width="2" height="25" fill="#fff" opacity="0.26"/>
<rect x="1052" y="1089" width="2" height="8" fill="#fff" opacity="0.51"/>
<rect x="1052" y="1097" width="2" height="25" fill="#fff" opacity="0.60"/>
<rect x="1054" y="1089" width="1" height="8" fill="#fff" opacity="0.11"/>
<rect x="1054" y="1097" width="1" height="25" fill="#fff" opacity="0.16"/>
<rect x="1055" y="1089" width="1" height="8" fill="#fff" opacity="0.12"/>
<rect x="1055" y="1097" width="1" height="25" fill="#fff" opacity="0.22"/>
<rect x="1056" y="1089" width="1" height="8" fill="#fff" opacity="0.12"/>
<rect x="1056" y="1097" width="1" height="25" fill="#fff" opacity="0.21"/>
<rect x="1057" y="1089" width="2" height="8" fill="#fff" opacity="0.42"/>
<rect x="1057" y="1097" width="2" height="25" fill="#fff" opacity="0.60"/>
<rect x="1059" y="1089" width="1" height="8" fill="#fff" opacity="0.30"/>
<rect x="1059" y="1097" width="1" height="25" fill="#fff" opacity="0.40"/>
<rect x="1060" y="1089" width="1" height="8" fill="#fff" opacity="0.13"/>
<rect x="1060" y="1097" width="1" height="25" fill="#fff" opacity="0.16"/>
<rect x="1061" y="1089" width="1" height="8" fill="#fff" opacity="0.33"/>
<rect x="1061" y="1097" width="1" height="25" fill="#fff" opacity="0.51"/>
<rect x="1062" y="1089" width="1" height="8" fill="#fff" opacity="0.52"/>
<rect x="1062" y="1097" width="1" height="25" fill="#fff" opacity="0.62"/>
<rect x="1063" y="1089" width="1" height="8" fill="#fff" opacity="0.39"/>
<rect x="1063" y="1097" width="1" height="25" fill="#fff" opacity="0.47"/>
<rect x="1064" y="1089" width="2" height="8" fill="#fff" opacity="0.11"/>
<rect x="1064" y="1097" width="2" height="25" fill="#fff" opacity="0.17"/>
<rect x="1066" y="1089" width="2" height="8" fill="#fff" opacity="0.14"/>
<rect x="1066" y="1097" width="2" height="25" fill="#fff" opacity="0.17"/>
<rect x="1068" y="1089" width="1" height="8" fill="#fff" opacity="0.37"/>
<rect x="1068" y="1097" width="1" height="25" fill="#fff" opacity="0.55"/>
<rect x="1069" y="1089" width="1" height="8" fill="#fff" opacity="0.49"/>
<rect x="1069" y="1097" width="1" height="25" fill="#fff" opacity="0.55"/>
<rect x="1070" y="1089" width="1" height="8" fill="#fff" opacity="0.38"/>
<rect x="1070" y="1097" width="1" height="25" fill="#fff" opacity="0.52"/>
<rect x="1071" y="1089" width="2" height="8" fill="#fff" opacity="0.31"/>
<rect x="1071" y="1097" width="2" height="25" fill="#fff" opacity="0.45"/>
<rect x="1073" y="1089" width="1" height="8" fill="#fff" opacity="0.16"/>
<rect x="1073" y="1097" width="1" height="25" fill="#fff" opacity="0.23"/>
<rect x="1074" y="1089" width="1" height="8" fill="#fff" opacity="0.13"/>
<rect x="1074" y="1097" width="1" height="25" fill="#fff" opacity="0.19"/>
<rect x="1075" y="1089" width="1" height="8" fill="#fff" opacity="0.33"/>
<rect x="1075" y="1097" width="1" height="25" fill="#fff" opacity="0.43"/>
<rect x="1076" y="1089" width="1" height="8" fill="#fff" opacity="0.41"/>
<rect x="1076" y="1097" width="1" height="25" fill="#fff" opacity="0.62"/>
<rect x="1077" y="1089" width="2" height="8" fill="#fff" opacity="0.17"/>
<rect x="1077" y="1097" width="2" height="25" fill="#fff" opacity="0.21"/>
<rect x="1079" y="1089" width="1" height="8" fill="#fff" opacity="0.40"/>
<rect x="1079" y="1097" width="1" height="25" fill="#fff" opacity="0.54"/>
<rect x="1080" y="1089" width="2" height="8" fill="#fff" opacity="0.30"/>
<rect x="1080" y="1097" width="2" height="25" fill="#fff" opacity="0.50"/>
<rect x="1082" y="1089" width="2" height="8" fill="#fff" opacity="0.10"/>
<rect x="1082" y="1097" width="2" height="25" fill="#fff" opacity="0.16"/>
<rect x="1084" y="1089" width="2" height="8" fill="#fff" opacity="0.14"/>
<rect x="1084" y="1097" width="2" height="25" fill="#fff" opacity="0.18"/>
<rect x="1086" y="1089" width="2" height="8" fill="#fff" opacity="0.18"/>
<rect x="1086" y="1097" width="2" height="25" fill="#fff" opacity="0.27"/>
<rect x="1088" y="1089" width="1" height="8" fill="#fff" opacity="0.36"/>
<rect x="1088" y="1097" width="1" height="25" fill="#fff" opacity="0.48"/>
<rect x="1089" y="1089" width="1" height="8" fill="#fff" opacity="0.31"/>
<rect x="1089" y="1097" width="1" height="25" fill="#fff" opacity="0.44"/>
<rect x="1090" y="1089" width="1" height="8" fill="#fff" opacity="0.15"/>
<rect x="1090" y="1097" width="1" height="25" fill="#fff" opacity="0.17"/>
<rect x="1091" y="1089" width="2" height="8" fill="#fff" opacity="0.30"/>
<rect x="1091" y="1097" width="2" height="25" fill="#fff" opacity="0.45"/>
<rect x="1093" y="1089" width="2" height="8" fill="#fff" opacity="0.11"/>
<rect x="1093" y="1097" width="2" height="25" fill="#fff" opacity="0.14"/>
<rect x="1095" y="1089" width="2" height="8" fill="#fff" opacity="0.11"/>
<rect x="1095" y="1097" width="2" height="25" fill="#fff" opacity="0.18"/>
<rect x="1097" y="1089" width="1" height="8" fill="#fff" opacity="0.10"/>
<rect x="1097" y="1097" width="1" height="25" fill="#fff" opacity="0.12"/>
<rect x="1098" y="1089" width="1" height="8" fill="#fff" opacity="0.10"/>
<rect x="1098" y="1097" width="1" height="25" fill="#fff" opacity="0.19"/>
<rect x="1099" y="1089" width="1" height="8" fill="#fff" opacity="0.29"/>
<rect x="1099" y="1097" width="1" height="25" fill="#fff" opacity="0.51"/>
<rect x="1100" y="1089" width="2" height="8" fill="#fff" opacity="0.30"/>
<rect x="1100" y="1097" width="2" height="25" fill="#fff" opacity="0.42"/>
<rect x="1102" y="1089" width="1" height="8" fill="#fff" opacity="0.27"/>
<rect x="1102" y="1097" width="1" height="25" fill="#fff" opacity="0.44"/>
<rect x="1103" y="1089" width="1" height="8" fill="#fff" opacity="0.10"/>
<rect x="1103" y="1097" width="1" height="25" fill="#fff" opacity="0.15"/>
<rect x="1104" y="1089" width="1" height="8" fill="#fff" opacity="0.15"/>
<rect x="1104" y="1097" width="1" height="25" fill="#fff" opacity="0.23"/>
<rect x="1105" y="1089" width="2" height="8" fill="#fff" opacity="0.32"/>
<rect x="1105" y="1097" width="2" height="25" fill="#fff" opacity="0.43"/>
<rect x="1107" y="1089" width="2" height="8" fill="#fff" opacity="0.16"/>
<rect x="1107" y="1097" width="2" height="25" fill="#fff" opacity="0.20"/>
<rect x="1109" y="1089" width="2" height="8" fill="#fff" opacity="0.12"/>
<rect x="1109" y="1097" width="2" height="25" fill="#fff" opacity="0.17"/>
<rect x="1111" y="1089" width="2" height="8" fill="#fff" opacity="0.26"/>
<rect x="1111" y="1097" width="2" height="25" fill="#fff" opacity="0.36"/>
<rect x="1113" y="1089" width="2" height="8" fill="#fff" opacity="0.10"/>
<rect x="1113" y="1097" width="2" height="25" fill="#fff" opacity="0.12"/>
<rect x="1115" y="1089" width="2" height="8" fill="#fff" opacity="0.27"/>
<rect x="1115" y="1097" width="2" height="25" fill="#fff" opacity="0.42"/>
<rect x="1117" y="1089" width="1" height="8" fill="#fff" opacity="0.20"/>
<rect x="1117" y="1097" width="1" height="25" fill="#fff" opacity="0.28"/>
<rect x="1118" y="1089" width="1" height="8" fill="#fff" opacity="0.22"/>
<rect x="1118" y="1097" width="1" height="25" fill="#fff" opacity="0.37"/>
<rect x="1119" y="1089" width="1" height="8" fill="#fff" opacity="0.25"/>
<rect x="1119" y="1097" width="1" height="25" fill="#fff" opacity="0.39"/>
<rect x="1120" y="1089" width="2" height="8" fill="#fff" opacity="0.12"/>
<rect x="1120" y="1097" width="2" height="25" fill="#fff" opacity="0.14"/>
<rect x="1122" y="1089" width="1" height="8" fill="#fff" opacity="0.16"/>
<rect x="1122" y="1097" width="1" height="25" fill="#fff" opacity="0.21"/>
<rect x="1123" y="1089" width="2" height="8" fill="#fff" opacity="0.14"/>
<rect x="1123" y="1097" width="2" height="25" fill="#fff" opacity="0.18"/>
<rect x="1125" y="1089" width="1" height="8" fill="#fff" opacity="0.24"/>
<rect x="1125" y="1097" width="1" height="25" fill="#fff" opacity="0.32"/>
<rect x="1126" y="1089" width="2" height="8" fill="#fff" opacity="0.29"/>
<rect x="1126" y="1097" width="2" height="25" fill="#fff" opacity="0.40"/>
<rect x="1128" y="1089" width="1" height="8" fill="#fff" opacity="0.13"/>
<rect x="1128" y="1097" width="1" height="25" fill="#fff" opacity="0.18"/>
<rect x="1129" y="1089" width="2" height="8" fill="#fff" opacity="0.13"/>
<rect x="1129" y="1097" width="2" height="25" fill="#fff" opacity="0.15"/>
<rect x="1131" y="1089" width="2" height="8" fill="#fff" opacity="0.23"/>
<rect x="1131" y="1097" width="2" height="25" fill="#fff" opacity="0.45"/>
<rect x="1133" y="1089" width="1" height="8" fill="#fff" opacity="0.17"/>
<rect x="1133" y="1097" width="1" height="25" fill="#fff" opacity="0.22"/>
<rect x="1134" y="1089" width="2" height="8" fill="#fff" opacity="0.44"/>
<rect x="1134" y="1097" width="2" height="25" fill="#fff" opacity="0.58"/>
<rect x="1136" y="1089" width="1" height="8" fill="#fff" opacity="0.33"/>
<rect x="1136" y="1097" width="1" height="25" fill="#fff" opacity="0.37"/>
<rect x="1137" y="1089" width="1" height="8" fill="#fff" opacity="0.24"/>
<rect x="1137" y="1097" width="1" height="25" fill="#fff" opacity="0.31"/>
<rect x="1138" y="1089" width="1" height="8" fill="#fff" opacity="0.36"/>
<rect x="1138" y="1097" width="1" height="25" fill="#fff" opacity="0.57"/>
<rect x="1139" y="1089" width="2" height="8" fill="#fff" opacity="0.09"/>
<rect x="1139" y="1097" width="2" height="25" fill="#fff" opacity="0.15"/>
<rect x="1141" y="1089" width="2" height="8" fill="#fff" opacity="0.21"/>
<rect x="1141" y="1097" width="2" height="25" fill="#fff" opacity="0.35"/>
<rect x="1143" y="1089" width="2" height="8" fill="#fff" opacity="0.19"/>
<rect x="1143" y="1097" width="2" height="25" fill="#fff" opacity="0.32"/>
<rect x="1145" y="1089" width="2" height="8" fill="#fff" opacity="0.23"/>
<rect x="1145" y="1097" width="2" height="25" fill="#fff" opacity="0.29"/>
<rect x="1147" y="1089" width="1" height="8" fill="#fff" opacity="0.13"/>
<rect x="1147" y="1097" width="1" height="25" fill="#fff" opacity="0.19"/>
<rect x="1148" y="1089" width="1" height="8" fill="#fff" opacity="0.11"/>
<rect x="1148" y="1097" width="1" height="25" fill="#fff" opacity="0.16"/>
<rect x="1149" y="1089" width="2" height="8" fill="#fff" opacity="0.32"/>
<rect x="1149" y="1097" width="2" height="25" fill="#fff" opacity="0.40"/>
<rect x="1151" y="1089" width="2" height="8" fill="#fff" opacity="0.09"/>
<rect x="1151" y="1097" width="2" height="25" fill="#fff" opacity="0.15"/>
<rect x="1153" y="1089" width="1" height="8" fill="#fff" opacity="0.28"/>
<rect x="1153" y="1097" width="1" height="25" fill="#fff" opacity="0.44"/>
<rect x="1154" y="1089" width="1" height="8" fill="#fff" opacity="0.22"/>
<rect x="1154" y="1097" width="1" height="25" fill="#fff" opacity="0.39"/>
<rect x="1155" y="1089" width="1" height="8" fill="#fff" opacity="0.38"/>
<rect x="1155" y="1097" width="1" height="25" fill="#fff" opacity="0.44"/>
<rect x="1156" y="1089" width="2" height="8" fill="#fff" opacity="0.27"/>
<rect x="1156" y="1097" width="2" height="25" fill="#fff" opacity="0.38"/>
<rect x="1158" y="1089" width="1" height="8" fill="#fff" opacity="0.27"/>
<rect x="1158" y="1097" width="1" height="25" fill="#fff" opacity="0.33"/>
<rect x="1159" y="1089" width="1" height="8" fill="#fff" opacity="0.14"/>
<rect x="1159" y="1097" width="1" height="25" fill="#fff" opacity="0.19"/>
<rect x="1160" y="1089" width="2" height="8" fill="#fff" opacity="0.25"/>
<rect x="1160" y="1097" width="2" height="25" fill="#fff" opacity="0.49"/>
<rect x="1162" y="1089" width="1" height="8" fill="#fff" opacity="0.11"/>
<rect x="1162" y="1097" width="1" height="25" fill="#fff" opacity="0.14"/>
<rect x="1163" y="1089" width="2" height="8" fill="#fff" opacity="0.20"/>
<rect x="1163" y="1097" width="2" height="25" fill="#fff" opacity="0.28"/>
<rect x="1165" y="1089" width="1" height="8" fill="#fff" opacity="0.15"/>
<rect x="1165" y="1097" width="1" height="25" fill="#fff" opacity="0.21"/>
<rect x="1166" y="1089" width="2" height="8" fill="#fff" opacity="0.15"/>
<rect x="1166" y="1097" width="2" height="25" fill="#fff" opacity="0.22"/>
<rect x="1168" y="1089" width="1" height="8" fill="#fff" opacity="0.24"/>
<rect x="1168" y="1097" width="1" height="25" fill="#fff" opacity="0.44"/>
<rect x="1169" y="1089" width="1" height="8" fill="#fff" opacity="0.10"/>
<rect x="1169" y="1097" width="1" height="25" fill="#fff" opacity="0.11"/>
<rect x="1170" y="1089" width="1" height="8" fill="#fff" opacity="0.28"/>
<rect x="1170" y="1097" width="1" height="25" fill="#fff" opacity="0.48"/>
<rect x="1171" y="1089" width="2" height="8" fill="#fff" opacity="0.18"/>
<rect x="1171" y="1097" width="2" height="25" fill="#fff" opacity="0.35"/>
<rect x="1173" y="1089" width="2" height="8" fill="#fff" opacity="0.21"/>
<rect x="1173" y="1097" width="2" height="25" fill="#fff" opacity="0.30"/>
<rect x="1175" y="1089" width="1" height="8" fill="#fff" opacity="0.21"/>
<rect x="1175" y="1097" width="1" height="25" fill="#fff" opacity="0.37"/>
<rect x="1176" y="1089" width="1" height="8" fill="#fff" opacity="0.13"/>
<rect x="1176" y="1097" width="1" height="25" fill="#fff" opacity="0.15"/>
<rect x="1177" y="1089" width="1" height="8" fill="#fff" opacity="0.10"/>
<rect x="1177" y="1097" width="1" height="25" fill="#fff" opacity="0.13"/>
<rect x="1178" y="1089" width="2" height="8" fill="#fff" opacity="0.16"/>
<rect x="1178" y="1097" width="2" height="25" fill="#fff" opacity="0.20"/>
<rect x="1180" y="1089" width="1" height="8" fill="#fff" opacity="0.34"/>
<rect x="1180" y="1097" width="1" height="25" fill="#fff" opacity="0.43"/>
<rect x="1181" y="1089" width="1" height="8" fill="#fff" opacity="0.28"/>
<rect x="1181" y="1097" width="1" height="25" fill="#fff" opacity="0.47"/>
<rect x="1182" y="1089" width="1" height="8" fill="#fff" opacity="0.11"/>
<rect x="1182" y="1097" width="1" height="25" fill="#fff" opacity="0.16"/>
<rect x="1183" y="1089" width="1" height="8" fill="#fff" opacity="0.18"/>
<rect x="1183" y="1097" width="1" height="25" fill="#fff" opacity="0.34"/>
<rect x="1184" y="1089" width="1" height="8" fill="#fff" opacity="0.37"/>
<rect x="1184" y="1097" width="1" height="25" fill="#fff" opacity="0.46"/>
<rect x="1185" y="1089" width="1" height="8" fill="#fff" opacity="0.30"/>
<rect x="1185" y="1097" width="1" height="25" fill="#fff" opacity="0.35"/>
<rect x="1186" y="1089" width="1" height="8" fill="#fff" opacity="0.25"/>
<rect x="1186" y="1097" width="1" height="25" fill="#fff" opacity="0.37"/>
<rect x="1187" y="1089" width="1" height="8" fill="#fff" opacity="0.18"/>
<rect x="1187" y="1097" width="1" height="25" fill="#fff" opacity="0.25"/>
<rect x="1188" y="1089" width="1" height="8" fill="#fff" opacity="0.08"/>
<rect x="1188" y="1097" width="1" height="25" fill="#fff" opacity="0.11"/>
<rect x="1189" y="1089" width="2" height="8" fill="#fff" opacity="0.17"/>
<rect x="1189" y="1097" width="2" height="25" fill="#fff" opacity="0.17"/>
<rect x="1191" y="1089" width="2" height="8" fill="#fff" opacity="0.16"/>
<rect x="1191" y="1097" width="2" height="25" fill="#fff" opacity="0.22"/>
<rect x="1193" y="1089" width="2" height="8" fill="#fff" opacity="0.16"/>
<rect x="1193" y="1097" width="2" height="25" fill="#fff" opacity="0.25"/>
<rect x="1195" y="1089" width="1" height="8" fill="#fff" opacity="0.07"/>
<rect x="1195" y="1097" width="1" height="25" fill="#fff" opacity="0.09"/>
<rect x="1196" y="1089" width="2" height="8" fill="#fff" opacity="0.13"/>
<rect x="1196" y="1097" width="2" height="25" fill="#fff" opacity="0.26"/>
<rect x="1198" y="1089" width="2" height="8" fill="#fff" opacity="0.07"/>
<rect x="1198" y="1097" width="2" height="25" fill="#fff" opacity="0.09"/>
<rect x="1200" y="1089" width="1" height="8" fill="#fff" opacity="0.13"/>
<rect x="1200" y="1097" width="1" height="25" fill="#fff" opacity="0.21"/>
<rect x="1201" y="1089" width="2" height="8" fill="#fff" opacity="0.09"/>
<rect x="1201" y="1097" width="2" height="25" fill="#fff" opacity="0.11"/>
<rect x="1203" y="1089" width="2" height="8" fill="#fff" opacity="0.24"/>
<rect x="1203" y="1097" width="2" height="25" fill="#fff" opacity="0.25"/>
<rect x="1205" y="1089" width="2" height="8" fill="#fff" opacity="0.20"/>
<rect x="1205" y="1097" width="2" height="25" fill="#fff" opacity="0.29"/>
<rect x="1207" y="1089" width="1" height="8" fill="#fff" opacity="0.07"/>
<rect x="1207" y="1097" width="1" height="25" fill="#fff" opacity="0.13"/>
<rect x="1208" y="1089" width="2" height="8" fill="#fff" opacity="0.13"/>
<rect x="1208" y="1097" width="2" height="25" fill="#fff" opacity="0.22"/>
<rect x="1210" y="1089" width="2" height="8" fill="#fff" opacity="0.15"/>
<rect x="1210" y="1097" width="2" height="25" fill="#fff" opacity="0.23"/>
<rect x="1212" y="1089" width="1" height="8" fill="#fff" opacity="0.17"/>
<rect x="1212" y="1097" width="1" height="25" fill="#fff" opacity="0.24"/>
<rect x="1213" y="1089" width="2" height="8" fill="#fff" opacity="0.17"/>
<rect x="1213" y="1097" width="2" height="25" fill="#fff" opacity="0.28"/>
<rect x="1215" y="1089" width="1" height="8" fill="#fff" opacity="0.13"/>
<rect x="1215" y="1097" width="1" height="25" fill="#fff" opacity="0.20"/>
<rect x="1216" y="1089" width="1" height="8" fill="#fff" opacity="0.07"/>
<rect x="1216" y="1097" width="1" height="25" fill="#fff" opacity="0.11"/>
<rect x="1217" y="1089" width="2" height="8" fill="#fff" opacity="0.09"/>
<rect x="1217" y="1097" width="2" height="25" fill="#fff" opacity="0.10"/>
<rect x="1219" y="1089" width="2" height="8" fill="#fff" opacity="0.06"/>
<rect x="1219" y="1097" width="2" height="25" fill="#fff" opacity="0.08"/>
<rect x="1221" y="1089" width="1" height="8" fill="#fff" opacity="0.16"/>
<rect x="1221" y="1097" width="1" height="25" fill="#fff" opacity="0.25"/>
<rect x="1222" y="1089" width="2" height="8" fill="#fff" opacity="0.22"/>
<rect x="1222" y="1097" width="2" height="25" fill="#fff" opacity="0.30"/>
<rect x="1224" y="1089" width="2" height="8" fill="#fff" opacity="0.05"/>
<rect x="1224" y="1097" width="2" height="25" fill="#fff" opacity="0.10"/>
<rect x="1226" y="1089" width="2" height="8" fill="#fff" opacity="0.19"/>
<rect x="1226" y="1097" width="2" height="25" fill="#fff" opacity="0.25"/>
<rect x="1228" y="1089" width="2" height="8" fill="#fff" opacity="0.07"/>
<rect x="1228" y="1097" width="2" height="25" fill="#fff" opacity="0.12"/>
<rect x="1230" y="1089" width="2" height="8" fill="#fff" opacity="0.10"/>
<rect x="1230" y="1097" width="2" height="25" fill="#fff" opacity="0.13"/>
<rect x="1232" y="1089" width="2" height="8" fill="#fff" opacity="0.08"/>
<rect x="1232" y="1097" width="2" height="25" fill="#fff" opacity="0.14"/>
<rect x="1234" y="1089" width="2" height="8" fill="#fff" opacity="0.06"/>
<rect x="1234" y="1097" width="2" height="25" fill="#fff" opacity="0.08"/>
<rect x="1236" y="1089" width="1" height="8" fill="#fff" opacity="0.05"/>
<rect x="1236" y="1097" width="1" height="25" fill="#fff" opacity="0.07"/>
<rect x="1237" y="1089" width="1" height="8" fill="#fff" opacity="0.26"/>
<rect x="1237" y="1097" width="1" height="25" fill="#fff" opacity="0.35"/>
<rect x="1238" y="1089" width="2" height="8" fill="#fff" opacity="0.22"/>
<rect x="1238" y="1097" width="2" height="25" fill="#fff" opacity="0.33"/>
<rect x="1240" y="1089" width="2" height="8" fill="#fff" opacity="0.05"/>
<rect x="1240" y="1097" width="2" height="25" fill="#fff" opacity="0.08"/>
<rect x="1242" y="1089" width="1" height="8" fill="#fff" opacity="0.20"/>
<rect x="1242" y="1097" width="1" height="25" fill="#fff" opacity="0.24"/>
<rect x="1243" y="1089" width="2" height="8" fill="#fff" opacity="0.05"/>
<rect x="1243" y="1097" width="2" height="25" fill="#fff" opacity="0.10"/>
<rect x="1245" y="1089" width="2" height="8" fill="#fff" opacity="0.09"/>
<rect x="1245" y="1097" width="2" height="25" fill="#fff" opacity="0.11"/>
<rect x="1247" y="1089" width="2" height="8" fill="#fff" opacity="0.09"/>
<rect x="1247" y="1097" width="2" height="25" fill="#fff" opacity="0.11"/>
<rect x="1249" y="1089" width="1" height="8" fill="#fff" opacity="0.27"/>
<rect x="1249" y="1097" width="1" height="25" fill="#fff" opacity="0.36"/>
<rect x="1250" y="1089" width="1" height="8" fill="#fff" opacity="0.07"/>
<rect x="1250" y="1097" width="1" height="25" fill="#fff" opacity="0.10"/>
<rect x="1251" y="1089" width="1" height="8" fill="#fff" opacity="0.08"/>
<rect x="1251" y="1097" width="1" height="25" fill="#fff" opacity="0.10"/>
<rect x="1252" y="1089" width="1" height="8" fill="#fff" opacity="0.20"/>
<rect x="1252" y="1097" width="1" height="25" fill="#fff" opacity="0.31"/>
<rect x="1253" y="1089" width="1" height="8" fill="#fff" opacity="0.27"/>
<rect x="1253" y="1097" width="1" height="25" fill="#fff" opacity="0.37"/>
<rect x="1254" y="1089" width="2" height="8" fill="#fff" opacity="0.13"/>
<rect x="1254" y="1097" width="2" height="25" fill="#fff" opacity="0.19"/>
<rect x="1256" y="1089" width="2" height="8" fill="#fff" opacity="0.23"/>
<rect x="1256" y="1097" width="2" height="25" fill="#fff" opacity="0.37"/>
<rect x="1258" y="1089" width="1" height="8" fill="#fff" opacity="0.07"/>
<rect x="1258" y="1097" width="1" height="25" fill="#fff" opacity="0.11"/>
<rect x="1259" y="1089" width="2" height="8" fill="#fff" opacity="0.20"/>
<rect x="1259" y="1097" width="2" height="25" fill="#fff" opacity="0.29"/>
<rect x="1261" y="1089" width="1" height="8" fill="#fff" opacity="0.10"/>
<rect x="1261" y="1097" width="1" height="25" fill="#fff" opacity="0.12"/>
<rect x="1262" y="1089" width="1" height="8" fill="#fff" opacity="0.05"/>
<rect x="1262" y="1097" width="1" height="25" fill="#fff" opacity="0.07"/>
<rect x="1263" y="1089" width="1" height="8" fill="#fff" opacity="0.07"/>
<rect x="1263" y="1097" width="1" height="25" fill="#fff" opacity="0.13"/>
<rect x="1264" y="1089" width="1" height="8" fill="#fff" opacity="0.07"/>
<rect x="1264" y="1097" width="1" height="25" fill="#fff" opacity="0.08"/>
<rect x="1265" y="1089" width="1" height="8" fill="#fff" opacity="0.14"/>
<rect x="1265" y="1097" width="1" height="25" fill="#fff" opacity="0.25"/>
<rect x="1266" y="1089" width="1" height="8" fill="#fff" opacity="0.07"/>
<rect x="1266" y="1097" width="1" height="25" fill="#fff" opacity="0.09"/>
<rect x="1267" y="1089" width="2" height="8" fill="#fff" opacity="0.12"/>
<rect x="1267" y="1097" width="2" height="25" fill="#fff" opacity="0.18"/>
<rect x="1269" y="1089" width="1" height="8" fill="#fff" opacity="0.20"/>
<rect x="1269" y="1097" width="1" height="25" fill="#fff" opacity="0.27"/>
<rect x="1270" y="1089" width="1" height="8" fill="#fff" opacity="0.08"/>
<rect x="1270" y="1097" width="1" height="25" fill="#fff" opacity="0.13"/>
<rect x="1271" y="1089" width="1" height="8" fill="#fff" opacity="0.07"/>
<rect x="1271" y="1097" width="1" height="25" fill="#fff" opacity="0.12"/>
<rect x="1272" y="1089" width="1" height="8" fill="#fff" opacity="0.20"/>
<rect x="1272" y="1097" width="1" height="25" fill="#fff" opacity="0.21"/>
<rect x="1273" y="1089" width="1" height="8" fill="#fff" opacity="0.22"/>
<rect x="1273" y="1097" width="1" height="25" fill="#fff" opacity="0.37"/>
<rect x="1274" y="1089" width="1" height="8" fill="#fff" opacity="0.19"/>
<rect x="1274" y="1097" width="1" height="25" fill="#fff" opacity="0.35"/>
<rect x="1275" y="1089" width="2" height="8" fill="#fff" opacity="0.22"/>
<rect x="1275" y="1097" width="2" height="25" fill="#fff" opacity="0.29"/>
<rect x="1277" y="1089" width="1" height="8" fill="#fff" opacity="0.13"/>
<rect x="1277" y="1097" width="1" height="25" fill="#fff" opacity="0.17"/>
<rect x="1278" y="1089" width="1" height="8" fill="#fff" opacity="0.06"/>
<rect x="1278" y="1097" width="1" height="25" fill="#fff" opacity="0.08"/>
<rect x="1279" y="1089" width="2" height="8" fill="#fff" opacity="0.24"/>
<rect x="1279" y="1097" width="2" height="25" fill="#fff" opacity="0.34"/>
<rect x="1281" y="1089" width="1" height="8" fill="#fff" opacity="0.30"/>
<rect x="1281" y="1097" width="1" height="25" fill="#fff" opacity="0.47"/>
<rect x="1282" y="1089" width="2" height="8" fill="#fff" opacity="0.14"/>
<rect x="1282" y="1097" width="2" height="25" fill="#fff" opacity="0.21"/>
<rect x="1284" y="1089" width="2" height="8" fill="#fff" opacity="0.37"/>
<rect x="1284" y="1097" width="2" height="25" fill="#fff" opacity="0.37"/>
<rect x="1286" y="1089" width="2" height="8" fill="#fff" opacity="0.24"/>
<rect x="1286" y="1097" width="2" height="25" fill="#fff" opacity="0.42"/>
<rect x="1288" y="1089" width="1" height="8" fill="#fff" opacity="0.12"/>
<rect x="1288" y="1097" width="1" height="25" fill="#fff" opacity="0.19"/>
<rect x="1289" y="1089" width="1" height="8" fill="#fff" opacity="0.09"/>
<rect x="1289" y="1097" width="1" height="25" fill="#fff" opacity="0.14"/>
<rect x="1290" y="1089" width="2" height="8" fill="#fff" opacity="0.13"/>
<rect x="1290" y="1097" width="2" height="25" fill="#fff" opacity="0.20"/>
<rect x="1292" y="1089" width="2" height="8" fill="#fff" opacity="0.35"/>
<rect x="1292" y="1097" width="2" height="25" fill="#fff" opacity="0.48"/>
<rect x="1294" y="1089" width="2" height="8" fill="#fff" opacity="0.22"/>
<rect x="1294" y="1097" width="2" height="25" fill="#fff" opacity="0.24"/>
<rect x="1296" y="1089" width="1" height="8" fill="#fff" opacity="0.36"/>
<rect x="1296" y="1097" width="1" height="25" fill="#fff" opacity="0.43"/>
<rect x="1297" y="1089" width="2" height="8" fill="#fff" opacity="0.16"/>
<rect x="1297" y="1097" width="2" height="25" fill="#fff" opacity="0.28"/>
<rect x="1299" y="1089" width="1" height="8" fill="#fff" opacity="0.38"/>
<rect x="1299" y="1097" width="1" height="25" fill="#fff" opacity="0.52"/>
<rect x="1300" y="1089" width="1" height="8" fill="#fff" opacity="0.34"/>
<rect x="1300" y="1097" width="1" height="25" fill="#fff" opacity="0.46"/>
<rect x="1301" y="1089" width="1" height="8" fill="#fff" opacity="0.45"/>
<rect x="1301" y="1097" width="1" height="25" fill="#fff" opacity="0.50"/>
<rect x="1302" y="1089" width="1" height="8" fill="#fff" opacity="0.20"/>
<rect x="1302" y="1097" width="1" height="25" fill="#fff" opacity="0.27"/>
<rect x="1303" y="1089" width="1" height="8" fill="#fff" opacity="0.39"/>
<rect x="1303" y="1097" width="1" height="25" fill="#fff" opacity="0.61"/>
<rect x="1304" y="1089" width="1" height="8" fill="#fff" opacity="0.33"/>
<rect x="1304" y="1097" width="1" height="25" fill="#fff" opacity="0.45"/>
<rect x="1305" y="1089" width="1" height="8" fill="#fff" opacity="0.21"/>
<rect x="1305" y="1097" width="1" height="25" fill="#fff" opacity="0.29"/>
<rect x="1306" y="1089" width="2" height="8" fill="#fff" opacity="0.48"/>
<rect x="1306" y="1097" width="2" height="25" fill="#fff" opacity="0.55"/>
<rect x="1308" y="1089" width="2" height="8" fill="#fff" opacity="0.10"/>
<rect x="1308" y="1097" width="2" height="25" fill="#fff" opacity="0.18"/>
<rect x="1310" y="1089" width="1" height="8" fill="#fff" opacity="0.48"/>
<rect x="1310" y="1097" width="1" height="25" fill="#fff" opacity="0.60"/>
<rect x="1311" y="1089" width="1" height="8" fill="#fff" opacity="0.33"/>
<rect x="1311" y="1097" width="1" height="25" fill="#fff" opacity="0.39"/>
<rect x="1312" y="1089" width="1" height="8" fill="#fff" opacity="0.46"/>
<rect x="1312" y="1097" width="1" height="25" fill="#fff" opacity="0.55"/>
<rect x="1313" y="1089" width="2" height="8" fill="#fff" opacity="0.20"/>
<rect x="1313" y="1097" width="2" height="25" fill="#fff" opacity="0.29"/>
<rect x="1315" y="1089" width="2" height="8" fill="#fff" opacity="0.39"/>
<rect x="1315" y="1097" width="2" height="25" fill="#fff" opacity="0.56"/>
<rect x="1317" y="1089" width="1" height="8" fill="#fff" opacity="0.19"/>
<rect x="1317" y="1097" width="1" height="25" fill="#fff" opacity="0.27"/>
<rect x="1318" y="1089" width="2" height="8" fill="#fff" opacity="0.29"/>
<rect x="1318" y="1097" width="2" height="25" fill="#fff" opacity="0.50"/>
<rect x="1320" y="1089" width="2" height="8" fill="#fff" opacity="0.40"/>
<rect x="1320" y="1097" width="2" height="25" fill="#fff" opacity="0.45"/>
<rect x="1322" y="1089" width="2" height="8" fill="#fff" opacity="0.45"/>
<rect x="1322" y="1097" width="2" height="25" fill="#fff" opacity="0.62"/>
<rect x="1324" y="1089" width="1" height="8" fill="#fff" opacity="0.27"/>
<rect x="1324" y="1097" width="1" height="25" fill="#fff" opacity="0.38"/>
<rect x="1325" y="1089" width="2" height="8" fill="#fff" opacity="0.11"/>
<rect x="1325" y="1097" width="2" height="25" fill="#fff" opacity="0.17"/>
<rect x="1327" y="1089" width="1" height="8" fill="#fff" opacity="0.16"/>
<rect x="1327" y="1097" width="1" height="25" fill="#fff" opacity="0.20"/>
<rect x="1328" y="1089" width="1" height="8" fill="#fff" opacity="0.38"/>
<rect x="1328" y="1097" width="1" height="25" fill="#fff" opacity="0.40"/>
<rect x="1329" y="1089" width="1" height="8" fill="#fff" opacity="0.42"/>
<rect x="1329" y="1097" width="1" height="25" fill="#fff" opacity="0.62"/>
<rect x="1330" y="1089" width="2" height="8" fill="#fff" opacity="0.13"/>
<rect x="1330" y="1097" width="2" height="25" fill="#fff" opacity="0.16"/>
<rect x="1332" y="1089" width="2" height="8" fill="#fff" opacity="0.07"/>
<rect x="1332" y="1097" width="2" height="25" fill="#fff" opacity="0.11"/>
<rect x="1334" y="1089" width="2" height="8" fill="#fff" opacity="0.08"/>
<rect x="1334" y="1097" width="2" height="25" fill="#fff" opacity="0.11"/>
<rect x="1336" y="1089" width="1" height="8" fill="#fff" opacity="0.07"/>
<rect x="1336" y="1097" width="1" height="25" fill="#fff" opacity="0.08"/>
<rect x="1337" y="1089" width="1" height="8" fill="#fff" opacity="0.06"/>
<rect x="1337" y="1097" width="1" height="25" fill="#fff" opacity="0.10"/>
<rect x="1338" y="1089" width="2" height="8" fill="#fff" opacity="0.16"/>
<rect x="1338" y="1097" width="2" height="25" fill="#fff" opacity="0.23"/>
<rect x="1340" y="1089" width="1" height="8" fill="#fff" opacity="0.12"/>
<rect x="1340" y="1097" width="1" height="25" fill="#fff" opacity="0.15"/>
<rect x="1341" y="1089" width="1" height="8" fill="#fff" opacity="0.07"/>
<rect x="1341" y="1097" width="1" height="25" fill="#fff" opacity="0.10"/>
<rect x="1342" y="1089" width="1" height="8" fill="#fff" opacity="0.12"/>
<rect x="1342" y="1097" width="1" height="25" fill="#fff" opacity="0.19"/>
<rect x="1343" y="1089" width="1" height="8" fill="#fff" opacity="0.15"/>
<rect x="1343" y="1097" width="1" height="25" fill="#fff" opacity="0.25"/>
<rect x="1344" y="1089" width="1" height="8" fill="#fff" opacity="0.17"/>
<rect x="1344" y="1097" width="1" height="25" fill="#fff" opacity="0.25"/>
<rect x="1345" y="1089" width="1" height="8" fill="#fff" opacity="0.06"/>
<rect x="1345" y="1097" width="1" height="25" fill="#fff" opacity="0.10"/>
<rect x="1346" y="1089" width="1" height="8" fill="#fff" opacity="0.18"/>
<rect x="1346" y="1097" width="1" height="25" fill="#fff" opacity="0.31"/>
<rect x="1347" y="1089" width="2" height="8" fill="#fff" opacity="0.16"/>
<rect x="1347" y="1097" width="2" height="25" fill="#fff" opacity="0.20"/>
<rect x="1349" y="1089" width="2" height="8" fill="#fff" opacity="0.16"/>
<rect x="1349" y="1097" width="2" height="25" fill="#fff" opacity="0.25"/>
<rect x="1351" y="1089" width="1" height="8" fill="#fff" opacity="0.15"/>
<rect x="1351" y="1097" width="1" height="25" fill="#fff" opacity="0.24"/>
<rect x="1352" y="1089" width="1" height="8" fill="#fff" opacity="0.18"/>
<rect x="1352" y="1097" width="1" height="25" fill="#fff" opacity="0.23"/>
<rect x="1353" y="1089" width="1" height="8" fill="#fff" opacity="0.10"/>
<rect x="1353" y="1097" width="1" height="25" fill="#fff" opacity="0.18"/>
<rect x="1354" y="1089" width="2" height="8" fill="#fff" opacity="0.15"/>
<rect x="1354" y="1097" width="2" height="25" fill="#fff" opacity="0.22"/>
<rect x="1356" y="1089" width="2" height="8" fill="#fff" opacity="0.13"/>
<rect x="1356" y="1097" width="2" height="25" fill="#fff" opacity="0.18"/>
<rect x="1358" y="1089" width="2" height="8" fill="#fff" opacity="0.07"/>
<rect x="1358" y="1097" width="2" height="25" fill="#fff" opacity="0.11"/>
<rect x="1360" y="1089" width="1" height="8" fill="#fff" opacity="0.13"/>
<rect x="1360" y="1097" width="1" height="25" fill="#fff" opacity="0.22"/>
<rect x="1361" y="1089" width="2" height="8" fill="#fff" opacity="0.12"/>
<rect x="1361" y="1097" width="2" height="25" fill="#fff" opacity="0.16"/>
<rect x="1363" y="1089" width="2" height="8" fill="#fff" opacity="0.15"/>
<rect x="1363" y="1097" width="2" height="25" fill="#fff" opacity="0.24"/>
<rect x="1365" y="1089" width="1" height="8" fill="#fff" opacity="0.11"/>
<rect x="1365" y="1097" width="1" height="25" fill="#fff" opacity="0.16"/>
<rect x="1366" y="1089" width="2" height="8" fill="#fff" opacity="0.05"/>
<rect x="1366" y="1097" width="2" height="25" fill="#fff" opacity="0.06"/>
<rect x="1368" y="1089" width="1" height="8" fill="#fff" opacity="0.13"/>
<rect x="1368" y="1097" width="1" height="25" fill="#fff" opacity="0.18"/>
<rect x="1369" y="1089" width="1" height="8" fill="#fff" opacity="0.05"/>
<rect x="1369" y="1097" width="1" height="25" fill="#fff" opacity="0.06"/>
<rect x="1370" y="1089" width="1" height="8" fill="#fff" opacity="0.17"/>
<rect x="1370" y="1097" width="1" height="25" fill="#fff" opacity="0.24"/>
<rect x="1371" y="1089" width="1" height="8" fill="#fff" opacity="0.18"/>
<rect x="1371" y="1097" width="1" height="25" fill="#fff" opacity="0.20"/>
<rect x="1372" y="1089" width="1" height="8" fill="#fff" opacity="0.05"/>
<rect x="1372" y="1097" width="1" height="25" fill="#fff" opacity="0.08"/>
<rect x="1373" y="1089" width="2" height="8" fill="#fff" opacity="0.03"/>
<rect x="1373" y="1097" width="2" height="25" fill="#fff" opacity="0.06"/>
<rect x="1375" y="1089" width="1" height="8" fill="#fff" opacity="0.08"/>
<rect x="1375" y="1097" width="1" height="25" fill="#fff" opacity="0.11"/>
<rect x="1376" y="1089" width="1" height="8" fill="#fff" opacity="0.03"/>
<rect x="1376" y="1097" width="1" height="25" fill="#fff" opacity="0.04"/>
<rect x="1377" y="1089" width="1" height="8" fill="#fff" opacity="0.01"/>
<rect x="1377" y="1097" width="1" height="25" fill="#fff" opacity="0.03"/>
<rect x="1378" y="1089" width="1" height="8" fill="#fff" opacity="0.04"/>
<rect x="1378" y="1097" width="1" height="25" fill="#fff" opacity="0.07"/>
<rect x="1379" y="1089" width="1" height="8" fill="#fff" opacity="0.05"/>
<rect x="1379" y="1097" width="1" height="25" fill="#fff" opacity="0.07"/>
<rect x="1380" y="1089" width="1" height="8" fill="#fff" opacity="0.05"/>
<rect x="1380" y="1097" width="1" height="25" fill="#fff" opacity="0.06"/>
<rect x="1381" y="1089" width="1" height="8" fill="#fff" opacity="0.04"/>
<rect x="1381" y="1097" width="1" height="25" fill="#fff" opacity="0.06"/>
<rect x="1382" y="1089" width="1" height="8" fill="#fff" opacity="0.02"/>
<rect x="1382" y="1097" width="1" height="25" fill="#fff" opacity="0.03"/>
<rect x="1383" y="1089" width="1" height="8" fill="#fff" opacity="0.03"/>
<rect x="1383" y="1097" width="1" height="25" fill="#fff" opacity="0.03"/>
<rect x="1384" y="1089" width="2" height="8" fill="#fff" opacity="0.06"/>
<rect x="1384" y="1097" width="2" height="25" fill="#fff" opacity="0.08"/>
<rect x="1386" y="1089" width="1" height="8" fill="#fff" opacity="0.02"/>
<rect x="1386" y="1097" width="1" height="25" fill="#fff" opacity="0.03"/>
<rect x="1387" y="1089" width="2" height="8" fill="#fff" opacity="0.04"/>
<rect x="1387" y="1097" width="2" height="25" fill="#fff" opacity="0.05"/>
<rect x="1389" y="1089" width="2" height="8" fill="#fff" opacity="0.05"/>
<rect x="1389" y="1097" width="2" height="25" fill="#fff" opacity="0.07"/>
<rect x="1391" y="1089" width="2" height="8" fill="#fff" opacity="0.06"/>
<rect x="1391" y="1097" width="2" height="25" fill="#fff" opacity="0.09"/>
<rect x="1393" y="1089" width="2" height="8" fill="#fff" opacity="0.05"/>
<rect x="1393" y="1097" width="2" height="25" fill="#fff" opacity="0.09"/>
<rect x="1395" y="1089" width="2" height="8" fill="#fff" opacity="0.06"/>
<rect x="1395" y="1097" width="2" height="25" fill="#fff" opacity="0.08"/>
<rect x="1397" y="1089" width="2" height="8" fill="#fff" opacity="0.02"/>
<rect x="1397" y="1097" width="2" height="25" fill="#fff" opacity="0.04"/>
<rect x="1399" y="1089" width="2" height="8" fill="#fff" opacity="0.02"/>
<rect x="1399" y="1097" width="2" height="25" fill="#fff" opacity="0.03"/>
<rect x="1401" y="1089" width="2" height="8" fill="#fff" opacity="0.05"/>
<rect x="1401" y="1097" width="2" height="25" fill="#fff" opacity="0.06"/>
<rect x="1403" y="1089" width="1" height="8" fill="#fff" opacity="0.06"/>
<rect x="1403" y="1097" width="1" height="25" fill="#fff" opacity="0.08"/>
<rect x="1404" y="1089" width="1" height="8" fill="#fff" opacity="0.03"/>
<rect x="1404" y="1097" width="1" height="25" fill="#fff" opacity="0.06"/>
<rect x="1405" y="1089" width="1" height="8" fill="#fff" opacity="0.14"/>
<rect x="1405" y="1097" width="1" height="25" fill="#fff" opacity="0.18"/>
<rect x="1406" y="1089" width="2" height="8" fill="#fff" opacity="0.15"/>
<rect x="1406" y="1097" width="2" height="25" fill="#fff" opacity="0.30"/>
<rect x="1408" y="1089" width="1" height="8" fill="#fff" opacity="0.05"/>
<rect x="1408" y="1097" width="1" height="25" fill="#fff" opacity="0.08"/>
<rect x="1409" y="1089" width="1" height="8" fill="#fff" opacity="0.08"/>
<rect x="1409" y="1097" width="1" height="25" fill="#fff" opacity="0.11"/>
<rect x="1410" y="1089" width="2" height="8" fill="#fff" opacity="0.08"/>
<rect x="1410" y="1097" width="2" height="25" fill="#fff" opacity="0.09"/>
<rect x="1412" y="1089" width="2" height="8" fill="#fff" opacity="0.06"/>
<rect x="1412" y="1097" width="2" height="25" fill="#fff" opacity="0.08"/>
<rect x="1414" y="1089" width="2" height="8" fill="#fff" opacity="0.10"/>
<rect x="1414" y="1097" width="2" height="25" fill="#fff" opacity="0.16"/>
<rect x="1416" y="1089" width="2" height="8" fill="#fff" opacity="0.21"/>
<rect x="1416" y="1097" width="2" height="25" fill="#fff" opacity="0.28"/>
<rect x="1418" y="1089" width="2" height="8" fill="#fff" opacity="0.11"/>
<rect x="1418" y="1097" width="2" height="25" fill="#fff" opacity="0.16"/>
<rect x="1420" y="1089" width="1" height="8" fill="#fff" opacity="0.07"/>
<rect x="1420" y="1097" width="1" height="25" fill="#fff" opacity="0.10"/>
<rect x="1421" y="1089" width="2" height="8" fill="#fff" opacity="0.12"/>
<rect x="1421" y="1097" width="2" height="25" fill="#fff" opacity="0.19"/>
</g>
<rect x="731" y="1121" width="134" height="1" fill="#fff"/>
<g shape-rendering="crispEdges"><rect x="260" y="969" width="1" height="154" fill="#000"/><rect x="1810" y="969" width="1" height="154" fill="#000"/><rect x="260" y="969" width="1551" height="1" fill="#000"/><rect x="260" y="1122" width="1551" height="1" fill="#000"/></g>
<text x="204" y="1004.4" font-size="28.5" text-anchor="start" fill="#000" font-weight="normal">10</text>
<text x="235" y="986.4" font-size="18" text-anchor="start" fill="#000" font-weight="normal">-1</text>
<text x="204" y="1055.3" font-size="28.5" text-anchor="start" fill="#000" font-weight="normal">10</text>
<text x="235" y="1037.3" font-size="18" text-anchor="start" fill="#000" font-weight="normal">0</text>
<text x="204" y="1106.2" font-size="28.5" text-anchor="start" fill="#000" font-weight="normal">10</text>
<text x="235" y="1088.2" font-size="18" text-anchor="start" fill="#000" font-weight="normal">1</text>
<text transform="translate(184.9 1046.8) rotate(-90)" font-size="28.5" text-anchor="middle" fill="#000">Wavelength (km)</text>
<g shape-rendering="crispEdges"><line x1="265" y1="1179.5" x2="1809" y2="1179.5" stroke="#000" stroke-width="1" stroke-dasharray="1 4"/><line x1="265" y1="1244.5" x2="1809" y2="1244.5" stroke="#000" stroke-width="1" stroke-dasharray="1 4"/><line x1="265" y1="1309.5" x2="1809" y2="1309.5" stroke="#000" stroke-width="1" stroke-dasharray="1 4"/><line x1="440.5" y1="1137" x2="440.5" y2="1354" stroke="#000" stroke-width="1" stroke-dasharray="1 4"/><line x1="620.5" y1="1137" x2="620.5" y2="1354" stroke="#000" stroke-width="1" stroke-dasharray="1 4"/><line x1="800.5" y1="1137" x2="800.5" y2="1354" stroke="#000" stroke-width="1" stroke-dasharray="1 4"/><line x1="980.5" y1="1137" x2="980.5" y2="1354" stroke="#000" stroke-width="1" stroke-dasharray="1 4"/><line x1="1161.5" y1="1137" x2="1161.5" y2="1354" stroke="#000" stroke-width="1" stroke-dasharray="1 4"/><line x1="1343.5" y1="1137" x2="1343.5" y2="1354" stroke="#000" stroke-width="1" stroke-dasharray="1 4"/><line x1="1524.5" y1="1137" x2="1524.5" y2="1354" stroke="#000" stroke-width="1" stroke-dasharray="1 4"/><line x1="1809.5" y1="1137" x2="1809.5" y2="1354" stroke="#000" stroke-width="1" stroke-dasharray="1 4"/></g>
<g fill="none" stroke="#000" stroke-width="2" stroke-linejoin="round" stroke-linecap="round"><path d="M260.4 1218.6 L270.2 1222 L277 1228.8 L279.6 1235.5 L282.4 1238.2 L280.3 1242.3 L277 1244.3 L283 1245.5 L290.5 1246.3 L298.6 1249 L305.3 1253.1 L314.8 1255.8 L324.3 1256.5 L333.8 1264 L341.9 1266 L346.6 1270.7 L347.3 1277.5 L344.6 1285.6 L336.5 1292.3 L329 1301.8 L327.7 1310 L328.3 1319.4 L326.3 1328.9 L321.6 1338.3 L317.5 1343.7 L306.7 1346.4 L298.6 1349.8 L293.2 1355.2"/><path d="M275 1245 L278 1249 L277 1252"/><path d="M287 1246.5 L288 1251"/><path d="M432.5 1133.8 L427.1 1140.8 L423.7 1147.6 L424.4 1153 L427.1 1159.8 L426.4 1169.2 L424.4 1174.6 L421.7 1180.7 L423.7 1184.8 L424.4 1190.2 L429.1 1193.6 L433.9 1197.6 L437.9 1203 L440 1211.2 L447.4 1215.2 L455.5 1222 L463.6 1226.3 L471.7 1223.3 L479.9 1221.3 L488 1223.3 L498.8 1218.6 L509.6 1215.9 L515.4 1216.6 L520.1 1223.3 L523.5 1226 L532.3 1225.4 L538.4 1230.8 L537.1 1240.9 L535.7 1249 L537.1 1253.1 L545.2 1262.6 L549.2 1268 L553.3 1278.8 L556 1291 L554.6 1297.7 L550.6 1301.8 L548.6 1311.3 L547.2 1320.7 L550.6 1330.2 L556 1341 L558.7 1346.4 L560.1 1355.2"/><path d="M533 1228 L535 1231"/><path d="M553.5 1183.5 L556.5 1185.5 L559 1187.5 L557 1188.5 L554 1186 Z"/><path d="M648 1133.8 L650.7 1140.8 L657.5 1151.6 L657.5 1158.4 L665.6 1167.9 L668.3 1174.6 L676.4 1182.8 L683.2 1189.5 L683.2 1194.9 L688.6 1199 L696.7 1197 L706.2 1194.3 L714.3 1192.2 L717 1194.3 L715 1203.1 L711.6 1209.8 L708.9 1216.6 L703.5 1224.7 L695.3 1232.8 L685.9 1239.6 L679.1 1246.3 L671 1254.5 L666.9 1262.6 L664.2 1269.3 L666.9 1273.4 L667.6 1282.9 L671 1289.6 L671.7 1299.1 L672.3 1308.6 L669.6 1314 L660.2 1319.4 L653.4 1326.2 L646.6 1332.9 L648 1341 L649.3 1355.2"/><path d="M656.8 1133.8 L662.9 1139.5 L664.9 1147.6 L669.6 1154.4 L673.7 1159.8 L679.1 1169.2 L681.1 1174.6 L683.2 1186.8 L685.9 1189.5 L694 1186.1 L706.2 1181.4 L714.3 1179.4 L719.5 1176.8 L724.7 1172.3 L732.5 1170.3 L736.4 1167.1 L741.6 1163.8 L745.5 1159.9 L747.5 1154.7 L752 1149.5 L754 1145 L749.4 1139.8 L742.3 1137.2 L739 1133.6"/><path d="M717.6 1133.6 L719 1137.5 L722 1138.5 L728 1138 L731.2 1135.5 L731 1133.6"/><path d="M725 1189.5 L728 1188.5 L731 1189.5 L728 1190.5 Z"/><path d="M633 1243.5 L638 1242.3 L643.5 1243 L644.6 1247 L642 1252 L638 1255.8 L632.8 1255.5 L632.4 1249 Z"/><path d="M621.6 1258.5 L623 1265 L627 1274 L630.4 1282.2" stroke-width="3"/><path d="M643.3 1285.6 L645 1294 L647.5 1302 L648.7 1306.5" stroke-width="3.2"/><path d="M708.2 1297.1 L712.9 1304.5 L713.6 1312.6 L710.2 1322.1 L706.2 1334.3 L702.1 1346.4 L700.1 1355.2"/><path d="M684.5 1355.2 L683.2 1343.7 L686.5 1332.9 L685.9 1319.4 L691.3 1314 L699.4 1308.6 L702.1 1303.2 L704.8 1299.1 L708.2 1297.1"/><path d="M734.5 1337 L736 1336"/><path d="M743.5 1333 L745 1332"/><path d="M784.5 1133.6 L789.7 1138.5 L793.6 1143 L794.3 1146.9 L797.5 1152.1 L802.1 1152.8 L806.6 1150.2 L808.3 1146.3 L809.2 1152.1 L810.5 1161.2 L813.1 1171.6 L816.8 1180.1 L822.2 1192.2 L826.3 1204.4 L830.3 1209.1 L835.8 1203.1 L839.8 1197.6 L841.2 1189.5 L841.8 1180.1 L841.8 1176 L846.6 1173.3 L854.7 1167.9 L860 1163.4 L864.8 1157.8 L869.2 1156.6 L871.6 1149.8 L872.8 1148.6 L878 1149.8 L885.2 1148.6 L890 1143.8 L892.4 1146.2 L893.2 1151.8 L898.4 1156.2 L901.2 1161 L903.2 1164.2 L903.6 1169 L902.4 1174.2 L905.6 1175.4 L910 1173.4 L914.4 1170.6 L917.2 1175 L918 1181 L920.8 1188.2 L921.8 1195.3 L920.4 1199.6 L919 1205.9 L923.2 1212.3 L928.2 1217.2 L928.9 1221.5 L928.2 1225.7 L931.7 1232.7 L937.3 1236.3 L940.2 1238.4 L945.8 1237.7 L943.7 1232.7 L941.6 1227.1 L940.9 1220 L936.6 1215.8 L928.9 1212.3 L926.1 1208.8 L924.6 1204.5 L922.5 1201 L924.6 1196.8 L927.5 1189.7 L928.2 1186.2 L930.3 1185.5 L934.5 1189 L940.2 1194.6 L944.4 1198.2 L947.9 1201.7 L948.6 1205.9 L951.5 1205.2 L955 1200.3 L960.6 1196.8 L967 1193.9 L967.7 1186.2 L966.3 1179.1 L958.5 1170.6 L955 1165 L951.5 1160.9 L957.7 1152.1 L964.7 1147.7 L969.1 1149.4 L970.9 1153.8 L972.7 1150.3 L979.7 1147.7 L986.8 1144.1 L996.5 1143.2 L1003.5 1137.9 L1008.8 1134"/><path d="M896 1186.5 L896.3 1193" stroke-width="3"/><path d="M839.8 1200.3 L846.6 1209.8 L850 1215.2 L845.2 1219.3 L840.5 1218 L839.8 1211.2 Z"/><path d="M807 1147 L808 1150"/><path d="M965 1158 L969 1156 L973 1158.5 L972 1163 L967.5 1165 L964.5 1162 Z"/><path d="M1015 1135 L1021.5 1134.5 L1020.5 1141 L1018 1147 L1014.5 1142 Z"/><path d="M1015.9 1163.5 L1023.8 1163.5 L1024.7 1169.7 L1021.2 1176.8 L1019.4 1181.2 L1016.8 1184.7 L1013.3 1179.4 L1012.4 1172.4 L1015 1167.1 Z"/><path d="M1018 1183 L1024 1183 L1030 1188 L1036 1190 L1038 1195 L1035 1199 L1040 1205 L1041.5 1213.8 L1037.1 1219.1 L1030 1216 L1028.3 1213.8 L1025 1210 L1022 1203 L1020 1196 L1023 1192 L1019 1188 Z"/><path d="M1026 1196 L1032 1198 L1033 1203 L1028 1203 Z"/><path d="M1001.8 1206.8 L1006 1202 L1012.4 1196.2"/><path d="M1000.9 1213.8 L1009.7 1221.8 L1006.2 1227.1 L1004.4 1233.3 L1008 1240.3 L1001.8 1246.5 L999.1 1253.6 L993 1260.6 L982.4 1258 L971.8 1257.1 L969.1 1247.4 L965.6 1239.4 L969.1 1235.9 L975.3 1234.1 L977.1 1230.6 L985.9 1225.3 L993 1220 L998.3 1214.7 Z"/><path d="M907 1220 L913.3 1220.8 L918.3 1223.6 L924.6 1229.9 L931 1233.5 L938.8 1238.4 L943.7 1244 L950 1251.1 L956.4 1256 L958 1262 L957 1268 L953.5 1272 L950.7 1270.7 L941.3 1262.6 L933.2 1254.5 L927.5 1245.5 L923.2 1239.8 L918.3 1232.7 L912.6 1227.1 L907 1221.5 Z"/><path d="M910 1232.5 L911 1233.5"/><path d="M916.5 1238.5 L918 1240.5"/><path d="M952.1 1272 L962.9 1276.1 L976.5 1278.8 L990 1281.5 L1003.5 1282.9 L1014.3 1285.6 L1020 1287 L1030 1287.5 L1040 1289"/><path d="M955 1274 L965 1279 L978 1281.5 L992 1284 L1003 1285"/><path d="M1011.5 1241.2 L1019.4 1238.6 L1035.3 1237.7 L1019.4 1243 L1013.3 1247.4 L1008.8 1255.3 L1011.5 1262.4 L1012.4 1268.6 L1016.8 1264.2 L1017.7 1257.1 L1024.7 1267.7 L1022.1 1255.3 L1028.3 1247.4 L1019 1250"/><path d="M1045.5 1235.5 L1048 1238 L1047 1243 L1050 1248 L1047 1251.8"/><path d="M1040 1258.5 L1042 1257.5"/><path d="M1050 1257 L1058 1257.5 L1054 1259"/><path d="M1081 1247.5 L1083 1249"/><path d="M1075 1269 L1075.5 1273"/><path d="M1128.5 1252.5 L1130 1252.5"/><path d="M1057.3 1245 L1066.8 1246.3 L1073.6 1249 L1077.6 1254.5 L1087.1 1251.1 L1093.9 1251.8 L1104.7 1255.8 L1115.5 1259.9 L1125 1266.6 L1131.8 1269.3 L1133.1 1273.4 L1137.2 1278.8 L1145.3 1288.3 L1138.5 1288.3 L1127.7 1281.5 L1118.2 1276.1 L1112.8 1281.5 L1107.4 1284.2 L1097.9 1280.2 L1089.8 1278.8 L1093.9 1273.4 L1088.5 1266.6 L1080.3 1262.6 L1069.5 1258.5 L1064.1 1251.8 L1058.7 1246.3 Z"/><path d="M1146.6 1255.8 L1154.8 1259.9 L1153.4 1266.6 L1145.3 1269.3 L1135.8 1269.3 L1140 1267 L1150 1264 L1151 1261"/><path d="M1161.5 1266.6 L1168 1273 L1175 1280.2" stroke-width="2.8"/><path d="M1180.5 1277.5 L1187 1283 L1195.3 1291" stroke-width="3"/><path d="M1214.3 1308.6 L1217 1312 L1219 1316.7" stroke-width="2.8"/><path d="M1203.4 1337 L1210 1340 L1217 1343.1" stroke-width="3.2"/><path d="M1260.3 1322.1 L1263 1319.5 L1266 1318 L1270 1315.3"/><path d="M1262 1321 L1265 1323 L1266 1319 Z"/><path d="M1302 1302.5 L1306 1303.8 L1309.5 1305"/><path d="M1403 1321 L1404 1322"/><path d="M1010 1331.6 L1020.8 1327.5 L1023.5 1319.4 L1030.3 1315.3 L1041.1 1305.9 L1047.9 1305.9 L1054.6 1308.6 L1056 1300.5 L1061.4 1295 L1066.8 1293.7 L1075 1296 L1083.1 1297.7 L1080.3 1309.9 L1085.8 1314 L1099.3 1322.1 L1104.7 1316.7 L1106 1305.9 L1107.4 1300.5 L1109 1291 L1112 1295 L1115.5 1301.8 L1122.3 1311.3 L1126.3 1323.5 L1135.8 1332.9 L1142.6 1342.4 L1152 1355.2"/><path d="M984.6 1355.2 L987.3 1342.4 L996.7 1335.6 L1007.6 1331.6 L1010 1331.6"/><path d="M1356.5 1146.5 L1358.5 1147.5" stroke-width="2.5"/><path d="M1364 1149 L1368 1150 L1372.3 1153 L1374 1157 L1377.7 1159.1 L1375 1161 L1373 1157"/><path d="M1581 1134.2 L1588.5 1142.1 L1593 1149.6 L1592.3 1155.7 L1597.6 1160.2 L1606.6 1164.7 L1618.7 1170.8 L1629.3 1174.5 L1638.3 1173.8 L1645.9 1178.3 L1653.4 1182.8 L1667 1187.4 L1674.6 1193.4 L1677.6 1201 L1688.2 1205.5 L1698.7 1211.5 L1704.8 1205.5 L1709.3 1211.5 L1713.8 1220.6 L1712.3 1232.7 L1704.8 1238.7 L1700.2 1244.8 L1698.7 1255.3 L1695.7 1262.9 L1697.2 1270.4 L1704.8 1281 L1710.8 1291.6 L1718.4 1303.6 L1724.4 1312.7 L1739.5 1323.3 L1744 1327.8 L1744 1341.4 L1742.5 1355"/><path d="M1562.8 1134.2 L1570 1139 L1576.4 1143.6 L1574 1141 L1568 1135"/><path d="M1627 1134.2 L1626.3 1146.6 L1630.8 1154.2 L1638.3 1161.7 L1648.9 1162.5 L1655 1158.7 L1657.2 1151.1 L1664 1149.6 L1673.1 1148.9 L1670 1160.2 L1667 1169.3 L1664.8 1174.5 L1673.1 1175.3 L1683.6 1175.3 L1688.2 1179.8 L1686.6 1190.4 L1688.2 1197.9 L1695.7 1204 L1706.3 1202.5 L1712 1207 L1716.9 1204 L1724.4 1196.4 L1735 1191.9 L1741 1190.4 L1745.5 1191.9 L1751.6 1196.4 L1766.7 1199.5 L1775.7 1197.9 L1783.3 1197.9 L1784.8 1205.5 L1792.4 1210 L1799.9 1216.1 L1809.7 1218.3"/><path d="M1739 1193 L1739.5 1200 L1740 1205.5"/><path d="M1682.1 1146.6 L1690 1142.5 L1700 1142 L1710 1146 L1720 1151 L1727.4 1156.4 L1718 1155 L1708 1150.5 L1698 1146.5 L1688 1146.5 Z"/><path d="M1730.4 1158 L1738 1156.4 L1746 1158.5 L1751.6 1162.5 L1744 1163 L1738 1165.5 L1732 1162 Z"/><path d="M1709.3 1164.5 L1714 1163.5 L1718.4 1165.5 L1713 1166.2 Z"/><path d="M1757.6 1164 L1765.2 1163.5 L1764 1165.5 L1758 1165.5 Z"/><path d="M1709 1134.5 L1711 1137"/><path d="M1722 1134 L1727 1140 L1733 1146 L1739.5 1148"/><path d="M1781 1173.5 L1781.5 1174.5"/><path d="M1784 1179.5 L1785 1180.5"/><path d="M1653.5 1245.5 L1654.5 1248" stroke-width="3"/><path d="M1021 1185 L1025 1188 L1029 1190 L1033 1193" stroke-width="3.2"/><path d="M1022 1195 L1026 1199 L1030 1203 L1034 1206" stroke-width="3.2"/><path d="M1030 1196 L1036 1198 L1039 1202" stroke-width="2.6"/><path d="M1026 1212 L1033 1214 L1038 1218" stroke-width="2.4"/><path d="M1018 1190 L1020 1194" stroke-width="2.4"/></g>
<path d="M260.4 1217.9 L300 1210 L350 1201.5 L400 1194.5 L425.7 1191.6 L460 1188.8 L488 1187.5 L531.6 1187.5 L564.1 1189.5 L620.9 1194.3 L672.3 1201.7 L712.9 1207.8 L733.2 1211.2 L764 1219.3 L782.3 1223.3 L795.8 1226 L810 1229.4 L824.9 1232.8 L838.5 1236.9 L852.7 1239.6 L864.8 1243 L878.4 1246.3 L891.9 1249.7 L905.4 1253.1 L919 1256.5 L933.2 1259.2 L946.7 1262.6 L960.9 1266 L974.4 1269.3 L988 1272 L1002.2 1274.8 L1015.4 1277.5 L1029.6 1280.2 L1043.8 1283.5 L1058 1286.3 L1071.6 1288.3 L1085.8 1290.3 L1100 1292.3 L1113.5 1294.4 L1127.7 1295.7 L1141.2 1297.1 L1154.8 1297.7 L1169 1299.1 L1181.8 1299.8 L1195.3 1300.5 L1208.9 1300.7 L1223.1 1300.7 L1237.3 1300.7 L1250.8 1300.7 L1262 1300.7 L1300.6 1298.4 L1341.2 1295 L1381.8 1288.3 L1422.3 1280.2 L1462.9 1273.4 L1503.5 1266.6 L1555.3 1253.8 L1592.3 1244.5" fill="none" stroke="#d00000" stroke-width="1.1" stroke-linejoin="round"/>
<path d="M1701 1244.5 L1751.6 1231.2 L1809.7 1218.3" fill="none" stroke="#d00000" stroke-width="1.1" stroke-linejoin="round"/>
<path d="M258 1271.9 L369 1214.4 L429.9 1198.5 L493.5 1196.4 L546.5 1198 L620.7 1205.2 L689.6 1211.8 L732 1213.1 L785 1211.8 L868.2 1208.5 L922.3 1208.2 L980.8 1208.2 L1020 1209.5 L1046.5 1208.5 L1091.2 1208.2 L1138.5 1210.5 L1161.5 1215.2 L1212.9 1222 L1270 1231.5 L1341.2 1243 L1422.3 1254.5 L1520 1265.3 L1555.3 1273.4 L1600.6 1281 L1656.5 1290 L1706.3 1296.1 L1721.4 1297.6 L1751.6 1289.3 L1789.3 1280.2 L1811 1271.2" fill="none" stroke="#00f010" stroke-width="5.5" stroke-linejoin="round" stroke-linecap="butt"/>
<path d="M734.4 1211.45 L735.4 1211.67 L736.4 1211.89 L737.4 1212.13 L738.4 1212.37 L739.4 1212.61 L740.4 1212.87 L741.4 1213.13 L742.4 1213.39 L743.4 1213.66 L744.4 1213.93 L745.4 1214.21 L746.4 1214.49 L747.4 1214.77 L748.4 1215.06 L749.4 1215.34 L750.4 1215.63 L751.4 1215.91 L752.4 1216.2 L753.4 1216.48 L754.4 1216.77 L755.4 1217.05 L756.4 1217.33 L757.4 1217.6 L758.4 1217.87 L759.4 1218.14 L760.4 1218.4 L761.4 1218.66 L762.4 1218.91 L763.4 1219.16 L764.4 1219.39 L765.4 1219.63 L766.4 1219.86 L767.4 1220.09 L768.4 1220.32 L769.4 1220.54 L770.4 1220.76 L771.4 1220.98 L772.4 1221.2 L773.4 1221.42 L774.4 1221.63 L775.4 1221.85 L776.4 1222.06 L777.4 1222.27 L778.4 1222.48 L779.4 1222.69 L780.4 1222.9 L781.4 1223.11 L782.4 1223.32 L783.4 1223.53 L784.4 1223.73 L785.4 1223.93 L786.4 1224.12 L787.4 1224.32 L788.4 1224.51 L789.4 1224.7 L790.4 1224.9 L791.4 1225.09 L792.4 1225.29 L793.4 1225.49 L794.4 1225.7 L795.4 1225.91 L796.4 1226.13 L797.4 1226.36 L798.4 1226.59 L799.4 1226.82 L800.4 1227.06 L801.4 1227.3 L802.4 1227.55 L803.4 1227.79 L804.4 1228.04 L805.4 1228.29 L806.4 1228.53 L807.4 1228.78 L808.4 1229.02 L809.4 1229.26 L810.4 1229.49 L811.4 1229.72 L812.4 1229.95 L813.4 1230.17 L814.4 1230.39 L815.4 1230.6 L816.4 1230.82 L817.4 1231.04 L818.4 1231.26 L819.4 1231.48 L820.4 1231.71 L821.4 1231.94 L822.4 1232.18 L823.4 1232.42 L824.4 1232.67 L825.4 1232.93 L826.4 1233.21 L827.4 1233.51 L828.4 1233.82 L829.4 1234.14 L830.4 1234.47 L831.4 1234.8 L832.4 1235.12 L833.4 1235.45 L834.4 1235.76 L835.4 1236.07 L836.4 1236.36 L837.4 1236.63 L838.4 1236.88 L839.4 1237.1 L840.4 1237.31 L841.4 1237.51 L842.4 1237.7 L843.4 1237.88 L844.4 1238.06 L845.4 1238.23 L846.4 1238.4 L847.4 1238.57 L848.4 1238.74 L849.4 1238.92 L850.4 1239.12 L851.4 1239.32 L852.4 1239.53 L853.4 1239.76 L854.4 1240.02 L855.4 1240.28 L856.4 1240.56 L857.4 1240.85 L858.4 1241.15 L859.4 1241.45 L860.4 1241.75 L861.4 1242.04 L862.4 1242.34 L863.4 1242.62 L864.4 1242.89 L865.4 1243.16 L866.4 1243.41 L867.4 1243.66 L868.4 1243.91 L869.4 1244.15 L870.4 1244.39 L871.4 1244.63 L872.4 1244.86 L873.4 1245.1 L874.4 1245.34 L875.4 1245.57 L876.4 1245.81 L877.4 1246.05 L878.4 1246.3 L879.4 1246.55 L880.4 1246.8 L881.4 1247.05 L882.4 1247.3 L883.4 1247.55 L884.4 1247.8 L885.4 1248.06 L886.4 1248.31 L887.4 1248.56 L888.4 1248.82 L889.4 1249.07 L890.4 1249.32 L891.4 1249.57 L892.4 1249.83 L893.4 1250.08 L894.4 1250.33 L895.4 1250.58 L896.4 1250.83 L897.4 1251.09 L898.4 1251.34 L899.4 1251.59 L900.4 1251.84 L901.4 1252.09 L902.4 1252.35 L903.4 1252.6 L904.4 1252.85 L905.4 1253.1 L906.4 1253.35 L907.4 1253.61 L908.4 1253.87 L909.4 1254.13 L910.4 1254.39 L911.4 1254.65 L912.4 1254.91 L913.4 1255.17 L914.4 1255.42 L915.4 1255.67 L916.4 1255.91 L917.4 1256.14 L918.4 1256.37 L919.4 1256.59 L920.4 1256.79 L921.4 1256.99 L922.4 1257.18 L923.4 1257.37 L924.4 1257.55 L925.4 1257.72 L926.4 1257.9 L927.4 1258.08 L928.4 1258.26 L929.4 1258.44 L930.4 1258.63 L931.4 1258.83 L932.4 1259.03 L933.4 1259.24 L934.4 1259.47 L935.4 1259.7 L936.4 1259.94 L937.4 1260.19 L938.4 1260.45 L939.4 1260.71 L940.4 1260.97 L941.4 1261.23 L942.4 1261.5 L943.4 1261.76 L944.4 1262.02 L945.4 1262.28 L946.4 1262.53 L947.4 1262.77 L948.4 1263.01 L949.4 1263.26 L950.4 1263.5 L951.4 1263.74 L952.4 1263.97 L953.4 1264.21 L954.4 1264.45 L955.4 1264.69 L956.4 1264.92 L957.4 1265.16 L958.4 1265.4 L959.4 1265.64 L960.4 1265.88 L961.4 1266.12 L962.4 1266.37 L963.4 1266.62 L964.4 1266.87 L965.4 1267.12 L966.4 1267.37 L967.4 1267.63 L968.4 1267.88 L969.4 1268.13 L970.4 1268.37 L971.4 1268.61 L972.4 1268.85 L973.4 1269.08 L974.4 1269.3 L975.4 1269.52 L976.4 1269.73 L977.4 1269.93 L978.4 1270.14 L979.4 1270.33 L980.4 1270.53 L981.4 1270.72 L982.4 1270.92 L983.4 1271.11 L984.4 1271.3 L985.4 1271.49 L986.4 1271.69 L987.4 1271.88 L988.4 1272.08 L989.4 1272.28 L990.4 1272.47 L991.4 1272.67 L992.4 1272.87 L993.4 1273.06 L994.4 1273.26 L995.4 1273.45 L996.4 1273.65 L997.4 1273.85 L998.4 1274.04 L999.4 1274.24 L1000.4 1274.44 L1001.4 1274.64 L1002.4 1274.84 L1003.4 1275.04 L1004.4 1275.25 L1005.4 1275.45 L1006.4 1275.66 L1007.4 1275.87 L1008.4 1276.07 L1009.4 1276.28 L1010.4 1276.49 L1011.4 1276.69 L1012.4 1276.9 L1013.4 1277.1 L1014.4 1277.3 L1015.4 1277.5 L1016.4 1277.69 L1017.4 1277.89 L1018.4 1278.07 L1019.4 1278.26 L1020.4 1278.44 L1021.4 1278.63 L1022.4 1278.81 L1023.4 1278.99 L1024.4 1279.18 L1025.4 1279.37 L1026.4 1279.56 L1027.4 1279.75 L1028.4 1279.95 L1029.4 1280.16 L1030.4 1280.37 L1031.4 1280.59 L1032.4 1280.82 L1033.4 1281.05 L1034.4 1281.29 L1035.4 1281.53 L1036.4 1281.77 L1037.4 1282.01 L1038.4 1282.26 L1039.4 1282.5 L1040.4 1282.73 L1041.4 1282.97 L1042.4 1283.19 L1043.4 1283.41 L1044.4 1283.63 L1045.4 1283.84 L1046.4 1284.05 L1047.4 1284.26 L1048.4 1284.47 L1049.4 1284.68 L1050.4 1284.88 L1051.4 1285.08 L1052.4 1285.28 L1053.4 1285.47 L1054.4 1285.66 L1055.4 1285.84 L1056.4 1286.02 L1057.4 1286.2 L1058.4 1286.37 L1059.4 1286.53 L1060.4 1286.69 L1061.4 1286.84 L1062.4 1286.99 L1063.4 1287.14 L1064.4 1287.28 L1065.4 1287.43 L1066.4 1287.57 L1067.4 1287.71 L1068.4 1287.85 L1069.4 1287.99 L1070.4 1288.13 L1071.4 1288.27 L1072.4 1288.41 L1073.4 1288.56 L1074.4 1288.7 L1075.4 1288.84 L1076.4 1288.98 L1077.4 1289.12 L1078.4 1289.26 L1079.4 1289.4 L1080.4 1289.54 L1081.4 1289.68 L1082.4 1289.82 L1083.4 1289.96 L1084.4 1290.1 L1085.4 1290.24 L1086.4 1290.38 L1087.4 1290.52 L1088.4 1290.66 L1089.4 1290.8 L1090.4 1290.94 L1091.4 1291.08 L1092.4 1291.22 L1093.4 1291.36 L1094.4 1291.5 L1095.4 1291.64 L1096.4 1291.78 L1097.4 1291.92 L1098.4 1292.07 L1099.4 1292.21 L1100.4 1292.36 L1101.4 1292.51 L1102.4 1292.67 L1103.4 1292.84 L1104.4 1293.01 L1105.4 1293.18 L1106.4 1293.35 L1107.4 1293.51 L1108.4 1293.68 L1109.4 1293.84 L1110.4 1293.99 L1111.4 1294.13 L1112.4 1294.27 L1113.4 1294.39 L1114.4 1294.5 L1115.4 1294.61 L1116.4 1294.71 L1117.4 1294.8 L1118.4 1294.89 L1119.4 1294.98 L1120.4 1295.07 L1121.4 1295.15 L1122.4 1295.23 L1123.4 1295.32 L1124.4 1295.4 L1125.4 1295.49 L1126.4 1295.58 L1127.4 1295.67 L1128.4 1295.77 L1129.4 1295.88 L1130.4 1295.99 L1131.4 1296.1 L1132.4 1296.22 L1133.4 1296.34 L1134.4 1296.45 L1135.4 1296.57 L1136.4 1296.68 L1137.4 1296.78 L1138.4 1296.88 L1139.4 1296.97 L1140.4 1297.05 L1141.4 1297.11 L1142.4 1297.17 L1143.4 1297.22 L1144.4 1297.26 L1145.4 1297.31 L1146.4 1297.34 L1147.4 1297.38 L1148.4 1297.42 L1149.4 1297.45 L1150.4 1297.49 L1151.4 1297.53 L1152.4 1297.57 L1153.4 1297.62 L1154.4 1297.68 L1155.4 1297.74 L1156.4 1297.81 L1157.4 1297.9 L1158.4 1298 L1159.4 1298.1 L1160.4 1298.21 L1161.4 1298.33 L1162.4 1298.44 L1163.4 1298.56 L1164.4 1298.67 L1165.4 1298.78 L1166.4 1298.88 L1167.4 1298.97 L1168.4 1299.06 L1169.4 1299.13 L1170.4 1299.19 L1171.4 1299.26 L1172.4 1299.31 L1173.4 1299.37 L1174.4 1299.42 L1175.4 1299.48 L1176.4 1299.53 L1177.4 1299.58 L1178.4 1299.63 L1179.4 1299.68 L1180.4 1299.73 L1181.4 1299.78 L1182.4 1299.83 L1183.4 1299.89 L1184.4 1299.95 L1185.4 1300.01 L1186.4 1300.07 L1187.4 1300.13 L1188.4 1300.19 L1189.4 1300.25 L1190.4 1300.31 L1191.4 1300.36 L1192.4 1300.4 L1193.4 1300.44 L1194.4 1300.48 L1195.4 1300.5 L1196.4 1300.53 L1197.4 1300.55 L1198.4 1300.57 L1199.4 1300.59 L1200.4 1300.61 L1201.4 1300.63 L1202.4 1300.64 L1203.4 1300.66 L1204.4 1300.67 L1205.4 1300.68 L1206.4 1300.69 L1207.4 1300.7 L1208.4 1300.7 L1209.4 1300.7 L1210.4 1300.7 L1211.4 1300.7 L1212.4 1300.7 L1213.4 1300.7 L1214.4 1300.7 L1215.4 1300.7 L1216.4 1300.7 L1217.4 1300.7 L1218.4 1300.7 L1219.4 1300.7 L1220.4 1300.7 L1221.4 1300.7 L1222.4 1300.7 L1223.4 1300.7 L1224.4 1300.7 L1225.4 1300.7 L1226.4 1300.7 L1227.4 1300.7 L1228.4 1300.7 L1229.4 1300.7 L1230.4 1300.7 L1231.4 1300.7 L1232.4 1300.7 L1233.4 1300.7 L1234.4 1300.7 L1235.4 1300.7 L1236.4 1300.7 L1237.4 1300.7 L1238.4 1300.7 L1239.4 1300.7 L1240.4 1300.7 L1241.4 1300.7 L1242.4 1300.7 L1243.4 1300.7 L1244.4 1300.7 L1245.4 1300.7 L1246.4 1300.7 L1247.4 1300.7 L1248.4 1300.7 L1249.4 1300.7 L1250.4 1300.7 L1251.4 1300.7 L1252.4 1300.7 L1253.4 1300.7 L1254.4 1300.7 L1255.4 1300.7 L1256.4 1300.7 L1257.4 1300.7 L1258.4 1300.7 L1259.4 1300.7 L1260.4 1300.7 L1261.4 1300.7" fill="none" stroke="#f00000" stroke-width="11.5"  stroke-dasharray="11 3"/>
<path d="M306 1247.9 L307.82 1253.29 L313.51 1253.36 L308.95 1256.76 L310.64 1262.19 L306 1258.9 L301.36 1262.19 L303.05 1256.76 L298.49 1253.36 L304.18 1253.29 Z" fill="none" stroke="#c018c0" stroke-width="1"/>
<path d="M1120.3 1176.9 L1122.12 1182.29 L1127.81 1182.36 L1123.25 1185.76 L1124.94 1191.19 L1120.3 1187.9 L1115.66 1191.19 L1117.35 1185.76 L1112.79 1182.36 L1118.48 1182.29 Z" fill="none" stroke="#c018c0" stroke-width="1"/>
<path d="M1217 1194.5 L1218.82 1199.89 L1224.51 1199.96 L1219.95 1203.36 L1221.64 1208.79 L1217 1205.5 L1212.36 1208.79 L1214.05 1203.36 L1209.49 1199.96 L1215.18 1199.89 Z" fill="none" stroke="#c018c0" stroke-width="1"/>
<path d="M1368.9 1226.3 L1370.72 1231.69 L1376.41 1231.76 L1371.85 1235.16 L1373.54 1240.59 L1368.9 1237.3 L1364.26 1240.59 L1365.95 1235.16 L1361.39 1231.76 L1367.08 1231.69 Z" fill="none" stroke="#c018c0" stroke-width="1"/>
<path d="M1715.3 1287.4 L1717.12 1292.79 L1722.81 1292.86 L1718.25 1296.26 L1719.94 1301.69 L1715.3 1298.4 L1710.66 1301.69 L1712.35 1296.26 L1707.79 1292.86 L1713.48 1292.79 Z" fill="none" stroke="#c018c0" stroke-width="1"/>
<g shape-rendering="crispEdges"><rect x="260" y="1133" width="1" height="223" fill="#000"/><rect x="1810" y="1133" width="1" height="223" fill="#000"/><rect x="260" y="1133" width="1551" height="1" fill="#000"/><rect x="260" y="1355" width="1551" height="1" fill="#000"/><rect x="260" y="1179" width="16" height="1" fill="#000"/><rect x="1795" y="1179" width="16" height="1" fill="#000"/><rect x="260" y="1244" width="16" height="1" fill="#000"/><rect x="1795" y="1244" width="16" height="1" fill="#000"/><rect x="260" y="1309" width="16" height="1" fill="#000"/><rect x="1795" y="1309" width="16" height="1" fill="#000"/><rect x="440" y="1133" width="1" height="16" fill="#000"/><rect x="440" y="1340" width="1" height="16" fill="#000"/><rect x="620" y="1133" width="1" height="16" fill="#000"/><rect x="620" y="1340" width="1" height="16" fill="#000"/><rect x="800" y="1133" width="1" height="16" fill="#000"/><rect x="800" y="1340" width="1" height="16" fill="#000"/><rect x="980" y="1133" width="1" height="16" fill="#000"/><rect x="980" y="1340" width="1" height="16" fill="#000"/><rect x="1161" y="1133" width="1" height="16" fill="#000"/><rect x="1161" y="1340" width="1" height="16" fill="#000"/><rect x="1343" y="1133" width="1" height="16" fill="#000"/><rect x="1343" y="1340" width="1" height="16" fill="#000"/><rect x="1524" y="1133" width="1" height="16" fill="#000"/><rect x="1524" y="1340" width="1" height="16" fill="#000"/></g>
<text x="187.5" y="1192.5" font-size="28.5" text-anchor="start" fill="#000" font-weight="normal">15</text>
<circle cx="224.8" cy="1173.5" r="4.4" fill="none" stroke="#000" stroke-width="1.6"/>
<text x="231.8" y="1192.5" font-size="28.5" text-anchor="start" fill="#000" font-weight="normal">N</text>
<text x="214.5" y="1257.5" font-size="28.5" text-anchor="start" fill="#000" font-weight="normal">0</text>
<circle cx="237.6" cy="1239" r="4.4" fill="none" stroke="#000" stroke-width="1.6"/>
<text x="188.5" y="1322.5" font-size="28.5" text-anchor="start" fill="#000" font-weight="normal">15</text>
<circle cx="226.2" cy="1303.7" r="4.4" fill="none" stroke="#000" stroke-width="1.6"/>
<text x="232" y="1322.5" font-size="28.5" text-anchor="start" fill="#000" font-weight="normal">S</text>
<text x="216" y="1401.5" font-size="28.5" text-anchor="start" fill="#000" font-weight="normal">GLON</text>
<text x="439.5" y="1401.5" font-size="28.5" text-anchor="middle" fill="#000" font-weight="normal">346.9</text>
<text x="620" y="1401.5" font-size="28.5" text-anchor="middle" fill="#000" font-weight="normal">028.7</text>
<text x="800" y="1401.5" font-size="28.5" text-anchor="middle" fill="#000" font-weight="normal">070.5</text>
<text x="980" y="1401.5" font-size="28.5" text-anchor="middle" fill="#000" font-weight="normal">112.4</text>
<text x="1161" y="1401.5" font-size="28.5" text-anchor="middle" fill="#000" font-weight="normal">154.5</text>
<text x="1342.5" y="1401.5" font-size="28.5" text-anchor="middle" fill="#000" font-weight="normal">196.7</text>
<text x="1523.5" y="1401.5" font-size="28.5" text-anchor="middle" fill="#000" font-weight="normal">238.8</text>
<text x="1809.5" y="1401.5" font-size="28.5" text-anchor="middle" fill="#000" font-weight="normal">305.0</text>
<text x="219" y="1442.35" font-size="28.5" text-anchor="start" fill="#000" font-weight="normal">GLAT</text>
<text x="439.5" y="1442.35" font-size="28.5" text-anchor="middle" fill="#000" font-weight="normal">+12.5</text>
<text x="620" y="1442.35" font-size="28.5" text-anchor="middle" fill="#000" font-weight="normal">+11.6</text>
<text x="800" y="1442.35" font-size="28.5" text-anchor="middle" fill="#000" font-weight="normal">+04.0</text>
<text x="980" y="1442.35" font-size="28.5" text-anchor="middle" fill="#000" font-weight="normal">-06.2</text>
<text x="1161" y="1442.35" font-size="28.5" text-anchor="middle" fill="#000" font-weight="normal">-12.5</text>
<text x="1342.5" y="1442.35" font-size="28.5" text-anchor="middle" fill="#000" font-weight="normal">-11.6</text>
<text x="1523.5" y="1442.35" font-size="28.5" text-anchor="middle" fill="#000" font-weight="normal">-03.9</text>
<text x="1809.5" y="1442.35" font-size="28.5" text-anchor="middle" fill="#000" font-weight="normal">+06.1</text>
<text x="222.5" y="1483.2" font-size="28.5" text-anchor="start" fill="#000" font-weight="normal">GALT</text>
<text x="439.5" y="1483.2" font-size="28.5" text-anchor="middle" fill="#000" font-weight="normal"> 813</text>
<text x="620" y="1483.2" font-size="28.5" text-anchor="middle" fill="#000" font-weight="normal"> 832</text>
<text x="800" y="1483.2" font-size="28.5" text-anchor="middle" fill="#000" font-weight="normal"> 722</text>
<text x="980" y="1483.2" font-size="28.5" text-anchor="middle" fill="#000" font-weight="normal"> 552</text>
<text x="1161" y="1483.2" font-size="28.5" text-anchor="middle" fill="#000" font-weight="normal"> 429</text>
<text x="1342.5" y="1483.2" font-size="28.5" text-anchor="middle" fill="#000" font-weight="normal"> 412</text>
<text x="1523.5" y="1483.2" font-size="28.5" text-anchor="middle" fill="#000" font-weight="normal"> 510</text>
<text x="1809.5" y="1483.2" font-size="28.5" text-anchor="middle" fill="#000" font-weight="normal"> 680</text>
<text x="216.5" y="1524.05" font-size="28.5" text-anchor="start" fill="#000" font-weight="normal">MLON</text>
<text x="439.5" y="1524.05" font-size="28.5" text-anchor="middle" fill="#000" font-weight="normal">061.3</text>
<text x="620" y="1524.05" font-size="28.5" text-anchor="middle" fill="#000" font-weight="normal">100.1</text>
<text x="800" y="1524.05" font-size="28.5" text-anchor="middle" fill="#000" font-weight="normal">141.7</text>
<text x="980" y="1524.05" font-size="28.5" text-anchor="middle" fill="#000" font-weight="normal">183.4</text>
<text x="1161" y="1524.05" font-size="28.5" text-anchor="middle" fill="#000" font-weight="normal">227.3</text>
<text x="1342.5" y="1524.05" font-size="28.5" text-anchor="middle" fill="#000" font-weight="normal">269.6</text>
<text x="1523.5" y="1524.05" font-size="28.5" text-anchor="middle" fill="#000" font-weight="normal">309.5</text>
<text x="1809.5" y="1524.05" font-size="28.5" text-anchor="middle" fill="#000" font-weight="normal">019.4</text>
<text x="220" y="1564.9" font-size="28.5" text-anchor="start" fill="#000" font-weight="normal">MLAT</text>
<text x="439.5" y="1564.9" font-size="28.5" text-anchor="middle" fill="#000" font-weight="normal">+00.5</text>
<text x="620" y="1564.9" font-size="28.5" text-anchor="middle" fill="#000" font-weight="normal">+00.8</text>
<text x="800" y="1564.9" font-size="28.5" text-anchor="middle" fill="#000" font-weight="normal">-04.8</text>
<text x="980" y="1564.9" font-size="28.5" text-anchor="middle" fill="#000" font-weight="normal">-15.7</text>
<text x="1161" y="1564.9" font-size="28.5" text-anchor="middle" fill="#000" font-weight="normal">-20.3</text>
<text x="1342.5" y="1564.9" font-size="28.5" text-anchor="middle" fill="#000" font-weight="normal">-11.5</text>
<text x="1523.5" y="1564.9" font-size="28.5" text-anchor="middle" fill="#000" font-weight="normal">+01.5</text>
<text x="1809.5" y="1564.9" font-size="28.5" text-anchor="middle" fill="#000" font-weight="normal">+16.8</text>
<text x="238" y="1605.75" font-size="28.5" text-anchor="start" fill="#000" font-weight="normal">UT</text>
<text x="439.5" y="1605.75" font-size="28.5" text-anchor="middle" fill="#000" font-weight="normal">15:46</text>
<text x="620" y="1605.75" font-size="28.5" text-anchor="middle" fill="#000" font-weight="normal">15:58</text>
<text x="800" y="1605.75" font-size="28.5" text-anchor="middle" fill="#000" font-weight="normal">16:11</text>
<text x="980" y="1605.75" font-size="28.5" text-anchor="middle" fill="#000" font-weight="normal">16:24</text>
<text x="1161" y="1605.75" font-size="28.5" text-anchor="middle" fill="#000" font-weight="normal">16:35</text>
<text x="1342.5" y="1605.75" font-size="28.5" text-anchor="middle" fill="#000" font-weight="normal">16:46</text>
<text x="1523.5" y="1605.75" font-size="28.5" text-anchor="middle" fill="#000" font-weight="normal">16:58</text>
<text x="1809.5" y="1605.75" font-size="28.5" text-anchor="middle" fill="#000" font-weight="normal">15:33</text>
<text x="225.5" y="1646.6" font-size="28.5" text-anchor="start" fill="#000" font-weight="normal">SLT</text>
<text x="439.5" y="1646.6" font-size="28.5" text-anchor="middle" fill="#000" font-weight="normal">15:00</text>
<text x="620" y="1646.6" font-size="28.5" text-anchor="middle" fill="#000" font-weight="normal">18:00</text>
<text x="800" y="1646.6" font-size="28.5" text-anchor="middle" fill="#000" font-weight="normal">21:00</text>
<text x="980" y="1646.6" font-size="28.5" text-anchor="middle" fill="#000" font-weight="normal">00:00</text>
<text x="1161" y="1646.6" font-size="28.5" text-anchor="middle" fill="#000" font-weight="normal">03:00</text>
<text x="1342.5" y="1646.6" font-size="28.5" text-anchor="middle" fill="#000" font-weight="normal">06:00</text>
<text x="1523.5" y="1646.6" font-size="28.5" text-anchor="middle" fill="#000" font-weight="normal">09:00</text>
<text x="1809.5" y="1646.6" font-size="28.5" text-anchor="middle" fill="#000" font-weight="normal">12:00</text>
<text transform="translate(1899.5 1667.5) rotate(-90)" font-size="22" fill="#000">Preliminary corrected calibration, 2/11/09</text>
<text transform="translate(1925.4 1667.5) rotate(-90)" font-size="22" fill="#000">Produced 27-Oct-2009 19:12:38</text>
</svg></body></html>
